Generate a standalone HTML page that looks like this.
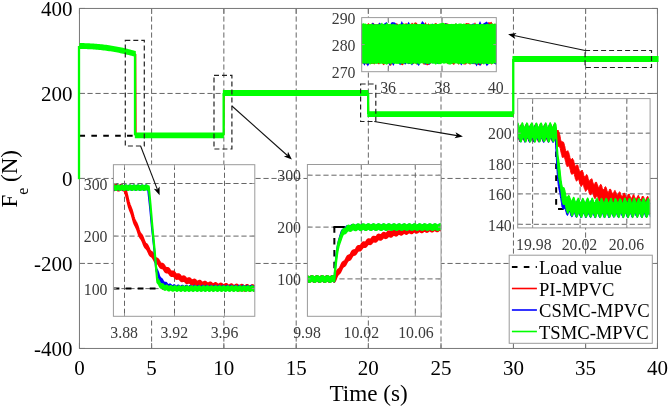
<!DOCTYPE html><html><head><meta charset="utf-8"><style>html,body{margin:0;padding:0;background:#fff;overflow:hidden;}svg{display:block;}#w{will-change:transform;width:669px;height:407px;}</style></head><body><div id="w"><svg width="669" height="407" viewBox="0 0 669 407"><rect width="669" height="407" fill="#fff"/>
<g stroke="#666" stroke-width="1" stroke-dasharray="5.2 2.8"><line x1="151.6" y1="8.45" x2="151.6" y2="348.45"/><line x1="223.85" y1="8.45" x2="223.85" y2="348.45"/><line x1="296.2" y1="8.45" x2="296.2" y2="348.45"/><line x1="368.35" y1="8.45" x2="368.35" y2="348.45"/><line x1="441" y1="8.45" x2="441" y2="348.45"/><line x1="513.45" y1="8.45" x2="513.45" y2="348.45"/><line x1="585.6" y1="8.45" x2="585.6" y2="348.45"/><line x1="79.45" y1="93.45" x2="657.45" y2="93.45"/><line x1="79.45" y1="178.45" x2="657.45" y2="178.45"/><line x1="79.45" y1="263.45" x2="657.45" y2="263.45"/></g>
<g stroke="#777" stroke-width="1"><line x1="79.45" y1="348.45" x2="79.45" y2="342.95"/><line x1="79.45" y1="8.45" x2="79.45" y2="13.95"/><line x1="151.6" y1="348.45" x2="151.6" y2="342.95"/><line x1="151.6" y1="8.45" x2="151.6" y2="13.95"/><line x1="223.85" y1="348.45" x2="223.85" y2="342.95"/><line x1="223.85" y1="8.45" x2="223.85" y2="13.95"/><line x1="296.2" y1="348.45" x2="296.2" y2="342.95"/><line x1="296.2" y1="8.45" x2="296.2" y2="13.95"/><line x1="368.35" y1="348.45" x2="368.35" y2="342.95"/><line x1="368.35" y1="8.45" x2="368.35" y2="13.95"/><line x1="441" y1="348.45" x2="441" y2="342.95"/><line x1="441" y1="8.45" x2="441" y2="13.95"/><line x1="513.45" y1="348.45" x2="513.45" y2="342.95"/><line x1="513.45" y1="8.45" x2="513.45" y2="13.95"/><line x1="585.6" y1="348.45" x2="585.6" y2="342.95"/><line x1="585.6" y1="8.45" x2="585.6" y2="13.95"/><line x1="657.45" y1="348.45" x2="657.45" y2="342.95"/><line x1="657.45" y1="8.45" x2="657.45" y2="13.95"/><line x1="79.45" y1="348.45" x2="84.95" y2="348.45"/><line x1="657.45" y1="348.45" x2="651.95" y2="348.45"/><line x1="79.45" y1="263.45" x2="84.95" y2="263.45"/><line x1="657.45" y1="263.45" x2="651.95" y2="263.45"/><line x1="79.45" y1="178.45" x2="84.95" y2="178.45"/><line x1="657.45" y1="178.45" x2="651.95" y2="178.45"/><line x1="79.45" y1="93.45" x2="84.95" y2="93.45"/><line x1="657.45" y1="93.45" x2="651.95" y2="93.45"/><line x1="79.45" y1="8.45" x2="84.95" y2="8.45"/><line x1="657.45" y1="8.45" x2="651.95" y2="8.45"/></g>
<rect x="79.45" y="8.45" width="578" height="340" fill="none" stroke="#777" stroke-width="1"/>
<polyline points="79.45,135.65 135.81,135.65" fill="none" stroke="#000" stroke-width="2" stroke-dasharray="5.6 6.3"/>
<polyline points="79.45,177.75 79.45,46.01 80.86,46.02 82.27,46.03 83.68,46.06 85.09,46.09 86.49,46.14 87.9,46.19 89.31,46.26 90.72,46.33 92.13,46.42 93.54,46.51 94.95,46.62 96.36,46.73 97.77,46.86 99.17,46.99 100.58,47.13 101.99,47.29 103.4,47.45 104.81,47.63 106.22,47.81 107.63,48.01 109.04,48.21 110.45,48.42 111.85,48.65 113.26,48.88 114.67,49.13 116.08,49.38 117.49,49.65 118.9,49.92 120.31,50.2 121.72,50.5 123.13,50.8 124.53,51.11 125.94,51.44 127.35,51.77 128.76,52.12 130.17,52.47 131.58,52.83 132.99,53.21 134.4,53.59 135.81,53.98 136.17,135.35 223.85,135.35 224.31,92.95 368.35,92.95 368.81,114.15 513.45,114.15 513.31,59.03 657.45,59.03" fill="none" stroke="#ff0000" stroke-width="1.0" />
<polygon points="79.45,43.06 80.86,43.07 82.27,43.08 83.68,43.11 85.09,43.14 86.49,43.19 87.9,43.24 89.31,43.31 90.72,43.38 92.13,43.47 93.54,43.56 94.95,43.67 96.36,43.78 97.77,43.91 99.17,44.04 100.58,44.18 101.99,44.34 103.4,44.5 104.81,44.68 106.22,44.86 107.63,45.06 109.04,45.26 110.45,45.47 111.85,45.7 113.26,45.93 114.67,46.18 116.08,46.43 117.49,46.7 118.9,46.97 120.31,47.25 121.72,47.55 123.13,47.85 124.53,48.16 125.94,48.49 127.35,48.82 128.76,49.17 130.17,49.52 131.58,49.88 132.99,50.26 134.4,50.64 135.81,51.03 135.81,56.93 134.4,56.54 132.99,56.16 131.58,55.78 130.17,55.42 128.76,55.07 127.35,54.72 125.94,54.39 124.53,54.06 123.13,53.75 121.72,53.45 120.31,53.15 118.9,52.87 117.49,52.6 116.08,52.33 114.67,52.08 113.26,51.83 111.85,51.6 110.45,51.37 109.04,51.16 107.63,50.96 106.22,50.76 104.81,50.58 103.4,50.4 101.99,50.24 100.58,50.08 99.17,49.94 97.77,49.81 96.36,49.68 94.95,49.57 93.54,49.46 92.13,49.37 90.72,49.28 89.31,49.21 87.9,49.14 86.49,49.09 85.09,49.04 83.68,49.01 82.27,48.98 80.86,48.97 79.45,48.96" fill="#00ff00"/>
<polygon points="134.81,132.4 223.85,132.4 223.85,138.3 134.81,138.3" fill="#00ff00"/>
<polygon points="222.85,90 368.35,90 368.35,95.9 222.85,95.9" fill="#00ff00"/>
<polygon points="367.35,111.2 513.45,111.2 513.45,117.1 367.35,117.1" fill="#00ff00"/>
<polygon points="512.45,56.08 658.55,56.08 658.55,61.98 512.45,61.98" fill="#00ff00"/>
<line x1="79" y1="179.23" x2="79" y2="46.01" stroke="#00ff00" stroke-width="2.3"/>
<line x1="135" y1="53.98" x2="135" y2="135.35" stroke="#00ff00" stroke-width="2.3"/>
<line x1="223.65" y1="135.35" x2="223.65" y2="92.95" stroke="#00ff00" stroke-width="2.3"/>
<line x1="368.15" y1="92.95" x2="368.15" y2="114.15" stroke="#00ff00" stroke-width="2.3"/>
<line x1="513.25" y1="114.15" x2="513.25" y2="59.03" stroke="#00ff00" stroke-width="2.3"/>
<g fill="none" stroke="#222" stroke-width="1.2" stroke-dasharray="5 3"><rect x="125.3" y="40.4" width="19" height="105.6"/><rect x="214" y="75.4" width="17.9" height="73.6"/><rect x="360.6" y="84" width="15.2" height="37.5"/><rect x="585.1" y="50.5" width="66.4" height="17"/></g>
<clipPath id="c1"><rect x="113.4" y="164.7" width="141.4" height="151.6"/></clipPath><rect x="113.4" y="164.7" width="141.4" height="151.6" fill="#fff"/><g stroke="#666" stroke-width="1" stroke-dasharray="5.2 2.8"><line x1="124.5" y1="164.7" x2="124.5" y2="316.3"/><line x1="174.5" y1="164.7" x2="174.5" y2="316.3"/><line x1="224.5" y1="164.7" x2="224.5" y2="316.3"/><line x1="113.4" y1="183.5" x2="254.8" y2="183.5"/><line x1="113.4" y1="236.1" x2="254.8" y2="236.1"/><line x1="113.4" y1="288.6" x2="254.8" y2="288.6"/></g><g clip-path="url(#c1)"><polyline points="113.6,288.6 257,288.6" fill="none" stroke="#000" stroke-width="2" stroke-dasharray="5.8 6.25"/><polygon points="110.75,184.91 110.99,184.96 111.24,185.06 111.48,185.2 111.73,185.38 111.97,185.56 112.21,185.75 112.46,185.92 112.7,186.06 112.94,186.16 113.19,186.2 113.43,186.19 113.68,186.13 113.92,186.02 114.16,185.87 114.41,185.69 114.65,185.5 114.89,185.32 115.14,185.15 115.38,185.02 115.63,184.94 115.87,184.9 116.11,184.93 116.36,185 116.6,185.12 116.84,185.28 117.09,185.46 117.33,185.65 117.58,185.83 117.82,185.99 118.06,186.11 118.31,186.18 118.55,186.2 118.79,186.17 119.04,186.08 119.28,185.95 119.53,185.79 119.77,185.6 120.01,185.41 120.26,185.24 120.5,185.09 120.74,184.98 120.99,184.92 121.23,184.91 121.48,184.95 121.72,185.05 121.96,185.19 122.21,185.36 122.45,185.55 122.69,185.74 122.94,185.91 123.18,186.05 123.43,186.15 123.67,186.2 123.91,186.19 124.16,186.14 124.4,186.03 124.64,186.46 124.89,187.26 125.13,188.03 125.38,188.8 125.62,189.58 125.86,190.38 126.11,191.22 126.35,192.1 126.59,193.03 126.84,194 127.08,195.01 127.33,196.05 127.57,197.1 127.81,198.16 128.06,199.2 128.3,200.2 128.54,201.17 128.79,202.08 129.03,202.93 129.28,203.72 129.52,204.44 129.76,205.12 130.01,205.75 130.25,206.35 130.49,206.94 130.74,207.53 130.98,208.14 131.23,208.78 131.47,209.46 131.71,210.19 131.96,210.97 132.2,211.79 132.44,212.64 132.69,213.53 132.93,214.42 133.18,215.3 133.42,216.17 133.66,217 133.91,217.78 134.15,218.51 134.39,219.17 134.64,219.78 134.88,220.32 135.13,220.83 135.37,221.29 135.61,221.74 135.86,222.18 136.1,222.63 136.34,223.11 136.59,223.63 136.83,224.19 137.08,224.8 137.32,225.46 137.56,226.16 137.81,226.9 138.05,227.65 138.29,228.41 138.54,229.15 138.78,229.87 139.03,230.55 139.27,231.18 139.51,231.75 139.76,232.27 140,232.72 140.24,233.12 140.49,233.48 140.73,233.82 140.98,234.14 141.22,234.47 141.46,234.81 141.71,235.19 141.95,235.61 142.19,236.08 142.44,236.61 142.68,237.17 142.93,237.78 143.17,238.41 143.41,239.06 143.66,239.71 143.9,240.34 144.14,240.94 144.39,241.49 144.63,241.99 144.88,242.43 145.12,242.82 145.36,243.15 145.61,243.43 145.85,243.68 146.09,243.91 146.34,244.13 146.58,244.37 146.83,244.64 147.07,244.94 147.31,245.29 147.56,245.69 147.8,246.15 148.04,246.64 148.29,247.17 148.53,247.73 148.78,248.29 149.02,248.85 149.26,249.38 149.51,249.87 149.75,250.32 149.99,250.71 150.24,251.04 150.48,251.31 150.73,251.54 150.97,251.72 151.21,251.88 151.46,252.03 151.7,252.18 151.94,252.35 152.19,252.56 152.43,252.81 152.68,253.11 152.92,253.46 153.16,253.86 153.41,254.3 153.65,254.78 153.89,255.27 154.14,255.76 154.38,256.23 154.63,256.68 154.87,257.08 155.11,257.43 155.36,257.73 155.6,257.97 155.84,258.15 156.09,258.29 156.33,258.4 156.58,258.49 156.82,258.57 157.06,258.67 157.31,258.79 157.55,258.96 157.79,259.17 158.04,259.43 158.28,259.74 158.53,260.11 158.77,260.51 159.01,260.93 159.26,261.36 159.5,261.79 159.74,262.2 159.99,262.57 160.23,262.9 160.48,263.17 160.72,263.38 160.96,263.54 161.21,263.65 161.45,263.72 161.69,263.77 161.94,263.8 162.18,263.84 162.43,263.89 162.67,263.98 162.91,264.12 163.16,264.3 163.4,264.54 163.64,264.83 163.89,265.16 164.13,265.53 164.38,265.91 164.62,266.3 164.86,266.68 165.11,267.02 165.35,267.33 165.59,267.59 165.84,267.79 166.08,267.93 166.33,268.03 166.57,268.07 166.81,268.09 167.06,268.08 167.3,268.07 167.54,268.07 167.79,268.1 168.03,268.17 168.28,268.29 168.52,268.46 168.76,268.68 169.01,268.96 169.25,269.27 169.49,269.6 169.74,269.95 169.98,270.3 170.23,270.63 170.47,270.92 170.71,271.17 170.96,271.36 171.2,271.5 171.44,271.59 171.69,271.62 171.93,271.62 172.18,271.59 172.42,271.54 172.66,271.5 172.91,271.48 173.15,271.5 173.39,271.56 173.64,271.67 173.88,271.83 174.13,272.04 174.37,272.3 174.61,272.6 174.86,272.91 175.1,273.23 175.34,273.54 175.59,273.82 175.83,274.07 176.08,274.26 176.32,274.4 176.56,274.49 176.81,274.52 177.05,274.51 177.29,274.46 177.54,274.39 177.78,274.32 178.03,274.26 178.27,274.23 178.51,274.24 178.76,274.29 179,274.4 179.24,274.56 179.49,274.77 179.73,275.02 179.98,275.3 180.22,275.6 180.46,275.89 180.71,276.16 180.95,276.41 181.19,276.6 181.44,276.75 181.68,276.84 181.93,276.88 182.17,276.87 182.41,276.81 182.66,276.73 182.9,276.64 183.14,276.55 183.39,276.48 183.63,276.44 183.88,276.45 184.12,276.51 184.36,276.62 184.61,276.78 184.85,276.99 185.09,277.24 185.34,277.51 185.58,277.78 185.83,278.05 186.07,278.29 186.31,278.49 186.56,278.65 186.8,278.75 187.04,278.8 187.29,278.79 187.53,278.74 187.78,278.65 188.02,278.55 188.26,278.44 188.51,278.34 188.75,278.26 188.99,278.23 189.24,278.24 189.48,278.3 189.73,278.42 189.97,278.59 190.21,278.8 190.46,279.05 190.7,279.3 190.94,279.56 191.19,279.8 191.43,280.01 191.68,280.18 191.92,280.29 192.16,280.35 192.41,280.36 192.65,280.32 192.89,280.23 193.14,280.12 193.38,280 193.63,279.87 193.87,279.77 194.11,279.7 194.36,279.67 194.6,279.69 194.84,279.77 195.09,279.9 195.33,280.07 195.58,280.29 195.82,280.52 196.06,280.77 196.31,281.01 196.55,281.22 196.79,281.4 197.04,281.53 197.28,281.61 197.53,281.63 197.77,281.6 198.01,281.53 198.26,281.42 198.5,281.29 198.74,281.15 198.99,281.02 199.23,280.92 199.48,280.85 199.72,280.83 199.96,280.87 200.21,280.96 200.45,281.1 200.69,281.29 200.94,281.5 201.18,281.73 201.43,281.97 201.67,282.19 201.91,282.37 202.16,282.52 202.4,282.62 202.64,282.66 202.89,282.65 203.13,282.59 203.38,282.49 203.62,282.35 203.86,282.21 204.11,282.06 204.35,281.94 204.59,281.84 204.84,281.79 205.08,281.78 205.33,281.84 205.57,281.94 205.81,282.09 206.06,282.29 206.3,282.5 206.54,282.73 206.79,282.95 207.03,283.15 207.28,283.31 207.52,283.43 207.76,283.49 208.01,283.5 208.25,283.46 208.49,283.37 208.74,283.24 208.98,283.09 209.23,282.93 209.47,282.79 209.71,282.67 209.96,282.58 210.2,282.54 210.44,282.56 210.69,282.63 210.93,282.75 211.18,282.91 211.42,283.11 211.66,283.33 211.91,283.55 212.15,283.75 212.39,283.93 212.64,284.06 212.88,284.15 213.13,284.18 213.37,284.16 213.61,284.09 213.86,283.97 214.1,283.83 214.34,283.67 214.59,283.51 214.83,283.36 215.08,283.25 215.32,283.18 215.56,283.16 215.81,283.2 216.05,283.28 216.29,283.42 216.54,283.6 216.78,283.8 217.03,284.01 217.27,284.22 217.51,284.41 217.76,284.56 218,284.67 218.24,284.73 218.49,284.73 218.73,284.68 218.98,284.58 219.22,284.44 219.46,284.28 219.71,284.12 219.95,283.96 220.19,283.82 220.44,283.72 220.68,283.67 220.93,283.67 221.17,283.72 221.41,283.83 221.66,283.98 221.9,284.17 222.14,284.37 222.39,284.58 222.63,284.77 222.88,284.94 223.12,285.07 223.36,285.15 223.61,285.18 223.85,285.15 224.09,285.07 224.34,284.95 224.58,284.8 224.83,284.63 225.07,284.46 225.31,284.31 225.56,284.18 225.8,284.1 226.04,284.07 226.29,284.09 226.53,284.16 226.78,284.29 227.02,284.45 227.26,284.65 227.51,284.85 227.75,285.05 227.99,285.23 228.24,285.38 228.48,285.49 228.73,285.54 228.97,285.54 229.21,285.48 229.46,285.38 229.7,285.24 229.94,285.07 230.19,284.9 230.43,284.73 230.68,284.58 230.92,284.47 231.16,284.41 231.41,284.4 231.65,284.44 231.89,284.54 232.14,284.68 232.38,284.85 232.63,285.05 232.87,285.25 233.11,285.44 233.36,285.61 233.6,285.74 233.84,285.81 234.09,285.84 234.33,285.81 234.58,285.73 234.82,285.6 235.06,285.45 235.31,285.27 235.55,285.09 235.79,284.93 236.04,284.8 236.28,284.71 236.53,284.66 236.77,284.68 237.01,284.74 237.26,284.86 237.5,285.01 237.74,285.2 237.99,285.4 238.23,285.59 238.48,285.77 238.72,285.92 238.96,286.02 239.21,286.07 239.45,286.07 239.69,286.01 239.94,285.91 240.18,285.76 240.43,285.59 240.67,285.41 240.91,285.24 241.16,285.09 241.4,284.97 241.64,284.9 241.89,284.88 242.13,284.91 242.38,285 242.62,285.13 242.86,285.3 243.11,285.49 243.35,285.69 243.59,285.88 243.84,286.04 244.08,286.17 244.33,286.25 244.57,286.27 244.81,286.24 245.06,286.16 245.3,286.03 245.54,285.87 245.79,285.7 246.03,285.52 246.28,285.35 246.52,285.21 246.76,285.11 247.01,285.06 247.25,285.06 247.49,285.12 247.74,285.23 247.98,285.38 248.23,285.56 248.47,285.75 248.71,285.94 248.96,286.12 249.2,286.27 249.44,286.37 249.69,286.42 249.93,286.42 250.18,286.36 250.42,286.26 250.66,286.11 250.91,285.94 251.15,285.76 251.39,285.58 251.64,285.43 251.88,285.3 252.13,285.22 252.37,285.19 252.61,285.22 252.86,285.3 253.1,285.43 253.34,285.59 253.59,285.78 253.83,285.97 254.08,286.16 254.32,286.32 254.56,286.45 254.81,286.53 255.05,286.56 255.29,286.53 255.54,286.45 255.78,286.32 256.03,286.16 256.27,285.98 256.51,285.8 256.76,285.63 257,285.48 257,289.78 256.76,289.93 256.51,290.1 256.27,290.28 256.03,290.46 255.78,290.62 255.54,290.75 255.29,290.83 255.05,290.86 254.81,290.83 254.56,290.75 254.32,290.62 254.08,290.46 253.83,290.27 253.59,290.08 253.34,289.89 253.1,289.73 252.86,289.6 252.61,289.52 252.37,289.49 252.13,289.52 251.88,289.6 251.64,289.73 251.39,289.88 251.15,290.06 250.91,290.24 250.66,290.41 250.42,290.56 250.18,290.66 249.93,290.72 249.69,290.72 249.44,290.67 249.2,290.57 248.96,290.42 248.71,290.24 248.47,290.05 248.23,289.86 247.98,289.68 247.74,289.53 247.49,289.42 247.25,289.36 247.01,289.36 246.76,289.41 246.52,289.51 246.28,289.65 246.03,289.82 245.79,290 245.54,290.17 245.3,290.33 245.06,290.46 244.81,290.54 244.57,290.57 244.33,290.55 244.08,290.47 243.84,290.34 243.59,290.18 243.35,289.99 243.11,289.79 242.86,289.6 242.62,289.43 242.38,289.3 242.13,289.21 241.89,289.18 241.64,289.2 241.4,289.27 241.16,289.39 240.91,289.54 240.67,289.71 240.43,289.89 240.18,290.06 239.94,290.21 239.69,290.31 239.45,290.37 239.21,290.37 238.96,290.32 238.72,290.22 238.48,290.07 238.23,289.89 237.99,289.7 237.74,289.5 237.5,289.31 237.26,289.16 237.01,289.04 236.77,288.98 236.53,288.96 236.28,289.01 236.04,289.1 235.79,289.23 235.55,289.39 235.31,289.57 235.06,289.75 234.82,289.9 234.58,290.03 234.33,290.11 234.09,290.14 233.84,290.11 233.6,290.04 233.36,289.91 233.11,289.74 232.87,289.55 232.63,289.35 232.38,289.15 232.14,288.98 231.89,288.84 231.65,288.74 231.41,288.7 231.16,288.71 230.92,288.77 230.68,288.88 230.43,289.03 230.19,289.2 229.94,289.37 229.7,289.54 229.46,289.68 229.21,289.78 228.97,289.84 228.73,289.84 228.48,289.79 228.24,289.68 227.99,289.53 227.75,289.35 227.51,289.15 227.26,288.95 227.02,288.75 226.78,288.59 226.53,288.46 226.29,288.39 226.04,288.37 225.8,288.4 225.56,288.48 225.31,288.61 225.07,288.76 224.83,288.93 224.58,289.1 224.34,289.25 224.09,289.37 223.85,289.45 223.61,289.48 223.36,289.45 223.12,289.37 222.88,289.24 222.63,289.07 222.39,288.88 222.14,288.67 221.9,288.47 221.66,288.28 221.41,288.13 221.17,288.02 220.93,287.97 220.68,287.97 220.44,288.02 220.19,288.12 219.95,288.26 219.71,288.42 219.46,288.58 219.22,288.74 218.98,288.88 218.73,288.98 218.49,289.03 218.24,289.03 218,288.97 217.76,288.86 217.51,288.71 217.27,288.52 217.03,288.31 216.78,288.1 216.54,287.9 216.29,287.72 216.05,287.58 215.81,287.5 215.56,287.46 215.32,287.48 215.08,287.55 214.83,287.66 214.59,287.81 214.34,287.97 214.1,288.13 213.86,288.27 213.61,288.39 213.37,288.46 213.13,288.48 212.88,288.45 212.64,288.36 212.39,288.23 212.15,288.05 211.91,287.85 211.66,287.63 211.42,287.41 211.18,287.21 210.93,287.05 210.69,286.93 210.44,286.86 210.2,286.84 209.96,286.88 209.71,286.97 209.47,287.09 209.23,287.23 208.98,287.39 208.74,287.54 208.49,287.67 208.25,287.76 208.01,287.8 207.76,287.79 207.52,287.73 207.28,287.61 207.03,287.45 206.79,287.25 206.54,287.03 206.3,286.8 206.06,286.59 205.81,286.39 205.57,286.24 205.33,286.14 205.08,286.08 204.84,286.09 204.59,286.14 204.35,286.24 204.11,286.36 203.86,286.51 203.62,286.65 203.38,286.79 203.13,286.89 202.89,286.95 202.64,286.96 202.4,286.92 202.16,286.82 201.91,286.67 201.67,286.49 201.43,286.27 201.18,286.03 200.94,285.8 200.69,285.59 200.45,285.4 200.21,285.26 199.96,285.17 199.72,285.13 199.48,285.15 199.23,285.22 198.99,285.32 198.74,285.45 198.5,285.59 198.26,285.72 198.01,285.83 197.77,285.9 197.53,285.93 197.28,285.91 197.04,285.83 196.79,285.7 196.55,285.52 196.31,285.31 196.06,285.07 195.82,284.82 195.58,284.59 195.33,284.37 195.09,284.2 194.84,284.07 194.6,283.99 194.36,283.97 194.11,284 193.87,284.07 193.63,284.17 193.38,284.3 193.14,284.42 192.89,284.53 192.65,284.62 192.41,284.66 192.16,284.65 191.92,284.59 191.68,284.48 191.43,284.31 191.19,284.1 190.94,283.86 190.7,283.6 190.46,283.35 190.21,283.1 189.97,282.89 189.73,282.72 189.48,282.6 189.24,282.54 188.99,282.53 188.75,282.56 188.51,282.64 188.26,282.74 188.02,282.85 187.78,282.95 187.53,283.04 187.29,283.09 187.04,283.1 186.8,283.05 186.56,282.95 186.31,282.79 186.07,282.59 185.83,282.35 185.58,282.08 185.34,281.81 185.09,281.54 184.85,281.29 184.61,281.08 184.36,280.92 184.12,280.81 183.88,280.75 183.63,280.74 183.39,280.78 183.14,280.85 182.9,280.94 182.66,281.03 182.41,281.11 182.17,281.17 181.93,281.18 181.68,281.14 181.44,281.05 181.19,280.9 180.95,280.71 180.71,280.46 180.46,280.19 180.22,279.9 179.98,279.6 179.73,279.32 179.49,279.07 179.24,278.86 179,278.7 178.76,278.59 178.51,278.54 178.27,278.53 178.03,278.56 177.78,278.62 177.54,278.69 177.29,278.76 177.05,278.81 176.81,278.82 176.56,278.79 176.32,278.7 176.08,278.56 175.83,278.37 175.59,278.12 175.34,277.84 175.1,277.53 174.86,277.21 174.61,276.9 174.37,276.6 174.13,276.34 173.88,276.13 173.64,275.97 173.39,275.86 173.15,275.8 172.91,275.78 172.66,275.8 172.42,275.84 172.18,275.89 171.93,275.92 171.69,275.92 171.44,275.89 171.2,275.8 170.96,275.66 170.71,275.47 170.47,275.22 170.23,274.93 169.98,274.6 169.74,274.25 169.49,273.9 169.25,273.57 169.01,273.26 168.76,272.98 168.52,272.76 168.28,272.59 168.03,272.47 167.79,272.4 167.54,272.37 167.3,272.37 167.06,272.38 166.81,272.39 166.57,272.37 166.33,272.33 166.08,272.23 165.84,272.09 165.59,271.89 165.35,271.63 165.11,271.32 164.86,270.98 164.62,270.6 164.38,270.21 164.13,269.83 163.89,269.46 163.64,269.13 163.4,268.84 163.16,268.6 162.91,268.42 162.67,268.28 162.43,268.19 162.18,268.14 161.94,268.1 161.69,268.07 161.45,268.02 161.21,267.95 160.96,267.84 160.72,267.68 160.48,267.47 160.23,267.2 159.99,266.87 159.74,266.5 159.5,266.09 159.26,265.66 159.01,265.23 158.77,264.81 158.53,264.41 158.28,264.04 158.04,263.73 157.79,263.47 157.55,263.26 157.31,263.09 157.06,262.97 156.82,262.87 156.58,262.79 156.33,262.7 156.09,262.59 155.84,262.45 155.6,262.27 155.36,262.03 155.11,261.73 154.87,261.38 154.63,260.98 154.38,260.53 154.14,260.06 153.89,259.57 153.65,259.08 153.41,258.6 153.16,258.16 152.92,257.76 152.68,257.41 152.43,257.11 152.19,256.86 151.94,256.65 151.7,256.48 151.46,256.33 151.21,256.18 150.97,256.02 150.73,255.84 150.48,255.61 150.24,255.34 149.99,255.01 149.75,254.62 149.51,254.17 149.26,253.68 149.02,253.15 148.78,252.59 148.53,252.03 148.29,251.47 148.04,250.94 147.8,250.45 147.56,249.99 147.31,249.59 147.07,249.24 146.83,248.94 146.58,248.67 146.34,248.43 146.09,248.21 145.85,247.98 145.61,247.73 145.36,247.45 145.12,247.12 144.88,246.73 144.63,246.29 144.39,245.79 144.14,245.24 143.9,244.64 143.66,244.01 143.41,243.36 143.17,242.71 142.93,242.08 142.68,241.47 142.44,240.91 142.19,240.38 141.95,239.91 141.71,239.49 141.46,239.11 141.22,238.77 140.98,238.44 140.73,238.12 140.49,237.78 140.24,237.42 140,237.02 139.76,236.57 139.51,236.05 139.27,235.48 139.03,234.85 138.78,234.17 138.54,233.45 138.29,232.71 138.05,231.95 137.81,231.2 137.56,230.46 137.32,229.76 137.08,229.1 136.83,228.49 136.59,227.93 136.34,227.41 136.1,226.93 135.86,226.48 135.61,226.04 135.37,225.59 135.13,225.13 134.88,224.62 134.64,224.08 134.39,223.47 134.15,222.81 133.91,222.08 133.66,221.3 133.42,220.47 133.18,219.6 132.93,218.72 132.69,217.83 132.44,216.94 132.2,216.09 131.96,215.27 131.71,214.49 131.47,213.76 131.23,213.08 130.98,212.44 130.74,211.83 130.49,211.24 130.25,210.65 130.01,210.05 129.76,209.42 129.52,208.74 129.28,208.02 129.03,207.23 128.79,206.38 128.54,205.47 128.3,204.5 128.06,203.5 127.81,202.46 127.57,201.4 127.33,200.35 127.08,199.31 126.84,198.3 126.59,197.33 126.35,196.4 126.11,195.52 125.86,194.68 125.62,193.88 125.38,193.1 125.13,192.33 124.89,191.56 124.64,190.76 124.4,190.33 124.16,190.44 123.91,190.49 123.67,190.5 123.43,190.45 123.18,190.35 122.94,190.21 122.69,190.04 122.45,189.85 122.21,189.66 121.96,189.49 121.72,189.35 121.48,189.25 121.23,189.21 120.99,189.22 120.74,189.28 120.5,189.39 120.26,189.54 120.01,189.71 119.77,189.9 119.53,190.09 119.28,190.25 119.04,190.38 118.79,190.47 118.55,190.5 118.31,190.48 118.06,190.41 117.82,190.29 117.58,190.13 117.33,189.95 117.09,189.76 116.84,189.58 116.6,189.42 116.36,189.3 116.11,189.23 115.87,189.2 115.63,189.24 115.38,189.32 115.14,189.45 114.89,189.62 114.65,189.8 114.41,189.99 114.16,190.17 113.92,190.32 113.68,190.43 113.43,190.49 113.19,190.5 112.94,190.46 112.7,190.36 112.46,190.22 112.21,190.05 111.97,189.86 111.73,189.68 111.48,189.5 111.24,189.36 110.99,189.26 110.75,189.21" fill="#ff0000" stroke="#ff0000" stroke-width="2.2" stroke-linejoin="round"/><polygon points="110.75,186.22 110.99,186.35 111.24,186.4 111.48,186.37 111.73,186.26 111.97,186.09 112.21,185.88 112.46,185.65 112.7,185.45 112.94,185.3 113.19,185.21 113.43,185.22 113.68,185.3 113.92,185.45 114.16,185.66 114.41,185.88 114.65,186.1 114.89,186.27 115.14,186.38 115.38,186.4 115.63,186.35 115.87,186.21 116.11,186.02 116.36,185.8 116.6,185.58 116.84,185.39 117.09,185.26 117.33,185.21 117.58,185.23 117.82,185.34 118.06,185.52 118.31,185.73 118.55,185.96 118.79,186.16 119.04,186.31 119.28,186.39 119.53,186.39 119.77,186.31 120.01,186.15 120.26,185.95 120.5,185.73 120.74,185.51 120.99,185.34 121.23,185.23 121.48,185.21 121.72,185.26 121.96,185.4 122.21,185.59 122.45,185.81 122.69,186.03 122.94,186.22 123.18,186.35 123.43,186.4 123.67,186.37 123.91,186.26 124.16,186.09 124.4,185.88 124.64,185.65 124.89,185.45 125.13,185.3 125.38,185.21 125.62,185.22 125.86,185.3 126.11,185.45 126.35,185.66 126.59,185.88 126.84,186.1 127.08,186.27 127.33,186.38 127.57,186.4 127.81,186.35 128.06,186.21 128.3,186.02 128.54,185.8 128.79,185.58 129.03,185.39 129.28,185.26 129.52,185.21 129.76,185.23 130.01,185.34 130.25,185.52 130.49,185.73 130.74,185.96 130.98,186.16 131.23,186.31 131.47,186.39 131.71,186.39 131.96,186.31 132.2,186.15 132.44,185.95 132.69,185.73 132.93,185.51 133.18,185.34 133.42,185.23 133.66,185.21 133.91,185.26 134.15,185.4 134.39,185.59 134.64,185.81 134.88,186.03 135.13,186.22 135.37,186.35 135.61,186.4 135.86,186.37 136.1,186.26 136.34,186.09 136.59,185.88 136.83,185.65 137.08,185.45 137.32,185.3 137.56,185.21 137.81,185.22 138.05,185.3 138.29,185.45 138.54,185.66 138.78,185.88 139.03,186.1 139.27,186.27 139.51,186.38 139.76,186.4 140,186.35 140.24,186.21 140.49,186.02 140.73,185.8 140.98,185.58 141.22,185.39 141.46,185.26 141.71,185.21 141.95,185.23 142.19,185.34 142.44,185.52 142.68,185.73 142.93,185.96 143.17,186.16 143.41,186.31 143.66,186.39 143.9,186.39 144.14,186.31 144.39,186.15 144.63,185.95 144.88,185.73 145.12,185.51 145.36,185.34 145.61,185.23 145.85,185.21 146.09,185.26 146.34,185.4 146.58,185.59 146.83,185.81 147.07,186.03 147.31,186.22 147.56,186.35 147.8,186.4 148.04,186.81 148.29,189.14 148.53,191.4 148.78,193.61 149.02,195.82 149.26,198.05 149.51,200.34 149.75,202.69 149.99,205.12 150.24,207.64 150.48,210.23 150.73,212.87 150.97,215.52 151.21,218.17 151.46,220.78 151.7,223.32 151.94,225.78 152.19,228.16 152.43,230.46 152.68,232.7 152.92,234.91 153.16,237.13 153.41,239.37 153.65,241.67 153.89,244.05 154.14,246.51 154.38,249.06 154.63,251.66 154.87,254.31 155.11,256.97 155.36,259.61 155.6,262.19 155.84,264.71 156.09,266.61 156.33,267.44 156.58,268.16 156.82,268.79 157.06,269.36 157.31,269.9 157.55,270.46 157.79,271.04 158.04,271.67 158.28,272.36 158.53,273.1 158.77,273.86 159.01,274.63 159.26,275.38 159.5,276.06 159.74,276.67 159.99,277.18 160.23,277.59 160.48,277.9 160.72,278.12 160.96,278.28 161.21,278.42 161.45,278.56 161.69,278.74 161.94,278.97 162.18,279.27 162.43,279.64 162.67,280.07 162.91,280.53 163.16,281.01 163.4,281.46 163.64,281.86 163.89,282.18 164.13,282.42 164.38,282.56 164.62,282.61 164.86,282.6 165.11,282.55 165.35,282.5 165.59,282.47 165.84,282.48 166.08,282.57 166.33,282.74 166.57,282.98 166.81,283.27 167.06,283.61 167.3,283.94 167.54,284.26 167.79,284.51 168.03,284.69 168.28,284.79 168.52,284.79 168.76,284.72 169.01,284.6 169.25,284.45 169.49,284.31 169.74,284.21 169.98,284.17 170.23,284.21 170.47,284.33 170.71,284.52 170.96,284.77 171.2,285.04 171.44,285.32 171.69,285.55 171.93,285.73 172.18,285.83 172.42,285.85 172.66,285.78 172.91,285.64 173.15,285.47 173.39,285.28 173.64,285.11 173.88,284.99 174.13,284.94 174.37,284.97 174.61,285.08 174.86,285.26 175.1,285.49 175.34,285.74 175.59,285.97 175.83,286.17 176.08,286.3 176.32,286.35 176.56,286.31 176.81,286.19 177.05,286.02 177.29,285.82 177.54,285.61 177.78,285.44 178.03,285.32 178.27,285.28 178.51,285.32 178.76,285.45 179,285.63 179.24,285.86 179.49,286.09 179.73,286.31 179.98,286.47 180.22,286.56 180.46,286.57 180.71,286.49 180.95,286.35 181.19,286.15 181.44,285.94 181.68,285.73 181.93,285.56 182.17,285.46 182.41,285.44 182.66,285.5 182.9,285.64 183.14,285.84 183.39,286.07 183.63,286.29 183.88,286.49 184.12,286.62 184.36,286.68 184.61,286.66 184.85,286.55 185.09,286.38 185.34,286.17 185.58,285.95 185.83,285.75 186.07,285.6 186.31,285.52 186.56,285.52 186.8,285.61 187.04,285.77 187.29,285.97 187.53,286.2 187.78,286.42 188.02,286.59 188.26,286.7 188.51,286.73 188.75,286.68 188.99,286.55 189.24,286.36 189.48,286.14 189.73,285.92 189.97,285.73 190.21,285.6 190.46,285.55 190.7,285.58 190.94,285.69 191.19,285.86 191.43,286.08 191.68,286.3 191.92,286.51 192.16,286.66 192.41,286.74 192.65,286.74 192.89,286.66 193.14,286.51 193.38,286.3 193.63,286.08 193.87,285.87 194.11,285.7 194.36,285.59 194.6,285.56 194.84,285.62 195.09,285.75 195.33,285.94 195.58,286.17 195.82,286.39 196.06,286.58 196.31,286.71 196.55,286.76 196.79,286.74 197.04,286.63 197.28,286.45 197.53,286.24 197.77,286.02 198.01,285.81 198.26,285.66 198.5,285.58 198.74,285.58 198.99,285.66 199.23,285.82 199.48,286.02 199.72,286.25 199.96,286.46 200.21,286.63 200.45,286.74 200.69,286.77 200.94,286.71 201.18,286.58 201.43,286.39 201.67,286.17 201.91,285.95 202.16,285.76 202.4,285.63 202.64,285.57 202.89,285.6 203.13,285.71 203.38,285.89 203.62,286.1 203.86,286.32 204.11,286.53 204.35,286.68 204.59,286.76 204.84,286.76 205.08,286.68 205.33,286.52 205.57,286.32 205.81,286.1 206.06,285.88 206.3,285.71 206.54,285.6 206.79,285.57 207.03,285.63 207.28,285.76 207.52,285.95 207.76,286.18 208.01,286.4 208.25,286.59 208.49,286.72 208.74,286.77 208.98,286.74 209.23,286.63 209.47,286.46 209.71,286.25 209.96,286.02 210.2,285.82 210.44,285.67 210.69,285.58 210.93,285.59 211.18,285.67 211.42,285.82 211.66,286.03 211.91,286.25 212.15,286.47 212.39,286.64 212.64,286.75 212.88,286.77 213.13,286.72 213.37,286.58 213.61,286.39 213.86,286.17 214.1,285.95 214.34,285.76 214.59,285.63 214.83,285.58 215.08,285.6 215.32,285.71 215.56,285.89 215.81,286.1 216.05,286.33 216.29,286.53 216.54,286.68 216.78,286.76 217.03,286.76 217.27,286.68 217.51,286.52 217.76,286.32 218,286.1 218.24,285.88 218.49,285.71 218.73,285.6 218.98,285.58 219.22,285.63 219.46,285.77 219.71,285.96 219.95,286.18 220.19,286.4 220.44,286.59 220.68,286.72 220.93,286.77 221.17,286.74 221.41,286.64 221.66,286.46 221.9,286.25 222.14,286.02 222.39,285.82 222.63,285.67 222.88,285.58 223.12,285.59 223.36,285.67 223.61,285.82 223.85,286.03 224.09,286.25 224.34,286.47 224.58,286.64 224.83,286.75 225.07,286.77 225.31,286.72 225.56,286.58 225.8,286.39 226.04,286.17 226.29,285.95 226.53,285.76 226.78,285.63 227.02,285.58 227.26,285.6 227.51,285.71 227.75,285.89 227.99,286.1 228.24,286.33 228.48,286.53 228.73,286.68 228.97,286.76 229.21,286.76 229.46,286.68 229.7,286.53 229.94,286.32 230.19,286.1 230.43,285.88 230.68,285.71 230.92,285.6 231.16,285.58 231.41,285.63 231.65,285.77 231.89,285.96 232.14,286.18 232.38,286.4 232.63,286.59 232.87,286.72 233.11,286.77 233.36,286.74 233.6,286.64 233.84,286.46 234.09,286.25 234.33,286.02 234.58,285.82 234.82,285.67 235.06,285.58 235.31,285.59 235.55,285.67 235.79,285.82 236.04,286.03 236.28,286.25 236.53,286.47 236.77,286.64 237.01,286.75 237.26,286.77 237.5,286.72 237.74,286.58 237.99,286.39 238.23,286.17 238.48,285.95 238.72,285.76 238.96,285.63 239.21,285.58 239.45,285.6 239.69,285.71 239.94,285.89 240.18,286.1 240.43,286.33 240.67,286.53 240.91,286.68 241.16,286.76 241.4,286.76 241.64,286.68 241.89,286.53 242.13,286.32 242.38,286.1 242.62,285.88 242.86,285.71 243.11,285.6 243.35,285.58 243.59,285.63 243.84,285.77 244.08,285.96 244.33,286.18 244.57,286.4 244.81,286.59 245.06,286.72 245.3,286.77 245.54,286.74 245.79,286.64 246.03,286.46 246.28,286.25 246.52,286.02 246.76,285.82 247.01,285.67 247.25,285.58 247.49,285.59 247.74,285.67 247.98,285.82 248.23,286.03 248.47,286.25 248.71,286.47 248.96,286.64 249.2,286.75 249.44,286.77 249.69,286.72 249.93,286.58 250.18,286.39 250.42,286.17 250.66,285.95 250.91,285.76 251.15,285.63 251.39,285.58 251.64,285.6 251.88,285.71 252.13,285.89 252.37,286.1 252.61,286.33 252.86,286.53 253.1,286.68 253.34,286.76 253.59,286.76 253.83,286.68 254.08,286.53 254.32,286.32 254.56,286.1 254.81,285.88 255.05,285.71 255.29,285.6 255.54,285.58 255.78,285.63 256.03,285.77 256.27,285.96 256.51,286.18 256.76,286.4 257,286.59 257,290.39 256.76,290.2 256.51,289.98 256.27,289.76 256.03,289.57 255.78,289.43 255.54,289.38 255.29,289.4 255.05,289.51 254.81,289.68 254.56,289.9 254.32,290.12 254.08,290.33 253.83,290.48 253.59,290.56 253.34,290.56 253.1,290.48 252.86,290.33 252.61,290.13 252.37,289.9 252.13,289.69 251.88,289.51 251.64,289.4 251.39,289.38 251.15,289.43 250.91,289.56 250.66,289.75 250.42,289.97 250.18,290.19 249.93,290.38 249.69,290.52 249.44,290.57 249.2,290.55 248.96,290.44 248.71,290.27 248.47,290.05 248.23,289.83 247.98,289.62 247.74,289.47 247.49,289.39 247.25,289.38 247.01,289.47 246.76,289.62 246.52,289.82 246.28,290.05 246.03,290.26 245.79,290.44 245.54,290.54 245.3,290.57 245.06,290.52 244.81,290.39 244.57,290.2 244.33,289.98 244.08,289.76 243.84,289.57 243.59,289.43 243.35,289.38 243.11,289.4 242.86,289.51 242.62,289.68 242.38,289.9 242.13,290.12 241.89,290.33 241.64,290.48 241.4,290.56 241.16,290.56 240.91,290.48 240.67,290.33 240.43,290.13 240.18,289.9 239.94,289.69 239.69,289.51 239.45,289.4 239.21,289.38 238.96,289.43 238.72,289.56 238.48,289.75 238.23,289.97 237.99,290.19 237.74,290.38 237.5,290.52 237.26,290.57 237.01,290.55 236.77,290.44 236.53,290.27 236.28,290.05 236.04,289.83 235.79,289.62 235.55,289.47 235.31,289.39 235.06,289.38 234.82,289.47 234.58,289.62 234.33,289.82 234.09,290.05 233.84,290.26 233.6,290.44 233.36,290.54 233.11,290.57 232.87,290.52 232.63,290.39 232.38,290.2 232.14,289.98 231.89,289.76 231.65,289.57 231.41,289.43 231.16,289.38 230.92,289.4 230.68,289.51 230.43,289.68 230.19,289.9 229.94,290.12 229.7,290.33 229.46,290.48 229.21,290.56 228.97,290.56 228.73,290.48 228.48,290.33 228.24,290.13 227.99,289.9 227.75,289.69 227.51,289.51 227.26,289.4 227.02,289.38 226.78,289.43 226.53,289.56 226.29,289.75 226.04,289.97 225.8,290.19 225.56,290.38 225.31,290.52 225.07,290.57 224.83,290.55 224.58,290.44 224.34,290.27 224.09,290.05 223.85,289.83 223.61,289.62 223.36,289.47 223.12,289.39 222.88,289.38 222.63,289.47 222.39,289.62 222.14,289.82 221.9,290.05 221.66,290.26 221.41,290.44 221.17,290.54 220.93,290.57 220.68,290.52 220.44,290.39 220.19,290.2 219.95,289.98 219.71,289.76 219.46,289.57 219.22,289.43 218.98,289.38 218.73,289.4 218.49,289.51 218.24,289.68 218,289.9 217.76,290.12 217.51,290.32 217.27,290.48 217.03,290.56 216.78,290.56 216.54,290.48 216.29,290.33 216.05,290.13 215.81,289.9 215.56,289.69 215.32,289.51 215.08,289.4 214.83,289.38 214.59,289.43 214.34,289.56 214.1,289.75 213.86,289.97 213.61,290.19 213.37,290.38 213.13,290.52 212.88,290.57 212.64,290.55 212.39,290.44 212.15,290.27 211.91,290.05 211.66,289.83 211.42,289.62 211.18,289.47 210.93,289.39 210.69,289.38 210.44,289.47 210.2,289.62 209.96,289.82 209.71,290.05 209.47,290.26 209.23,290.43 208.98,290.54 208.74,290.57 208.49,290.52 208.25,290.39 208.01,290.2 207.76,289.98 207.52,289.75 207.28,289.56 207.03,289.43 206.79,289.37 206.54,289.4 206.3,289.51 206.06,289.68 205.81,289.9 205.57,290.12 205.33,290.32 205.08,290.48 204.84,290.56 204.59,290.56 204.35,290.48 204.11,290.33 203.86,290.12 203.62,289.9 203.38,289.69 203.13,289.51 202.89,289.4 202.64,289.37 202.4,289.43 202.16,289.56 201.91,289.75 201.67,289.97 201.43,290.19 201.18,290.38 200.94,290.51 200.69,290.57 200.45,290.54 200.21,290.43 199.96,290.26 199.72,290.05 199.48,289.82 199.23,289.62 198.99,289.46 198.74,289.38 198.5,289.38 198.26,289.46 198.01,289.61 197.77,289.82 197.53,290.04 197.28,290.25 197.04,290.43 196.79,290.54 196.55,290.56 196.31,290.51 196.06,290.38 195.82,290.19 195.58,289.97 195.33,289.74 195.09,289.55 194.84,289.42 194.6,289.36 194.36,289.39 194.11,289.5 193.87,289.67 193.63,289.88 193.38,290.1 193.14,290.31 192.89,290.46 192.65,290.54 192.41,290.54 192.16,290.46 191.92,290.31 191.68,290.1 191.43,289.88 191.19,289.66 190.94,289.49 190.7,289.38 190.46,289.35 190.21,289.4 189.97,289.53 189.73,289.72 189.48,289.94 189.24,290.16 188.99,290.35 188.75,290.48 188.51,290.53 188.26,290.5 188.02,290.39 187.78,290.22 187.53,290 187.29,289.77 187.04,289.57 186.8,289.41 186.56,289.32 186.31,289.32 186.07,289.4 185.83,289.55 185.58,289.75 185.34,289.97 185.09,290.18 184.85,290.35 184.61,290.46 184.36,290.48 184.12,290.42 183.88,290.29 183.63,290.09 183.39,289.87 183.14,289.64 182.9,289.44 182.66,289.3 182.41,289.24 182.17,289.26 181.93,289.36 181.68,289.53 181.44,289.74 181.19,289.95 180.95,290.15 180.71,290.29 180.46,290.37 180.22,290.36 179.98,290.27 179.73,290.11 179.49,289.89 179.24,289.66 179,289.43 178.76,289.25 178.51,289.12 178.27,289.08 178.03,289.12 177.78,289.24 177.54,289.41 177.29,289.62 177.05,289.82 176.81,289.99 176.56,290.11 176.32,290.15 176.08,290.1 175.83,289.97 175.59,289.77 175.34,289.54 175.1,289.29 174.86,289.06 174.61,288.88 174.37,288.77 174.13,288.74 173.88,288.79 173.64,288.91 173.39,289.08 173.15,289.27 172.91,289.44 172.66,289.58 172.42,289.65 172.18,289.63 171.93,289.53 171.69,289.35 171.44,289.12 171.2,288.84 170.96,288.57 170.71,288.32 170.47,288.13 170.23,288.01 169.98,287.97 169.74,288.01 169.49,288.11 169.25,288.25 169.01,288.4 168.76,288.52 168.52,288.59 168.28,288.59 168.03,288.49 167.79,288.31 167.54,288.06 167.3,287.74 167.06,287.41 166.81,287.07 166.57,286.78 166.33,286.54 166.08,286.37 165.84,286.28 165.59,286.27 165.35,286.3 165.11,286.35 164.86,286.4 164.62,286.41 164.38,286.36 164.13,286.22 163.89,285.98 163.64,285.66 163.4,285.26 163.16,284.81 162.91,284.33 162.67,283.87 162.43,283.44 162.18,283.07 161.94,282.77 161.69,282.54 161.45,282.36 161.21,282.22 160.96,282.08 160.72,281.92 160.48,281.7 160.23,281.39 159.99,280.98 159.74,280.47 159.5,279.86 159.26,279.18 159.01,278.43 158.77,277.66 158.53,276.9 158.28,276.16 158.04,275.47 157.79,274.84 157.55,274.26 157.31,273.7 157.06,273.16 156.82,272.59 156.58,271.96 156.33,271.24 156.09,270.41 155.84,268.51 155.6,265.99 155.36,263.41 155.11,260.77 154.87,258.11 154.63,255.46 154.38,252.86 154.14,250.31 153.89,247.85 153.65,245.47 153.41,243.17 153.16,240.93 152.92,238.71 152.68,236.5 152.43,234.26 152.19,231.96 151.94,229.58 151.7,227.12 151.46,224.58 151.21,221.97 150.97,219.32 150.73,216.67 150.48,214.03 150.24,211.44 149.99,208.92 149.75,206.49 149.51,204.14 149.26,201.85 149.02,199.62 148.78,197.41 148.53,195.2 148.29,192.94 148.04,190.61 147.8,190.2 147.56,190.15 147.31,190.02 147.07,189.83 146.83,189.61 146.58,189.39 146.34,189.2 146.09,189.06 145.85,189.01 145.61,189.03 145.36,189.14 145.12,189.31 144.88,189.53 144.63,189.75 144.39,189.95 144.14,190.11 143.9,190.19 143.66,190.19 143.41,190.11 143.17,189.96 142.93,189.76 142.68,189.53 142.44,189.32 142.19,189.14 141.95,189.03 141.71,189.01 141.46,189.06 141.22,189.19 140.98,189.38 140.73,189.6 140.49,189.82 140.24,190.01 140,190.15 139.76,190.2 139.51,190.18 139.27,190.07 139.03,189.9 138.78,189.68 138.54,189.46 138.29,189.25 138.05,189.1 137.81,189.02 137.56,189.01 137.32,189.1 137.08,189.25 136.83,189.45 136.59,189.68 136.34,189.89 136.1,190.06 135.86,190.17 135.61,190.2 135.37,190.15 135.13,190.02 134.88,189.83 134.64,189.61 134.39,189.39 134.15,189.2 133.91,189.06 133.66,189.01 133.42,189.03 133.18,189.14 132.93,189.31 132.69,189.53 132.44,189.75 132.2,189.95 131.96,190.11 131.71,190.19 131.47,190.19 131.23,190.11 130.98,189.96 130.74,189.76 130.49,189.53 130.25,189.32 130.01,189.14 129.76,189.03 129.52,189.01 129.28,189.06 129.03,189.19 128.79,189.38 128.54,189.6 128.3,189.82 128.06,190.01 127.81,190.15 127.57,190.2 127.33,190.18 127.08,190.07 126.84,189.9 126.59,189.68 126.35,189.46 126.11,189.25 125.86,189.1 125.62,189.02 125.38,189.01 125.13,189.1 124.89,189.25 124.64,189.45 124.4,189.68 124.16,189.89 123.91,190.06 123.67,190.17 123.43,190.2 123.18,190.15 122.94,190.02 122.69,189.83 122.45,189.61 122.21,189.39 121.96,189.2 121.72,189.06 121.48,189.01 121.23,189.03 120.99,189.14 120.74,189.31 120.5,189.53 120.26,189.75 120.01,189.95 119.77,190.11 119.53,190.19 119.28,190.19 119.04,190.11 118.79,189.96 118.55,189.76 118.31,189.53 118.06,189.32 117.82,189.14 117.58,189.03 117.33,189.01 117.09,189.06 116.84,189.19 116.6,189.38 116.36,189.6 116.11,189.82 115.87,190.01 115.63,190.15 115.38,190.2 115.14,190.18 114.89,190.07 114.65,189.9 114.41,189.68 114.16,189.46 113.92,189.25 113.68,189.1 113.43,189.02 113.19,189.01 112.94,189.1 112.7,189.25 112.46,189.45 112.21,189.68 111.97,189.89 111.73,190.06 111.48,190.17 111.24,190.2 110.99,190.15 110.75,190.02" fill="#0000ff" stroke="#0000ff" stroke-width="1.6" stroke-linejoin="round"/><polygon points="110.75,185.67 110.99,185.88 111.24,186.07 111.48,186.23 111.73,186.33 111.97,186.35 112.21,186.3 112.46,186.18 112.7,186 112.94,185.8 113.19,185.6 113.43,185.42 113.68,185.3 113.92,185.25 114.16,185.28 114.41,185.38 114.65,185.54 114.89,185.74 115.14,185.95 115.38,186.13 115.63,186.27 115.87,186.35 116.11,186.34 116.36,186.27 116.6,186.12 116.84,185.94 117.09,185.73 117.33,185.53 117.58,185.38 117.82,185.28 118.06,185.26 118.31,185.31 118.55,185.43 118.79,185.61 119.04,185.81 119.28,186.01 119.53,186.18 119.77,186.3 120.01,186.35 120.26,186.33 120.5,186.22 120.74,186.06 120.99,185.87 121.23,185.66 121.48,185.48 121.72,185.34 121.96,185.26 122.21,185.26 122.45,185.34 122.69,185.49 122.94,185.67 123.18,185.88 123.43,186.07 123.67,186.23 123.91,186.33 124.16,186.35 124.4,186.3 124.64,186.18 124.89,186 125.13,185.8 125.38,185.6 125.62,185.42 125.86,185.3 126.11,185.25 126.35,185.28 126.59,185.38 126.84,185.54 127.08,185.74 127.33,185.95 127.57,186.13 127.81,186.27 128.06,186.35 128.3,186.34 128.54,186.27 128.79,186.12 129.03,185.94 129.28,185.73 129.52,185.53 129.76,185.38 130.01,185.28 130.25,185.26 130.49,185.31 130.74,185.43 130.98,185.61 131.23,185.81 131.47,186.01 131.71,186.18 131.96,186.3 132.2,186.35 132.44,186.33 132.69,186.22 132.93,186.06 133.18,185.87 133.42,185.66 133.66,185.48 133.91,185.34 134.15,185.26 134.39,185.26 134.64,185.34 134.88,185.49 135.13,185.67 135.37,185.88 135.61,186.07 135.86,186.23 136.1,186.33 136.34,186.35 136.59,186.3 136.83,186.18 137.08,186 137.32,185.8 137.56,185.6 137.81,185.42 138.05,185.3 138.29,185.25 138.54,185.28 138.78,185.38 139.03,185.54 139.27,185.74 139.51,185.95 139.76,186.13 140,186.27 140.24,186.35 140.49,186.34 140.73,186.27 140.98,186.12 141.22,185.94 141.46,185.73 141.71,185.53 141.95,185.38 142.19,185.28 142.44,185.26 142.68,185.31 142.93,185.43 143.17,185.61 143.41,185.81 143.66,186.01 143.9,186.18 144.14,186.3 144.39,186.35 144.63,186.33 144.88,186.22 145.12,186.06 145.36,185.87 145.61,185.66 145.85,185.48 146.09,185.34 146.34,185.26 146.58,185.26 146.83,185.34 147.07,185.49 147.31,185.67 147.56,185.88 147.8,186.07 148.04,186.23 148.29,186.33 148.53,186.35 148.78,186.3 149.02,187.76 149.26,190.28 149.51,192.77 149.75,195.26 149.99,197.78 150.24,200.35 150.48,202.99 150.73,205.71 150.97,208.51 151.21,211.36 151.46,214.25 151.7,217.14 151.94,220.02 152.19,222.85 152.43,225.62 152.68,228.31 152.92,230.92 153.16,233.47 153.41,235.98 153.65,238.46 153.89,240.96 154.14,243.49 154.38,246.09 154.63,248.75 154.87,251.5 155.11,254.31 155.36,257.18 155.6,260.08 155.84,262.97 156.09,265.83 156.33,268.65 156.58,271.39 156.82,274.05 157.06,276.64 157.31,278.68 157.55,279 157.79,279.28 158.04,279.56 158.28,279.85 158.53,280.17 158.77,280.55 159.01,280.98 159.26,281.46 159.5,281.95 159.74,282.45 159.99,282.92 160.23,283.33 160.48,283.67 160.72,283.91 160.96,284.07 161.21,284.15 161.45,284.15 161.69,284.12 161.94,284.08 162.18,284.06 162.43,284.08 162.67,284.17 162.91,284.32 163.16,284.54 163.4,284.81 163.64,285.11 163.89,285.41 164.13,285.69 164.38,285.91 164.62,286.06 164.86,286.13 165.11,286.13 165.35,286.05 165.59,285.92 165.84,285.77 166.08,285.63 166.33,285.53 166.57,285.47 166.81,285.49 167.06,285.59 167.3,285.75 167.54,285.96 167.79,286.2 168.03,286.43 168.28,286.64 168.52,286.78 168.76,286.86 169.01,286.86 169.25,286.78 169.49,286.64 169.74,286.46 169.98,286.28 170.23,286.11 170.47,285.99 170.71,285.93 170.96,285.94 171.2,286.03 171.44,286.19 171.69,286.39 171.93,286.61 172.18,286.81 172.42,286.98 172.66,287.09 172.91,287.12 173.15,287.07 173.39,286.96 173.64,286.79 173.88,286.6 174.13,286.4 174.37,286.23 174.61,286.12 174.86,286.07 175.1,286.11 175.34,286.21 175.59,286.38 175.83,286.58 176.08,286.79 176.32,286.98 176.56,287.12 176.81,287.2 177.05,287.2 177.29,287.12 177.54,286.98 177.78,286.8 178.03,286.59 178.27,286.4 178.51,286.24 178.76,286.15 179,286.13 179.24,286.18 179.49,286.31 179.73,286.48 179.98,286.69 180.22,286.89 180.46,287.06 180.71,287.18 180.95,287.23 181.19,287.21 181.44,287.11 181.68,286.95 181.93,286.75 182.17,286.55 182.41,286.36 182.66,286.22 182.9,286.15 183.14,286.15 183.39,286.23 183.63,286.37 183.88,286.56 184.12,286.77 184.36,286.96 184.61,287.12 184.85,287.22 185.09,287.24 185.34,287.19 185.58,287.07 185.83,286.89 186.07,286.69 186.31,286.49 186.56,286.32 186.8,286.2 187.04,286.15 187.29,286.18 187.53,286.28 187.78,286.44 188.02,286.63 188.26,286.84 188.51,287.03 188.75,287.17 188.99,287.24 189.24,287.24 189.48,287.16 189.73,287.02 189.97,286.83 190.21,286.62 190.46,286.43 190.7,286.27 190.94,286.17 191.19,286.15 191.43,286.2 191.68,286.33 191.92,286.5 192.16,286.7 192.41,286.91 192.65,287.08 192.89,287.2 193.14,287.25 193.38,287.22 193.63,287.12 193.87,286.96 194.11,286.76 194.36,286.56 194.6,286.37 194.84,286.23 195.09,286.16 195.33,286.16 195.58,286.24 195.82,286.38 196.06,286.57 196.31,286.77 196.55,286.97 196.79,287.13 197.04,287.22 197.28,287.25 197.53,287.2 197.77,287.07 198.01,286.9 198.26,286.69 198.5,286.49 198.74,286.32 198.99,286.2 199.23,286.15 199.48,286.18 199.72,286.28 199.96,286.44 200.21,286.64 200.45,286.84 200.69,287.03 200.94,287.17 201.18,287.24 201.43,287.24 201.67,287.16 201.91,287.02 202.16,286.83 202.4,286.63 202.64,286.43 202.89,286.27 203.13,286.18 203.38,286.15 203.62,286.2 203.86,286.33 204.11,286.5 204.35,286.71 204.59,286.91 204.84,287.08 205.08,287.2 205.33,287.25 205.57,287.22 205.81,287.12 206.06,286.96 206.3,286.76 206.54,286.56 206.79,286.37 207.03,286.23 207.28,286.16 207.52,286.16 207.76,286.24 208.01,286.38 208.25,286.57 208.49,286.77 208.74,286.97 208.98,287.13 209.23,287.22 209.47,287.25 209.71,287.2 209.96,287.07 210.2,286.9 210.44,286.69 210.69,286.49 210.93,286.32 211.18,286.2 211.42,286.15 211.66,286.18 211.91,286.28 212.15,286.44 212.39,286.64 212.64,286.84 212.88,287.03 213.13,287.17 213.37,287.24 213.61,287.24 213.86,287.16 214.1,287.02 214.34,286.83 214.59,286.63 214.83,286.43 215.08,286.27 215.32,286.18 215.56,286.15 215.81,286.2 216.05,286.33 216.29,286.5 216.54,286.71 216.78,286.91 217.03,287.08 217.27,287.2 217.51,287.25 217.76,287.22 218,287.12 218.24,286.96 218.49,286.76 218.73,286.56 218.98,286.37 219.22,286.23 219.46,286.16 219.71,286.16 219.95,286.24 220.19,286.38 220.44,286.57 220.68,286.77 220.93,286.97 221.17,287.13 221.41,287.22 221.66,287.25 221.9,287.2 222.14,287.07 222.39,286.9 222.63,286.69 222.88,286.49 223.12,286.32 223.36,286.2 223.61,286.15 223.85,286.18 224.09,286.28 224.34,286.44 224.58,286.64 224.83,286.84 225.07,287.03 225.31,287.17 225.56,287.24 225.8,287.24 226.04,287.16 226.29,287.02 226.53,286.83 226.78,286.63 227.02,286.43 227.26,286.27 227.51,286.18 227.75,286.15 227.99,286.2 228.24,286.33 228.48,286.5 228.73,286.71 228.97,286.91 229.21,287.08 229.46,287.2 229.7,287.25 229.94,287.22 230.19,287.12 230.43,286.96 230.68,286.76 230.92,286.56 231.16,286.37 231.41,286.23 231.65,286.16 231.89,286.16 232.14,286.24 232.38,286.38 232.63,286.57 232.87,286.77 233.11,286.97 233.36,287.13 233.6,287.22 233.84,287.25 234.09,287.2 234.33,287.07 234.58,286.9 234.82,286.69 235.06,286.49 235.31,286.32 235.55,286.2 235.79,286.15 236.04,286.18 236.28,286.28 236.53,286.44 236.77,286.64 237.01,286.84 237.26,287.03 237.5,287.17 237.74,287.24 237.99,287.24 238.23,287.16 238.48,287.02 238.72,286.83 238.96,286.63 239.21,286.43 239.45,286.27 239.69,286.18 239.94,286.15 240.18,286.2 240.43,286.33 240.67,286.5 240.91,286.71 241.16,286.91 241.4,287.08 241.64,287.2 241.89,287.25 242.13,287.22 242.38,287.12 242.62,286.96 242.86,286.76 243.11,286.56 243.35,286.37 243.59,286.23 243.84,286.16 244.08,286.16 244.33,286.24 244.57,286.38 244.81,286.57 245.06,286.77 245.3,286.97 245.54,287.13 245.79,287.22 246.03,287.25 246.28,287.2 246.52,287.07 246.76,286.9 247.01,286.69 247.25,286.49 247.49,286.32 247.74,286.2 247.98,286.15 248.23,286.18 248.47,286.28 248.71,286.44 248.96,286.64 249.2,286.84 249.44,287.03 249.69,287.17 249.93,287.24 250.18,287.24 250.42,287.16 250.66,287.02 250.91,286.83 251.15,286.63 251.39,286.43 251.64,286.27 251.88,286.18 252.13,286.15 252.37,286.2 252.61,286.33 252.86,286.5 253.1,286.71 253.34,286.91 253.59,287.08 253.83,287.2 254.08,287.25 254.32,287.22 254.56,287.12 254.81,286.96 255.05,286.76 255.29,286.56 255.54,286.37 255.78,286.23 256.03,286.16 256.27,286.16 256.51,286.24 256.76,286.38 257,286.57 257,290.37 256.76,290.18 256.51,290.04 256.27,289.96 256.03,289.96 255.78,290.03 255.54,290.17 255.29,290.36 255.05,290.56 254.81,290.76 254.56,290.92 254.32,291.02 254.08,291.05 253.83,291 253.59,290.88 253.34,290.71 253.1,290.51 252.86,290.3 252.61,290.13 252.37,290 252.13,289.95 251.88,289.98 251.64,290.07 251.39,290.23 251.15,290.43 250.91,290.63 250.66,290.82 250.42,290.96 250.18,291.04 249.93,291.04 249.69,290.97 249.44,290.83 249.2,290.64 248.96,290.44 248.71,290.24 248.47,290.08 248.23,289.98 247.98,289.95 247.74,290 247.49,290.12 247.25,290.29 247.01,290.49 246.76,290.7 246.52,290.87 246.28,291 246.03,291.05 245.79,291.02 245.54,290.93 245.3,290.77 245.06,290.57 244.81,290.37 244.57,290.18 244.33,290.04 244.08,289.96 243.84,289.96 243.59,290.03 243.35,290.17 243.11,290.36 242.86,290.56 242.62,290.76 242.38,290.92 242.13,291.02 241.89,291.05 241.64,291 241.4,290.88 241.16,290.71 240.91,290.51 240.67,290.3 240.43,290.13 240.18,290 239.94,289.95 239.69,289.98 239.45,290.07 239.21,290.23 238.96,290.43 238.72,290.63 238.48,290.82 238.23,290.96 237.99,291.04 237.74,291.04 237.5,290.97 237.26,290.83 237.01,290.64 236.77,290.44 236.53,290.24 236.28,290.08 236.04,289.98 235.79,289.95 235.55,290 235.31,290.12 235.06,290.29 234.82,290.49 234.58,290.7 234.33,290.87 234.09,291 233.84,291.05 233.6,291.02 233.36,290.93 233.11,290.77 232.87,290.57 232.63,290.37 232.38,290.18 232.14,290.04 231.89,289.96 231.65,289.96 231.41,290.03 231.16,290.17 230.92,290.36 230.68,290.56 230.43,290.76 230.19,290.92 229.94,291.02 229.7,291.05 229.46,291 229.21,290.88 228.97,290.71 228.73,290.51 228.48,290.3 228.24,290.13 227.99,290 227.75,289.95 227.51,289.98 227.26,290.07 227.02,290.23 226.78,290.43 226.53,290.63 226.29,290.82 226.04,290.96 225.8,291.04 225.56,291.04 225.31,290.97 225.07,290.83 224.83,290.64 224.58,290.44 224.34,290.24 224.09,290.08 223.85,289.98 223.61,289.95 223.36,290 223.12,290.12 222.88,290.29 222.63,290.49 222.39,290.7 222.14,290.87 221.9,291 221.66,291.05 221.41,291.02 221.17,290.93 220.93,290.77 220.68,290.57 220.44,290.37 220.19,290.18 219.95,290.04 219.71,289.96 219.46,289.96 219.22,290.03 218.98,290.17 218.73,290.36 218.49,290.56 218.24,290.76 218,290.92 217.76,291.02 217.51,291.05 217.27,291 217.03,290.88 216.78,290.71 216.54,290.51 216.29,290.3 216.05,290.13 215.81,290 215.56,289.95 215.32,289.98 215.08,290.07 214.83,290.23 214.59,290.43 214.34,290.63 214.1,290.82 213.86,290.96 213.61,291.04 213.37,291.04 213.13,290.97 212.88,290.83 212.64,290.64 212.39,290.44 212.15,290.24 211.91,290.08 211.66,289.98 211.42,289.95 211.18,290 210.93,290.12 210.69,290.29 210.44,290.49 210.2,290.7 209.96,290.87 209.71,291 209.47,291.05 209.23,291.02 208.98,290.93 208.74,290.77 208.49,290.57 208.25,290.37 208.01,290.18 207.76,290.04 207.52,289.96 207.28,289.96 207.03,290.03 206.79,290.17 206.54,290.36 206.3,290.56 206.06,290.76 205.81,290.92 205.57,291.02 205.33,291.05 205.08,291 204.84,290.88 204.59,290.71 204.35,290.51 204.11,290.3 203.86,290.13 203.62,290 203.38,289.95 203.13,289.98 202.89,290.07 202.64,290.23 202.4,290.43 202.16,290.63 201.91,290.82 201.67,290.96 201.43,291.04 201.18,291.04 200.94,290.97 200.69,290.83 200.45,290.64 200.21,290.44 199.96,290.24 199.72,290.08 199.48,289.98 199.23,289.95 198.99,290 198.74,290.12 198.5,290.29 198.26,290.49 198.01,290.7 197.77,290.87 197.53,291 197.28,291.05 197.04,291.02 196.79,290.93 196.55,290.77 196.31,290.57 196.06,290.37 195.82,290.18 195.58,290.04 195.33,289.96 195.09,289.96 194.84,290.03 194.6,290.17 194.36,290.36 194.11,290.56 193.87,290.76 193.63,290.92 193.38,291.02 193.14,291.05 192.89,291 192.65,290.88 192.41,290.71 192.16,290.5 191.92,290.3 191.68,290.13 191.43,290 191.19,289.95 190.94,289.97 190.7,290.07 190.46,290.23 190.21,290.42 189.97,290.63 189.73,290.82 189.48,290.96 189.24,291.04 188.99,291.04 188.75,290.97 188.51,290.83 188.26,290.64 188.02,290.43 187.78,290.24 187.53,290.08 187.29,289.98 187.04,289.95 186.8,290 186.56,290.12 186.31,290.29 186.07,290.49 185.83,290.69 185.58,290.87 185.34,290.99 185.09,291.04 184.85,291.02 184.61,290.92 184.36,290.76 184.12,290.57 183.88,290.36 183.63,290.17 183.39,290.03 183.14,289.95 182.9,289.95 182.66,290.02 182.41,290.16 182.17,290.35 181.93,290.55 181.68,290.75 181.44,290.91 181.19,291.01 180.95,291.03 180.71,290.98 180.46,290.86 180.22,290.69 179.98,290.49 179.73,290.28 179.49,290.11 179.24,289.98 179,289.93 178.76,289.95 178.51,290.04 178.27,290.2 178.03,290.39 177.78,290.6 177.54,290.78 177.29,290.92 177.05,291 176.81,291 176.56,290.92 176.32,290.78 176.08,290.59 175.83,290.38 175.59,290.18 175.34,290.01 175.1,289.91 174.86,289.87 174.61,289.92 174.37,290.03 174.13,290.2 173.88,290.4 173.64,290.59 173.39,290.76 173.15,290.87 172.91,290.92 172.66,290.89 172.42,290.78 172.18,290.61 171.93,290.41 171.69,290.19 171.44,289.99 171.2,289.83 170.96,289.74 170.71,289.73 170.47,289.79 170.23,289.91 169.98,290.08 169.74,290.26 169.49,290.44 169.25,290.58 169.01,290.66 168.76,290.66 168.52,290.58 168.28,290.44 168.03,290.23 167.79,290 167.54,289.76 167.3,289.55 167.06,289.39 166.81,289.29 166.57,289.27 166.33,289.33 166.08,289.43 165.84,289.57 165.59,289.72 165.35,289.85 165.11,289.93 164.86,289.93 164.62,289.86 164.38,289.71 164.13,289.49 163.89,289.21 163.64,288.91 163.4,288.61 163.16,288.34 162.91,288.12 162.67,287.97 162.43,287.88 162.18,287.86 161.94,287.88 161.69,287.92 161.45,287.95 161.21,287.95 160.96,287.87 160.72,287.71 160.48,287.47 160.23,287.13 159.99,286.72 159.74,286.25 159.5,285.75 159.26,285.26 159.01,284.78 158.77,284.35 158.53,283.97 158.28,283.65 158.04,283.36 157.79,283.08 157.55,282.8 157.31,282.48 157.06,280.44 156.82,277.85 156.58,275.19 156.33,272.45 156.09,269.63 155.84,266.77 155.6,263.88 155.36,260.98 155.11,258.11 154.87,255.3 154.63,252.55 154.38,249.89 154.14,247.29 153.89,244.76 153.65,242.26 153.41,239.78 153.16,237.27 152.92,234.72 152.68,232.11 152.43,229.42 152.19,226.65 151.94,223.82 151.7,220.94 151.46,218.05 151.21,215.16 150.97,212.31 150.73,209.51 150.48,206.79 150.24,204.15 149.99,201.58 149.75,199.06 149.51,196.57 149.26,194.08 149.02,191.56 148.78,190.1 148.53,190.15 148.29,190.13 148.04,190.03 147.8,189.87 147.56,189.68 147.31,189.47 147.07,189.29 146.83,189.14 146.58,189.06 146.34,189.06 146.09,189.14 145.85,189.28 145.61,189.46 145.36,189.67 145.12,189.86 144.88,190.02 144.63,190.13 144.39,190.15 144.14,190.1 143.9,189.98 143.66,189.81 143.41,189.61 143.17,189.41 142.93,189.23 142.68,189.11 142.44,189.06 142.19,189.08 141.95,189.18 141.71,189.33 141.46,189.53 141.22,189.74 140.98,189.92 140.73,190.07 140.49,190.14 140.24,190.15 140,190.07 139.76,189.93 139.51,189.75 139.27,189.54 139.03,189.34 138.78,189.18 138.54,189.08 138.29,189.05 138.05,189.1 137.81,189.22 137.56,189.4 137.32,189.6 137.08,189.8 136.83,189.98 136.59,190.1 136.34,190.15 136.1,190.13 135.86,190.03 135.61,189.87 135.37,189.68 135.13,189.47 134.88,189.29 134.64,189.14 134.39,189.06 134.15,189.06 133.91,189.14 133.66,189.28 133.42,189.46 133.18,189.67 132.93,189.86 132.69,190.02 132.44,190.13 132.2,190.15 131.96,190.1 131.71,189.98 131.47,189.81 131.23,189.61 130.98,189.41 130.74,189.23 130.49,189.11 130.25,189.06 130.01,189.08 129.76,189.18 129.52,189.33 129.28,189.53 129.03,189.74 128.79,189.92 128.54,190.07 128.3,190.14 128.06,190.15 127.81,190.07 127.57,189.93 127.33,189.75 127.08,189.54 126.84,189.34 126.59,189.18 126.35,189.08 126.11,189.05 125.86,189.1 125.62,189.22 125.38,189.4 125.13,189.6 124.89,189.8 124.64,189.98 124.4,190.1 124.16,190.15 123.91,190.13 123.67,190.03 123.43,189.87 123.18,189.68 122.94,189.47 122.69,189.29 122.45,189.14 122.21,189.06 121.96,189.06 121.72,189.14 121.48,189.28 121.23,189.46 120.99,189.67 120.74,189.86 120.5,190.02 120.26,190.13 120.01,190.15 119.77,190.1 119.53,189.98 119.28,189.81 119.04,189.61 118.79,189.41 118.55,189.23 118.31,189.11 118.06,189.06 117.82,189.08 117.58,189.18 117.33,189.33 117.09,189.53 116.84,189.74 116.6,189.92 116.36,190.07 116.11,190.14 115.87,190.15 115.63,190.07 115.38,189.93 115.14,189.75 114.89,189.54 114.65,189.34 114.41,189.18 114.16,189.08 113.92,189.05 113.68,189.1 113.43,189.22 113.19,189.4 112.94,189.6 112.7,189.8 112.46,189.98 112.21,190.1 111.97,190.15 111.73,190.13 111.48,190.03 111.24,189.87 110.99,189.68 110.75,189.47" fill="#00ff00" stroke="#00ff00" stroke-width="1.9" stroke-linejoin="round"/></g><g stroke="#9a9a9a" stroke-width="1"><line x1="124.5" y1="316.3" x2="124.5" y2="313.3"/><line x1="124.5" y1="164.7" x2="124.5" y2="167.7"/><line x1="174.5" y1="316.3" x2="174.5" y2="313.3"/><line x1="174.5" y1="164.7" x2="174.5" y2="167.7"/><line x1="224.5" y1="316.3" x2="224.5" y2="313.3"/><line x1="224.5" y1="164.7" x2="224.5" y2="167.7"/><line x1="113.4" y1="183.5" x2="116.4" y2="183.5"/><line x1="254.8" y1="183.5" x2="251.8" y2="183.5"/><line x1="113.4" y1="236.1" x2="116.4" y2="236.1"/><line x1="254.8" y1="236.1" x2="251.8" y2="236.1"/><line x1="113.4" y1="288.6" x2="116.4" y2="288.6"/><line x1="254.8" y1="288.6" x2="251.8" y2="288.6"/></g><rect x="113.4" y="164.7" width="141.4" height="151.6" fill="none" stroke="#9a9a9a" stroke-width="1"/><g font-family="Liberation Serif" font-size="15.8" fill="#3a3a3a"><text x="124.2" y="338" text-anchor="middle">3.88</text><text x="174.3" y="338" text-anchor="middle">3.92</text><text x="224.5" y="338" text-anchor="middle">3.96</text><text x="107.5" y="189.71" text-anchor="end">300</text><text x="107.5" y="242.31" text-anchor="end">200</text><text x="107.5" y="294.81" text-anchor="end">100</text></g>
<clipPath id="c2"><rect x="307.4" y="164.5" width="133.6" height="151.8"/></clipPath><rect x="307.4" y="164.5" width="133.6" height="151.8" fill="#fff"/><g stroke="#666" stroke-width="1" stroke-dasharray="5.2 2.8"><line x1="361.3" y1="164.5" x2="361.3" y2="316.3"/><line x1="415.3" y1="164.5" x2="415.3" y2="316.3"/><line x1="307.4" y1="175.2" x2="441" y2="175.2"/><line x1="307.4" y1="227.1" x2="441" y2="227.1"/><line x1="307.4" y1="278.9" x2="441" y2="278.9"/></g><g clip-path="url(#c2)"><polyline points="334.35,271 334.35,227.1" fill="none" stroke="#000" stroke-width="2" stroke-dasharray="6.5 5.3" stroke-dashoffset="-2.8"/><polyline points="333.35,227.1 344.85,227.1" fill="none" stroke="#000" stroke-width="2" /><polygon points="304.7,277.23 304.94,277.08 305.17,276.91 305.41,276.73 305.64,276.54 305.87,276.38 306.11,276.24 306.34,276.15 306.57,276.1 306.81,276.11 307.04,276.17 307.27,276.28 307.51,276.42 307.74,276.6 307.97,276.78 308.21,276.96 308.44,277.13 308.68,277.26 308.91,277.35 309.14,277.4 309.38,277.39 309.61,277.33 309.84,277.22 310.08,277.07 310.31,276.9 310.54,276.71 310.78,276.53 311.01,276.37 311.24,276.23 311.48,276.14 311.71,276.1 311.95,276.11 312.18,276.18 312.41,276.29 312.65,276.44 312.88,276.61 313.11,276.8 313.35,276.98 313.58,277.14 313.81,277.27 314.05,277.36 314.28,277.4 314.51,277.38 314.75,277.32 314.98,277.21 315.22,277.06 315.45,276.88 315.68,276.7 315.92,276.52 316.15,276.35 316.38,276.22 316.62,276.14 316.85,276.1 317.08,276.12 317.32,276.18 317.55,276.3 317.78,276.45 318.02,276.62 318.25,276.81 318.49,276.99 318.72,277.15 318.95,277.28 319.19,277.36 319.42,277.4 319.65,277.38 319.89,277.31 320.12,277.2 320.35,277.04 320.59,276.87 320.82,276.68 321.05,276.5 321.29,276.34 321.52,276.22 321.76,276.13 321.99,276.1 322.22,276.12 322.46,276.19 322.69,276.31 322.92,276.46 323.16,276.64 323.39,276.82 323.62,277 323.86,277.16 324.09,277.29 324.32,277.37 324.56,277.4 324.79,277.38 325.03,277.3 325.26,277.19 325.49,277.03 325.73,276.85 325.96,276.67 326.19,276.49 326.43,276.33 326.66,276.21 326.89,276.13 327.13,276.1 327.36,276.12 327.59,276.2 327.83,276.32 328.06,276.47 328.3,276.65 328.53,276.84 328.76,277.02 329,277.17 329.23,277.3 329.46,277.37 329.7,277.4 329.93,277.37 330.16,277.3 330.4,277.17 330.63,277.02 330.86,276.84 331.1,276.65 331.33,276.48 331.57,276.32 331.8,276.2 332.03,276.12 332.27,276.1 332.5,276.13 332.73,276.21 332.97,276.33 333.2,276.49 333.43,276.67 333.67,276.85 333.9,277.03 334.13,277.18 334.37,277.27 334.6,276.91 334.84,276.5 335.07,276.04 335.3,275.53 335.54,274.98 335.77,274.41 336,273.81 336.24,273.21 336.47,272.63 336.7,272.07 336.94,271.55 337.17,271.08 337.4,270.67 337.64,270.31 337.87,270 338.11,269.75 338.34,269.52 338.57,269.32 338.81,269.14 339.04,268.94 339.27,268.72 339.51,268.47 339.74,268.18 339.97,267.84 340.21,267.45 340.44,267.01 340.67,266.53 340.91,266.02 341.14,265.5 341.37,264.97 341.61,264.46 341.84,263.97 342.08,263.52 342.31,263.13 342.54,262.78 342.78,262.49 343.01,262.26 343.24,262.07 343.48,261.91 343.71,261.78 343.94,261.65 344.18,261.52 344.41,261.36 344.64,261.17 344.88,260.94 345.11,260.65 345.35,260.32 345.58,259.94 345.81,259.51 346.05,259.06 346.28,258.6 346.51,258.13 346.75,257.67 346.98,257.24 347.21,256.86 347.45,256.52 347.68,256.23 347.91,256 348.15,255.83 348.38,255.69 348.62,255.59 348.85,255.52 349.08,255.44 349.32,255.36 349.55,255.25 349.78,255.11 350.02,254.92 350.25,254.68 350.48,254.4 350.72,254.06 350.95,253.69 351.18,253.28 351.42,252.86 351.65,252.44 351.89,252.04 352.12,251.66 352.35,251.32 352.59,251.03 352.82,250.8 353.05,250.62 353.29,250.49 353.52,250.4 353.75,250.35 353.99,250.32 354.22,250.29 354.45,250.25 354.69,250.18 354.92,250.08 355.16,249.93 355.39,249.73 355.62,249.48 355.86,249.18 356.09,248.84 356.32,248.48 356.56,248.1 356.79,247.72 357.02,247.35 357.26,247.02 357.49,246.72 357.72,246.48 357.96,246.28 358.19,246.15 358.43,246.06 358.66,246.01 358.89,246 359.13,246 359.36,246.01 359.59,246 359.83,245.97 360.06,245.9 360.29,245.78 360.53,245.61 360.76,245.39 360.99,245.13 361.23,244.82 361.46,244.49 361.7,244.14 361.93,243.79 362.16,243.46 362.4,243.16 362.63,242.9 362.86,242.69 363.1,242.54 363.33,242.44 363.56,242.38 363.8,242.37 364.03,242.39 364.26,242.43 364.5,242.46 364.73,242.48 364.97,242.48 365.2,242.43 365.43,242.34 365.67,242.2 365.9,242 366.13,241.76 366.37,241.48 366.6,241.17 366.83,240.85 367.07,240.53 367.3,240.23 367.53,239.96 367.77,239.73 368,239.55 368.24,239.43 368.47,239.36 368.7,239.33 368.94,239.35 369.17,239.4 369.4,239.46 369.64,239.52 369.87,239.56 370.1,239.58 370.34,239.55 370.57,239.48 370.8,239.36 371.04,239.18 371.27,238.96 371.51,238.7 371.74,238.42 371.97,238.12 372.21,237.83 372.44,237.55 372.67,237.3 372.91,237.1 373.14,236.95 373.37,236.85 373.61,236.8 373.84,236.8 374.07,236.84 374.31,236.91 374.54,237 374.78,237.08 375.01,237.14 375.24,237.17 375.48,237.17 375.71,237.11 375.94,237 376.18,236.84 376.41,236.64 376.64,236.4 376.88,236.13 377.11,235.85 377.34,235.57 377.58,235.32 377.81,235.09 378.04,234.91 378.28,234.78 378.51,234.71 378.75,234.68 378.98,234.7 379.21,234.77 379.45,234.85 379.68,234.95 379.91,235.05 380.15,235.13 380.38,235.18 380.61,235.18 380.85,235.14 381.08,235.04 381.31,234.9 381.55,234.71 381.78,234.48 382.02,234.22 382.25,233.96 382.48,233.7 382.72,233.47 382.95,233.26 383.18,233.1 383.42,232.99 383.65,232.93 383.88,232.92 384.12,232.96 384.35,233.04 384.58,233.15 384.82,233.26 385.05,233.37 385.29,233.46 385.52,233.52 385.75,233.54 385.99,233.5 386.22,233.42 386.45,233.28 386.69,233.1 386.92,232.88 387.15,232.64 387.39,232.39 387.62,232.15 387.85,231.92 388.09,231.73 388.32,231.59 388.56,231.49 388.79,231.45 389.02,231.46 389.26,231.52 389.49,231.61 389.72,231.73 389.96,231.86 390.19,231.98 390.42,232.08 390.66,232.15 390.89,232.17 391.12,232.15 391.36,232.07 391.59,231.94 391.83,231.77 392.06,231.56 392.29,231.33 392.53,231.09 392.76,230.85 392.99,230.64 393.23,230.47 393.46,230.34 393.69,230.26 393.93,230.23 394.16,230.25 394.39,230.32 394.63,230.43 394.86,230.56 395.1,230.69 395.33,230.82 395.56,230.93 395.8,231.01 396.03,231.04 396.26,231.02 396.5,230.95 396.73,230.82 396.96,230.65 397.2,230.45 397.43,230.23 397.66,230 397.9,229.78 398.13,229.58 398.37,229.41 398.6,229.3 398.83,229.23 399.07,229.21 399.3,229.25 399.53,229.33 399.77,229.45 400,229.59 400.23,229.73 400.47,229.87 400.7,229.98 400.93,230.06 401.17,230.1 401.4,230.08 401.64,230.01 401.87,229.89 402.1,229.73 402.34,229.53 402.57,229.32 402.8,229.1 403.04,228.88 403.27,228.69 403.5,228.54 403.74,228.43 403.97,228.37 404.2,228.37 404.44,228.42 404.67,228.51 404.91,228.64 405.14,228.78 405.37,228.93 405.61,229.08 405.84,229.2 406.07,229.28 406.31,229.32 406.54,229.3 406.77,229.24 407.01,229.12 407.24,228.96 407.47,228.77 407.71,228.56 407.94,228.34 408.18,228.14 408.41,227.96 408.64,227.81 408.88,227.71 409.11,227.67 409.34,227.67 409.58,227.73 409.81,227.83 410.04,227.97 410.28,228.12 410.51,228.28 410.74,228.42 410.98,228.54 411.21,228.63 411.44,228.67 411.68,228.66 411.91,228.59 412.15,228.48 412.38,228.32 412.61,228.13 412.85,227.92 413.08,227.71 413.31,227.51 413.55,227.34 413.78,227.21 414.01,227.12 414.25,227.08 414.48,227.1 414.71,227.16 414.95,227.27 415.18,227.41 415.42,227.57 415.65,227.73 415.88,227.88 416.12,228 416.35,228.09 416.58,228.13 416.82,228.12 417.05,228.06 417.28,227.94 417.52,227.79 417.75,227.6 417.98,227.4 418.22,227.19 418.45,227 418.69,226.83 418.92,226.7 419.15,226.62 419.39,226.59 419.62,226.62 419.85,226.69 420.09,226.81 420.32,226.95 420.55,227.11 420.79,227.28 421.02,227.43 421.25,227.56 421.49,227.65 421.72,227.69 421.96,227.67 422.19,227.61 422.42,227.5 422.66,227.34 422.89,227.16 423.12,226.96 423.36,226.75 423.59,226.57 423.82,226.4 424.06,226.28 424.29,226.21 424.52,226.19 424.76,226.22 424.99,226.3 425.23,226.42 425.46,226.57 425.69,226.74 425.93,226.91 426.16,227.06 426.39,227.19 426.63,227.28 426.86,227.31 427.09,227.3 427.33,227.24 427.56,227.12 427.79,226.97 428.03,226.79 428.26,226.59 428.5,226.39 428.73,226.2 428.96,226.05 429.2,225.93 429.43,225.87 429.66,225.85 429.9,225.89 430.13,225.98 430.36,226.11 430.6,226.26 430.83,226.43 431.06,226.6 431.3,226.76 431.53,226.88 431.77,226.97 432,227.01 432.23,226.99 432.47,226.93 432.7,226.81 432.93,226.66 433.17,226.48 433.4,226.28 433.63,226.08 433.87,225.9 434.1,225.75 434.33,225.64 434.57,225.58 434.8,225.58 435.04,225.62 435.27,225.71 435.5,225.84 435.74,226 435.97,226.18 436.2,226.35 436.44,226.51 436.67,226.63 436.9,226.72 437.14,226.75 437.37,226.74 437.6,226.67 437.84,226.55 438.07,226.4 438.31,226.22 438.54,226.02 438.77,225.83 439.01,225.65 439.24,225.51 439.47,225.4 439.71,225.35 439.94,225.35 440.17,225.4 440.41,225.49 440.64,225.63 440.87,225.79 441.11,225.97 441.34,226.14 441.58,226.3 441.81,226.42 442.04,226.51 442.28,226.54 442.51,226.52 442.74,226.45 442.98,226.33 443.21,226.18 443.44,226 443.68,225.8 443.91,225.61 444.14,225.44 444.38,225.3 444.61,225.2 444.85,225.15 444.85,229.65 444.61,229.7 444.38,229.8 444.14,229.94 443.91,230.11 443.68,230.3 443.44,230.5 443.21,230.68 442.98,230.83 442.74,230.95 442.51,231.02 442.28,231.04 442.04,231.01 441.81,230.92 441.58,230.8 441.34,230.64 441.11,230.47 440.87,230.29 440.64,230.13 440.41,229.99 440.17,229.9 439.94,229.85 439.71,229.85 439.47,229.9 439.24,230.01 439.01,230.15 438.77,230.33 438.54,230.52 438.31,230.72 438.07,230.9 437.84,231.05 437.6,231.17 437.37,231.24 437.14,231.25 436.9,231.22 436.67,231.13 436.44,231.01 436.2,230.85 435.97,230.68 435.74,230.5 435.5,230.34 435.27,230.21 435.04,230.12 434.8,230.08 434.57,230.08 434.33,230.14 434.1,230.25 433.87,230.4 433.63,230.58 433.4,230.78 433.17,230.98 432.93,231.16 432.7,231.31 432.47,231.43 432.23,231.49 432,231.51 431.77,231.47 431.53,231.38 431.3,231.26 431.06,231.1 430.83,230.93 430.6,230.76 430.36,230.61 430.13,230.48 429.9,230.39 429.66,230.35 429.43,230.37 429.2,230.43 428.96,230.55 428.73,230.7 428.5,230.89 428.26,231.09 428.03,231.29 427.79,231.47 427.56,231.62 427.33,231.74 427.09,231.8 426.86,231.81 426.63,231.78 426.39,231.69 426.16,231.56 425.93,231.41 425.69,231.24 425.46,231.07 425.23,230.92 424.99,230.8 424.76,230.72 424.52,230.69 424.29,230.71 424.06,230.78 423.82,230.9 423.59,231.07 423.36,231.25 423.12,231.46 422.89,231.66 422.66,231.84 422.42,232 422.19,232.11 421.96,232.17 421.72,232.19 421.49,232.15 421.25,232.06 421.02,231.93 420.79,231.78 420.55,231.61 420.32,231.45 420.09,231.31 419.85,231.19 419.62,231.12 419.39,231.09 419.15,231.12 418.92,231.2 418.69,231.33 418.45,231.5 418.22,231.69 417.98,231.9 417.75,232.1 417.52,232.29 417.28,232.44 417.05,232.56 416.82,232.62 416.58,232.63 416.35,232.59 416.12,232.5 415.88,232.38 415.65,232.23 415.42,232.07 415.18,231.91 414.95,231.77 414.71,231.66 414.48,231.6 414.25,231.58 414.01,231.62 413.78,231.71 413.55,231.84 413.31,232.01 413.08,232.21 412.85,232.42 412.61,232.63 412.38,232.82 412.15,232.98 411.91,233.09 411.68,233.16 411.44,233.17 411.21,233.13 410.98,233.04 410.74,232.92 410.51,232.78 410.28,232.62 410.04,232.47 409.81,232.33 409.58,232.23 409.34,232.17 409.11,232.17 408.88,232.21 408.64,232.31 408.41,232.46 408.18,232.64 407.94,232.84 407.71,233.06 407.47,233.27 407.24,233.46 407.01,233.62 406.77,233.74 406.54,233.8 406.31,233.82 406.07,233.78 405.84,233.7 405.61,233.58 405.37,233.43 405.14,233.28 404.91,233.14 404.67,233.01 404.44,232.92 404.2,232.87 403.97,232.87 403.74,232.93 403.5,233.04 403.27,233.19 403.04,233.38 402.8,233.6 402.57,233.82 402.34,234.03 402.1,234.23 401.87,234.39 401.64,234.51 401.4,234.58 401.17,234.6 400.93,234.56 400.7,234.48 400.47,234.37 400.23,234.23 400,234.09 399.77,233.95 399.53,233.83 399.3,233.75 399.07,233.71 398.83,233.73 398.6,233.8 398.37,233.91 398.13,234.08 397.9,234.28 397.66,234.5 397.43,234.73 397.2,234.95 396.96,235.15 396.73,235.32 396.5,235.45 396.26,235.52 396.03,235.54 395.8,235.51 395.56,235.43 395.33,235.32 395.1,235.19 394.86,235.06 394.63,234.93 394.39,234.82 394.16,234.75 393.93,234.73 393.69,234.76 393.46,234.84 393.23,234.97 392.99,235.14 392.76,235.35 392.53,235.59 392.29,235.83 392.06,236.06 391.83,236.27 391.59,236.44 391.36,236.57 391.12,236.65 390.89,236.67 390.66,236.65 390.42,236.58 390.19,236.48 389.96,236.36 389.72,236.23 389.49,236.11 389.26,236.02 389.02,235.96 388.79,235.95 388.56,235.99 388.32,236.09 388.09,236.23 387.85,236.42 387.62,236.65 387.39,236.89 387.15,237.14 386.92,237.38 386.69,237.6 386.45,237.78 386.22,237.92 385.99,238 385.75,238.04 385.52,238.02 385.29,237.96 385.05,237.87 384.82,237.76 384.58,237.65 384.35,237.54 384.12,237.46 383.88,237.42 383.65,237.43 383.42,237.49 383.18,237.6 382.95,237.76 382.72,237.97 382.48,238.2 382.25,238.46 382.02,238.72 381.78,238.98 381.55,239.21 381.31,239.4 381.08,239.54 380.85,239.64 380.61,239.68 380.38,239.68 380.15,239.63 379.91,239.55 379.68,239.45 379.45,239.35 379.21,239.27 378.98,239.2 378.75,239.18 378.51,239.21 378.28,239.28 378.04,239.41 377.81,239.59 377.58,239.82 377.34,240.07 377.11,240.35 376.88,240.63 376.64,240.9 376.41,241.14 376.18,241.34 375.94,241.5 375.71,241.61 375.48,241.67 375.24,241.67 375.01,241.64 374.78,241.58 374.54,241.5 374.31,241.41 374.07,241.34 373.84,241.3 373.61,241.3 373.37,241.35 373.14,241.45 372.91,241.6 372.67,241.8 372.44,242.05 372.21,242.33 371.97,242.62 371.74,242.92 371.51,243.2 371.27,243.46 371.04,243.68 370.8,243.86 370.57,243.98 370.34,244.05 370.1,244.08 369.87,244.06 369.64,244.02 369.4,243.96 369.17,243.9 368.94,243.85 368.7,243.83 368.47,243.86 368.24,243.93 368,244.05 367.77,244.23 367.53,244.46 367.3,244.73 367.07,245.03 366.83,245.35 366.6,245.67 366.37,245.98 366.13,246.26 365.9,246.5 365.67,246.7 365.43,246.84 365.2,246.93 364.97,246.98 364.73,246.98 364.5,246.96 364.26,246.93 364.03,246.89 363.8,246.87 363.56,246.88 363.33,246.94 363.1,247.04 362.86,247.19 362.63,247.4 362.4,247.66 362.16,247.96 361.93,248.29 361.7,248.64 361.46,248.99 361.23,249.32 360.99,249.63 360.76,249.89 360.53,250.11 360.29,250.28 360.06,250.4 359.83,250.47 359.59,250.5 359.36,250.51 359.13,250.5 358.89,250.5 358.66,250.51 358.43,250.56 358.19,250.65 357.96,250.78 357.72,250.98 357.49,251.22 357.26,251.52 357.02,251.85 356.79,252.22 356.56,252.6 356.32,252.98 356.09,253.34 355.86,253.68 355.62,253.98 355.39,254.23 355.16,254.43 354.92,254.58 354.69,254.68 354.45,254.75 354.22,254.79 353.99,254.82 353.75,254.85 353.52,254.9 353.29,254.99 353.05,255.12 352.82,255.3 352.59,255.53 352.35,255.82 352.12,256.16 351.89,256.54 351.65,256.94 351.42,257.36 351.18,257.78 350.95,258.19 350.72,258.56 350.48,258.9 350.25,259.18 350.02,259.42 349.78,259.61 349.55,259.75 349.32,259.86 349.08,259.94 348.85,260.02 348.62,260.09 348.38,260.19 348.15,260.33 347.91,260.5 347.68,260.73 347.45,261.02 347.21,261.36 346.98,261.74 346.75,262.17 346.51,262.63 346.28,263.1 346.05,263.56 345.81,264.01 345.58,264.44 345.35,264.82 345.11,265.15 344.88,265.44 344.64,265.67 344.41,265.86 344.18,266.02 343.94,266.15 343.71,266.28 343.48,266.41 343.24,266.57 343.01,266.76 342.78,266.99 342.54,267.28 342.31,267.63 342.08,268.02 341.84,268.47 341.61,268.96 341.37,269.47 341.14,270 340.91,270.52 340.67,271.03 340.44,271.51 340.21,271.95 339.97,272.34 339.74,272.68 339.51,272.97 339.27,273.22 339.04,273.44 338.81,273.64 338.57,273.82 338.34,274.02 338.11,274.25 337.87,274.5 337.64,274.81 337.4,275.17 337.17,275.58 336.94,276.05 336.7,276.57 336.47,277.13 336.24,277.71 336,278.31 335.77,278.91 335.54,279.48 335.3,280.03 335.07,280.54 334.84,281 334.6,281.41 334.37,281.77 334.13,281.68 333.9,281.53 333.67,281.35 333.43,281.17 333.2,280.99 332.97,280.83 332.73,280.71 332.5,280.63 332.27,280.6 332.03,280.62 331.8,280.7 331.57,280.82 331.33,280.98 331.1,281.15 330.86,281.34 330.63,281.52 330.4,281.67 330.16,281.8 329.93,281.87 329.7,281.9 329.46,281.87 329.23,281.8 329,281.67 328.76,281.52 328.53,281.34 328.3,281.15 328.06,280.97 327.83,280.82 327.59,280.7 327.36,280.62 327.13,280.6 326.89,280.63 326.66,280.71 326.43,280.83 326.19,280.99 325.96,281.17 325.73,281.35 325.49,281.53 325.26,281.69 325.03,281.8 324.79,281.88 324.56,281.9 324.32,281.87 324.09,281.79 323.86,281.66 323.62,281.5 323.39,281.32 323.16,281.14 322.92,280.96 322.69,280.81 322.46,280.69 322.22,280.62 321.99,280.6 321.76,280.63 321.52,280.72 321.29,280.84 321.05,281 320.82,281.18 320.59,281.37 320.35,281.54 320.12,281.7 319.89,281.81 319.65,281.88 319.42,281.9 319.19,281.86 318.95,281.78 318.72,281.65 318.49,281.49 318.25,281.31 318.02,281.12 317.78,280.95 317.55,280.8 317.32,280.68 317.08,280.62 316.85,280.6 316.62,280.64 316.38,280.72 316.15,280.85 315.92,281.02 315.68,281.2 315.45,281.38 315.22,281.56 314.98,281.71 314.75,281.82 314.51,281.88 314.28,281.9 314.05,281.86 313.81,281.77 313.58,281.64 313.35,281.48 313.11,281.3 312.88,281.11 312.65,280.94 312.41,280.79 312.18,280.68 311.95,280.61 311.71,280.6 311.48,280.64 311.24,280.73 311.01,280.87 310.78,281.03 310.54,281.21 310.31,281.4 310.08,281.57 309.84,281.72 309.61,281.83 309.38,281.89 309.14,281.9 308.91,281.85 308.68,281.76 308.44,281.63 308.21,281.46 307.97,281.28 307.74,281.1 307.51,280.92 307.27,280.78 307.04,280.67 306.81,280.61 306.57,280.6 306.34,280.65 306.11,280.74 305.87,280.88 305.64,281.04 305.41,281.23 305.17,281.41 304.94,281.58 304.7,281.73" fill="#ff0000" stroke="#ff0000" stroke-width="2.2" stroke-linejoin="round"/><polygon points="304.7,277.13 304.94,276.94 305.17,276.77 305.41,276.61 305.64,276.49 305.87,276.42 306.11,276.4 306.34,276.43 306.57,276.51 306.81,276.64 307.04,276.8 307.27,276.98 307.51,277.16 307.74,277.34 307.97,277.49 308.21,277.61 308.44,277.68 308.68,277.7 308.91,277.67 309.14,277.58 309.38,277.46 309.61,277.3 309.84,277.12 310.08,276.93 310.31,276.75 310.54,276.6 310.78,276.49 311.01,276.42 311.24,276.4 311.48,276.44 311.71,276.52 311.95,276.65 312.18,276.81 312.41,276.99 312.65,277.18 312.88,277.35 313.11,277.5 313.35,277.62 313.58,277.68 313.81,277.7 314.05,277.66 314.28,277.57 314.51,277.44 314.75,277.28 314.98,277.1 315.22,276.92 315.45,276.74 315.68,276.59 315.92,276.48 316.15,276.42 316.38,276.4 316.62,276.44 316.85,276.53 317.08,276.66 317.32,276.82 317.55,277.01 317.78,277.19 318.02,277.36 318.25,277.51 318.49,277.62 318.72,277.69 318.95,277.7 319.19,277.66 319.42,277.57 319.65,277.43 319.89,277.27 320.12,277.09 320.35,276.9 320.59,276.73 320.82,276.58 321.05,276.47 321.29,276.41 321.52,276.4 321.76,276.45 321.99,276.54 322.22,276.67 322.46,276.84 322.69,277.02 322.92,277.21 323.16,277.38 323.39,277.52 323.62,277.63 323.86,277.69 324.09,277.7 324.32,277.65 324.56,277.56 324.79,277.42 325.03,277.26 325.26,277.07 325.49,276.89 325.73,276.72 325.96,276.57 326.19,276.47 326.43,276.41 326.66,276.4 326.89,276.45 327.13,276.55 327.36,276.68 327.59,276.85 327.83,277.03 328.06,277.22 328.3,277.39 328.53,277.53 328.76,277.64 329,277.69 329.23,277.69 329.46,277.65 329.7,277.55 329.93,277.41 330.16,277.24 330.4,277.06 330.63,276.87 330.86,276.7 331.1,276.56 331.33,276.46 331.57,276.41 331.8,276.41 332.03,276.46 332.27,276.56 332.5,276.7 332.73,276.87 332.97,277.05 333.2,277.23 333.43,277.4 333.67,277.54 333.9,277.64 334.13,277.69 334.37,277.43 334.6,274.04 334.84,270.83 335.07,267.77 335.3,264.88 335.54,262.14 335.77,259.57 336,257.17 336.24,254.94 336.47,252.89 336.7,251.02 336.94,249.31 337.17,247.76 337.4,246.37 337.64,245.11 337.87,243.97 338.11,242.93 338.34,241.97 338.57,241.07 338.81,240.2 339.04,239.36 339.27,238.53 339.51,237.7 339.74,236.88 339.97,236.05 340.21,235.24 340.44,234.44 340.67,233.66 340.91,232.93 341.14,232.25 341.37,231.63 341.61,231.09 341.84,230.62 342.08,230.23 342.31,229.92 342.54,229.68 342.78,229.51 343.01,229.38 343.24,229.28 343.48,229.2 343.71,229.11 343.94,229.02 344.18,228.89 344.41,228.73 344.64,228.54 344.88,228.3 345.11,228.02 345.35,227.72 345.58,227.4 345.81,227.08 346.05,226.78 346.28,226.49 346.51,226.25 346.75,226.05 346.98,225.91 347.21,225.83 347.45,225.81 347.68,225.84 347.91,225.91 348.15,226.02 348.38,226.14 348.62,226.26 348.85,226.36 349.08,226.44 349.32,226.48 349.55,226.48 349.78,226.42 350.02,226.31 350.25,226.16 350.48,225.98 350.72,225.77 350.95,225.56 351.18,225.34 351.42,225.15 351.65,225 351.89,224.89 352.12,224.83 352.35,224.82 352.59,224.87 352.82,224.96 353.05,225.1 353.29,225.25 353.52,225.42 353.75,225.59 353.99,225.74 354.22,225.86 354.45,225.93 354.69,225.96 354.92,225.93 355.16,225.85 355.39,225.73 355.62,225.57 355.86,225.38 356.09,225.19 356.32,225 356.56,224.84 356.79,224.7 357.02,224.61 357.26,224.58 357.49,224.59 357.72,224.66 357.96,224.77 358.19,224.92 358.43,225.09 358.66,225.27 358.89,225.45 359.13,225.6 359.36,225.73 359.59,225.81 359.83,225.84 360.06,225.81 360.29,225.74 360.53,225.62 360.76,225.46 360.99,225.28 361.23,225.1 361.46,224.92 361.7,224.76 361.93,224.63 362.16,224.55 362.4,224.52 362.63,224.54 362.86,224.61 363.1,224.73 363.33,224.88 363.56,225.06 363.8,225.25 364.03,225.42 364.26,225.58 364.5,225.7 364.73,225.78 364.97,225.81 365.2,225.78 365.43,225.71 365.67,225.58 365.9,225.43 366.13,225.25 366.37,225.06 366.6,224.89 366.83,224.73 367.07,224.61 367.3,224.53 367.53,224.5 367.77,224.53 368,224.61 368.24,224.73 368.47,224.89 368.7,225.07 368.94,225.25 369.17,225.43 369.4,225.58 369.64,225.7 369.87,225.78 370.1,225.8 370.34,225.77 370.57,225.69 370.8,225.57 371.04,225.41 371.27,225.23 371.51,225.05 371.74,224.87 371.97,224.71 372.21,224.6 372.44,224.52 372.67,224.5 372.91,224.53 373.14,224.61 373.37,224.74 373.61,224.9 373.84,225.08 374.07,225.26 374.31,225.44 374.54,225.59 374.78,225.71 375.01,225.78 375.24,225.8 375.48,225.77 375.71,225.68 375.94,225.56 376.18,225.4 376.41,225.22 376.64,225.03 376.88,224.85 377.11,224.7 377.34,224.59 377.58,224.52 377.81,224.5 378.04,224.54 378.28,224.62 378.51,224.75 378.75,224.91 378.98,225.09 379.21,225.28 379.45,225.45 379.68,225.6 379.91,225.72 380.15,225.78 380.38,225.8 380.61,225.76 380.85,225.67 381.08,225.54 381.31,225.38 381.55,225.2 381.78,225.02 382.02,224.84 382.25,224.69 382.48,224.58 382.72,224.52 382.95,224.5 383.18,224.54 383.42,224.63 383.65,224.76 383.88,224.92 384.12,225.11 384.35,225.29 384.58,225.46 384.82,225.61 385.05,225.72 385.29,225.79 385.52,225.8 385.75,225.76 385.99,225.67 386.22,225.53 386.45,225.37 386.69,225.19 386.92,225 387.15,224.83 387.39,224.68 387.62,224.57 387.85,224.51 388.09,224.5 388.32,224.55 388.56,224.64 388.79,224.77 389.02,224.94 389.26,225.12 389.49,225.31 389.72,225.48 389.96,225.62 390.19,225.73 390.42,225.79 390.66,225.8 390.89,225.75 391.12,225.66 391.36,225.52 391.59,225.36 391.83,225.17 392.06,224.99 392.29,224.82 392.53,224.67 392.76,224.57 392.99,224.51 393.23,224.5 393.46,224.55 393.69,224.65 393.93,224.78 394.16,224.95 394.39,225.13 394.63,225.32 394.86,225.49 395.1,225.63 395.33,225.74 395.56,225.79 395.8,225.79 396.03,225.75 396.26,225.65 396.5,225.51 396.73,225.34 396.96,225.16 397.2,224.97 397.43,224.8 397.66,224.66 397.9,224.56 398.13,224.51 398.37,224.51 398.6,224.56 398.83,224.66 399.07,224.8 399.3,224.97 399.53,225.15 399.77,225.33 400,225.5 400.23,225.64 400.47,225.74 400.7,225.79 400.93,225.79 401.17,225.74 401.4,225.64 401.64,225.5 401.87,225.33 402.1,225.14 402.34,224.96 402.57,224.79 402.8,224.65 403.04,224.56 403.27,224.51 403.5,224.51 403.74,224.56 403.97,224.67 404.2,224.81 404.44,224.98 404.67,225.16 404.91,225.35 405.14,225.51 405.37,225.65 405.61,225.75 405.84,225.8 406.07,225.79 406.31,225.73 406.54,225.63 406.77,225.49 407.01,225.31 407.24,225.13 407.47,224.95 407.71,224.78 407.94,224.64 408.18,224.55 408.41,224.5 408.64,224.51 408.88,224.57 409.11,224.68 409.34,224.82 409.58,224.99 409.81,225.18 410.04,225.36 410.28,225.53 410.51,225.66 410.74,225.75 410.98,225.8 411.21,225.79 411.44,225.73 411.68,225.62 411.91,225.47 412.15,225.3 412.38,225.12 412.61,224.93 412.85,224.77 413.08,224.64 413.31,224.54 413.55,224.5 413.78,224.51 414.01,224.58 414.25,224.69 414.48,224.83 414.71,225.01 414.95,225.19 415.18,225.37 415.42,225.54 415.65,225.67 415.88,225.76 416.12,225.8 416.35,225.79 416.58,225.72 416.82,225.61 417.05,225.46 417.28,225.29 417.52,225.1 417.75,224.92 417.98,224.76 418.22,224.63 418.45,224.54 418.69,224.5 418.92,224.52 419.15,224.58 419.39,224.7 419.62,224.85 419.85,225.02 420.09,225.21 420.32,225.39 420.55,225.55 420.79,225.68 421.02,225.76 421.25,225.8 421.49,225.78 421.72,225.71 421.96,225.6 422.19,225.45 422.42,225.27 422.66,225.09 422.89,224.91 423.12,224.75 423.36,224.62 423.59,224.53 423.82,224.5 424.06,224.52 424.29,224.59 424.52,224.71 424.76,224.86 424.99,225.03 425.23,225.22 425.46,225.4 425.69,225.56 425.93,225.69 426.16,225.77 426.39,225.8 426.63,225.78 426.86,225.71 427.09,225.59 427.33,225.43 427.56,225.26 427.79,225.07 428.03,224.89 428.26,224.73 428.5,224.61 428.73,224.53 428.96,224.5 429.2,224.52 429.43,224.6 429.66,224.72 429.9,224.87 430.13,225.05 430.36,225.23 430.6,225.41 430.83,225.57 431.06,225.69 431.3,225.77 431.53,225.8 431.77,225.77 432,225.7 432.23,225.58 432.47,225.42 432.7,225.24 432.93,225.06 433.17,224.88 433.4,224.72 433.63,224.6 433.87,224.53 434.1,224.5 434.33,224.53 434.57,224.61 434.8,224.73 435.04,224.88 435.27,225.06 435.5,225.25 435.74,225.43 435.97,225.58 436.2,225.7 436.44,225.78 436.67,225.8 436.9,225.77 437.14,225.69 437.37,225.57 437.6,225.41 437.84,225.23 438.07,225.04 438.31,224.87 438.54,224.71 438.77,224.59 439.01,224.52 439.24,224.5 439.47,224.53 439.71,224.61 439.94,224.74 440.17,224.9 440.41,225.08 440.64,225.26 440.87,225.44 441.11,225.59 441.34,225.71 441.58,225.78 441.81,225.8 442.04,225.77 442.28,225.68 442.51,225.56 442.74,225.4 442.98,225.22 443.21,225.03 443.44,224.85 443.68,224.7 443.91,224.59 444.14,224.52 444.38,224.5 444.61,224.54 444.85,224.62 444.85,228.52 444.61,228.44 444.38,228.4 444.14,228.42 443.91,228.49 443.68,228.6 443.44,228.75 443.21,228.93 442.98,229.12 442.74,229.3 442.51,229.46 442.28,229.58 442.04,229.67 441.81,229.7 441.58,229.68 441.34,229.61 441.11,229.49 440.87,229.34 440.64,229.16 440.41,228.98 440.17,228.8 439.94,228.64 439.71,228.51 439.47,228.43 439.24,228.4 439.01,228.42 438.77,228.49 438.54,228.61 438.31,228.77 438.07,228.94 437.84,229.13 437.6,229.31 437.37,229.47 437.14,229.59 436.9,229.67 436.67,229.7 436.44,229.68 436.2,229.6 435.97,229.48 435.74,229.33 435.5,229.15 435.27,228.96 435.04,228.78 434.8,228.63 434.57,228.51 434.33,228.43 434.1,228.4 433.87,228.43 433.63,228.5 433.4,228.62 433.17,228.78 432.93,228.96 432.7,229.14 432.47,229.32 432.23,229.48 432,229.6 431.77,229.67 431.53,229.7 431.3,229.67 431.06,229.59 430.83,229.47 430.6,229.31 430.36,229.13 430.13,228.95 429.9,228.77 429.66,228.62 429.43,228.5 429.2,228.42 428.96,228.4 428.73,228.43 428.5,228.51 428.26,228.63 428.03,228.79 427.79,228.97 427.56,229.16 427.33,229.33 427.09,229.49 426.86,229.61 426.63,229.68 426.39,229.7 426.16,229.67 425.93,229.59 425.69,229.46 425.46,229.3 425.23,229.12 424.99,228.93 424.76,228.76 424.52,228.61 424.29,228.49 424.06,228.42 423.82,228.4 423.59,228.43 423.36,228.52 423.12,228.65 422.89,228.81 422.66,228.99 422.42,229.17 422.19,229.35 421.96,229.5 421.72,229.61 421.49,229.68 421.25,229.7 421.02,229.66 420.79,229.58 420.55,229.45 420.32,229.29 420.09,229.11 419.85,228.92 419.62,228.75 419.39,228.6 419.15,228.48 418.92,228.42 418.69,228.4 418.45,228.44 418.22,228.53 417.98,228.66 417.75,228.82 417.52,229 417.28,229.19 417.05,229.36 416.82,229.51 416.58,229.62 416.35,229.69 416.12,229.7 415.88,229.66 415.65,229.57 415.42,229.44 415.18,229.27 414.95,229.09 414.71,228.91 414.48,228.73 414.25,228.59 414.01,228.48 413.78,228.41 413.55,228.4 413.31,228.44 413.08,228.54 412.85,228.67 412.61,228.83 412.38,229.02 412.15,229.2 411.91,229.37 411.68,229.52 411.44,229.63 411.21,229.69 410.98,229.7 410.74,229.65 410.51,229.56 410.28,229.43 410.04,229.26 409.81,229.08 409.58,228.89 409.34,228.72 409.11,228.58 408.88,228.47 408.64,228.41 408.41,228.4 408.18,228.45 407.94,228.54 407.71,228.68 407.47,228.85 407.24,229.03 407.01,229.21 406.77,229.39 406.54,229.53 406.31,229.63 406.07,229.69 405.84,229.7 405.61,229.65 405.37,229.55 405.14,229.41 404.91,229.25 404.67,229.06 404.44,228.88 404.2,228.71 403.97,228.57 403.74,228.46 403.5,228.41 403.27,228.41 403.04,228.46 402.8,228.55 402.57,228.69 402.34,228.86 402.1,229.04 401.87,229.23 401.64,229.4 401.4,229.54 401.17,229.64 400.93,229.69 400.7,229.69 400.47,229.64 400.23,229.54 400,229.4 399.77,229.23 399.53,229.05 399.3,228.87 399.07,228.7 398.83,228.56 398.6,228.46 398.37,228.41 398.13,228.41 397.9,228.46 397.66,228.56 397.43,228.7 397.2,228.87 396.96,229.06 396.73,229.24 396.5,229.41 396.26,229.55 396.03,229.65 395.8,229.69 395.56,229.69 395.33,229.64 395.1,229.53 394.86,229.39 394.63,229.22 394.39,229.03 394.16,228.85 393.93,228.68 393.69,228.55 393.46,228.45 393.23,228.4 392.99,228.41 392.76,228.47 392.53,228.57 392.29,228.72 392.06,228.89 391.83,229.07 391.59,229.26 391.36,229.42 391.12,229.56 390.89,229.65 390.66,229.7 390.42,229.69 390.19,229.63 389.96,229.52 389.72,229.38 389.49,229.21 389.26,229.02 389.02,228.84 388.79,228.67 388.56,228.54 388.32,228.45 388.09,228.4 387.85,228.41 387.62,228.47 387.39,228.58 387.15,228.73 386.92,228.9 386.69,229.09 386.45,229.27 386.22,229.43 385.99,229.57 385.75,229.66 385.52,229.7 385.29,229.69 385.05,229.62 384.82,229.51 384.58,229.36 384.35,229.19 384.12,229.01 383.88,228.82 383.65,228.66 383.42,228.53 383.18,228.44 382.95,228.4 382.72,228.42 382.48,228.48 382.25,228.59 382.02,228.74 381.78,228.92 381.55,229.1 381.31,229.28 381.08,229.44 380.85,229.57 380.61,229.66 380.38,229.7 380.15,229.68 379.91,229.62 379.68,229.5 379.45,229.35 379.21,229.18 378.98,228.99 378.75,228.81 378.51,228.65 378.28,228.52 378.04,228.44 377.81,228.4 377.58,228.42 377.34,228.49 377.11,228.6 376.88,228.75 376.64,228.93 376.41,229.12 376.18,229.3 375.94,229.46 375.71,229.58 375.48,229.67 375.24,229.7 375.01,229.68 374.78,229.61 374.54,229.49 374.31,229.34 374.07,229.16 373.84,228.98 373.61,228.8 373.37,228.64 373.14,228.51 372.91,228.43 372.67,228.4 372.44,228.42 372.21,228.5 371.97,228.61 371.74,228.77 371.51,228.95 371.27,229.13 371.04,229.31 370.8,229.47 370.57,229.59 370.34,229.67 370.1,229.7 369.87,229.68 369.64,229.6 369.4,229.48 369.17,229.33 368.94,229.15 368.7,228.97 368.47,228.79 368.24,228.63 368,228.51 367.77,228.43 367.53,228.4 367.3,228.43 367.07,228.51 366.83,228.63 366.6,228.79 366.37,228.96 366.13,229.15 365.9,229.33 365.67,229.48 365.43,229.61 365.2,229.68 364.97,229.71 364.73,229.68 364.5,229.6 364.26,229.48 364.03,229.32 363.8,229.15 363.56,228.96 363.33,228.78 363.1,228.63 362.86,228.51 362.63,228.44 362.4,228.42 362.16,228.45 361.93,228.53 361.7,228.66 361.46,228.82 361.23,229 360.99,229.18 360.76,229.36 360.53,229.52 360.29,229.64 360.06,229.71 359.83,229.74 359.59,229.71 359.36,229.63 359.13,229.5 358.89,229.35 358.66,229.17 358.43,228.99 358.19,228.82 357.96,228.67 357.72,228.56 357.49,228.49 357.26,228.48 357.02,228.51 356.79,228.6 356.56,228.74 356.32,228.9 356.09,229.09 355.86,229.28 355.62,229.47 355.39,229.63 355.16,229.75 354.92,229.83 354.69,229.86 354.45,229.83 354.22,229.76 353.99,229.64 353.75,229.49 353.52,229.32 353.29,229.15 353.05,229 352.82,228.86 352.59,228.77 352.35,228.72 352.12,228.73 351.89,228.79 351.65,228.9 351.42,229.05 351.18,229.24 350.95,229.46 350.72,229.67 350.48,229.88 350.25,230.06 350.02,230.21 349.78,230.32 349.55,230.38 349.32,230.38 349.08,230.34 348.85,230.26 348.62,230.16 348.38,230.04 348.15,229.92 347.91,229.81 347.68,229.74 347.45,229.71 347.21,229.73 346.98,229.81 346.75,229.95 346.51,230.15 346.28,230.39 346.05,230.68 345.81,230.98 345.58,231.3 345.35,231.62 345.11,231.92 344.88,232.2 344.64,232.44 344.41,232.63 344.18,232.79 343.94,232.92 343.71,233.01 343.48,233.1 343.24,233.18 343.01,233.28 342.78,233.41 342.54,233.58 342.31,233.82 342.08,234.13 341.84,234.52 341.61,234.99 341.37,235.53 341.14,236.15 340.91,236.83 340.67,237.56 340.44,238.34 340.21,239.14 339.97,239.95 339.74,240.78 339.51,241.6 339.27,242.43 339.04,243.26 338.81,244.1 338.57,244.97 338.34,245.87 338.11,246.83 337.87,247.87 337.64,249.01 337.4,250.27 337.17,251.66 336.94,253.21 336.7,254.92 336.47,256.79 336.24,258.84 336,261.07 335.77,263.47 335.54,266.04 335.3,268.78 335.07,271.67 334.84,274.73 334.6,277.94 334.37,281.33 334.13,281.59 333.9,281.54 333.67,281.44 333.43,281.3 333.2,281.13 332.97,280.95 332.73,280.77 332.5,280.6 332.27,280.46 332.03,280.36 331.8,280.31 331.57,280.31 331.33,280.36 331.1,280.46 330.86,280.6 330.63,280.77 330.4,280.96 330.16,281.14 329.93,281.31 329.7,281.45 329.46,281.55 329.23,281.59 329,281.59 328.76,281.54 328.53,281.43 328.3,281.29 328.06,281.12 327.83,280.93 327.59,280.75 327.36,280.58 327.13,280.45 326.89,280.35 326.66,280.3 326.43,280.31 326.19,280.37 325.96,280.47 325.73,280.62 325.49,280.79 325.26,280.97 325.03,281.16 324.79,281.32 324.56,281.46 324.32,281.55 324.09,281.6 323.86,281.59 323.62,281.53 323.39,281.42 323.16,281.28 322.92,281.11 322.69,280.92 322.46,280.74 322.22,280.57 321.99,280.44 321.76,280.35 321.52,280.3 321.29,280.31 321.05,280.37 320.82,280.48 320.59,280.63 320.35,280.8 320.12,280.99 319.89,281.17 319.65,281.33 319.42,281.47 319.19,281.56 318.95,281.6 318.72,281.59 318.49,281.52 318.25,281.41 318.02,281.26 317.78,281.09 317.55,280.91 317.32,280.72 317.08,280.56 316.85,280.43 316.62,280.34 316.38,280.3 316.15,280.32 315.92,280.38 315.68,280.49 315.45,280.64 315.22,280.82 314.98,281 314.75,281.18 314.51,281.34 314.28,281.47 314.05,281.56 313.81,281.6 313.58,281.58 313.35,281.52 313.11,281.4 312.88,281.25 312.65,281.08 312.41,280.89 312.18,280.71 311.95,280.55 311.71,280.42 311.48,280.34 311.24,280.3 311.01,280.32 310.78,280.39 310.54,280.5 310.31,280.65 310.08,280.83 309.84,281.02 309.61,281.2 309.38,281.36 309.14,281.48 308.91,281.57 308.68,281.6 308.44,281.58 308.21,281.51 307.97,281.39 307.74,281.24 307.51,281.06 307.27,280.88 307.04,280.7 306.81,280.54 306.57,280.41 306.34,280.33 306.11,280.3 305.87,280.32 305.64,280.39 305.41,280.51 305.17,280.67 304.94,280.84 304.7,281.03" fill="#0000ff" stroke="#0000ff" stroke-width="1.6" stroke-linejoin="round"/><polygon points="304.7,277.28 304.94,277.21 305.17,277.09 305.41,276.94 305.64,276.76 305.87,276.58 306.11,276.4 306.34,276.24 306.57,276.11 306.81,276.03 307.04,276 307.27,276.02 307.51,276.09 307.74,276.21 307.97,276.37 308.21,276.54 308.44,276.73 308.68,276.91 308.91,277.07 309.14,277.19 309.38,277.27 309.61,277.3 309.84,277.28 310.08,277.2 310.31,277.08 310.54,276.93 310.78,276.75 311.01,276.56 311.24,276.39 311.48,276.23 311.71,276.11 311.95,276.03 312.18,276 312.41,276.03 312.65,276.1 312.88,276.22 313.11,276.38 313.35,276.56 313.58,276.74 313.81,276.92 314.05,277.08 314.28,277.2 314.51,277.27 314.75,277.3 314.98,277.27 315.22,277.19 315.45,277.07 315.68,276.91 315.92,276.74 316.15,276.55 316.38,276.37 316.62,276.22 316.85,276.1 317.08,276.02 317.32,276 317.55,276.03 317.78,276.11 318.02,276.23 318.25,276.39 318.49,276.57 318.72,276.76 318.95,276.93 319.19,277.09 319.42,277.21 319.65,277.28 319.89,277.3 320.12,277.27 320.35,277.19 320.59,277.06 320.82,276.9 321.05,276.72 321.29,276.54 321.52,276.36 321.76,276.21 321.99,276.09 322.22,276.02 322.46,276 322.69,276.03 322.92,276.12 323.16,276.25 323.39,276.41 323.62,276.59 323.86,276.77 324.09,276.95 324.32,277.1 324.56,277.21 324.79,277.28 325.03,277.3 325.26,277.26 325.49,277.18 325.73,277.05 325.96,276.89 326.19,276.71 326.43,276.52 326.66,276.35 326.89,276.2 327.13,276.08 327.36,276.02 327.59,276 327.83,276.04 328.06,276.13 328.3,276.26 328.53,276.42 328.76,276.6 329,276.79 329.23,276.96 329.46,277.11 329.7,277.22 329.93,277.29 330.16,277.3 330.4,277.26 330.63,277.17 330.86,277.04 331.1,276.87 331.33,276.69 331.57,276.51 331.8,276.33 332.03,276.19 332.27,276.08 332.5,276.01 332.73,276 332.97,276.04 333.2,276.13 333.43,276.27 333.67,276.43 333.9,276.61 334.13,276.8 334.37,276.73 334.6,273.88 334.84,271.17 335.07,268.57 335.3,266.07 335.54,263.67 335.77,261.35 336,259.13 336.24,256.99 336.47,254.95 336.7,253.01 336.94,251.19 337.17,249.49 337.4,247.92 337.64,246.49 337.87,245.18 338.11,244 338.34,242.95 338.57,242 338.81,241.14 339.04,240.36 339.27,239.64 339.51,238.95 339.74,238.29 339.97,237.64 340.21,236.98 340.44,236.32 340.67,235.64 340.91,234.94 341.14,234.24 341.37,233.55 341.61,232.86 341.84,232.21 342.08,231.6 342.31,231.04 342.54,230.54 342.78,230.12 343.01,229.76 343.24,229.49 343.48,229.27 343.71,229.12 343.94,229.01 344.18,228.94 344.41,228.88 344.64,228.82 344.88,228.75 345.11,228.64 345.35,228.51 345.58,228.33 345.81,228.1 346.05,227.84 346.28,227.55 346.51,227.24 346.75,226.92 346.98,226.61 347.21,226.33 347.45,226.08 347.68,225.87 347.91,225.72 348.15,225.63 348.38,225.59 348.62,225.61 348.85,225.67 349.08,225.77 349.32,225.88 349.55,226 349.78,226.11 350.02,226.19 350.25,226.23 350.48,226.23 350.72,226.18 350.95,226.08 351.18,225.93 351.42,225.75 351.65,225.54 351.89,225.32 352.12,225.1 352.35,224.9 352.59,224.74 352.82,224.61 353.05,224.54 353.29,224.52 353.52,224.55 353.75,224.63 353.99,224.76 354.22,224.91 354.45,225.07 354.69,225.24 354.92,225.39 355.16,225.51 355.39,225.59 355.62,225.62 355.86,225.6 356.09,225.53 356.32,225.41 356.56,225.25 356.79,225.07 357.02,224.88 357.26,224.69 357.49,224.51 357.72,224.37 357.96,224.27 358.19,224.22 358.43,224.22 358.66,224.28 358.89,224.38 359.13,224.52 359.36,224.69 359.59,224.87 359.83,225.04 360.06,225.2 360.29,225.33 360.53,225.42 360.76,225.46 360.99,225.44 361.23,225.38 361.46,225.26 361.7,225.11 361.93,224.94 362.16,224.75 362.4,224.57 362.63,224.4 362.86,224.27 363.1,224.17 363.33,224.13 363.56,224.14 363.8,224.21 364.03,224.32 364.26,224.47 364.5,224.64 364.73,224.82 364.97,225 365.2,225.16 365.43,225.29 365.67,225.38 365.9,225.41 366.13,225.4 366.37,225.33 366.6,225.22 366.83,225.07 367.07,224.89 367.3,224.7 367.53,224.52 367.77,224.36 368,224.23 368.24,224.15 368.47,224.11 368.7,224.13 368.94,224.19 369.17,224.31 369.4,224.46 369.64,224.64 369.87,224.82 370.1,225 370.34,225.16 370.57,225.29 370.8,225.37 371.04,225.4 371.27,225.38 371.51,225.31 371.74,225.2 371.97,225.04 372.21,224.87 372.44,224.68 372.67,224.5 372.91,224.34 373.14,224.22 373.37,224.13 373.61,224.1 373.84,224.12 374.07,224.2 374.31,224.31 374.54,224.47 374.78,224.64 375.01,224.83 375.24,225.01 375.48,225.17 375.71,225.29 375.94,225.37 376.18,225.4 376.41,225.38 376.64,225.3 376.88,225.18 377.11,225.03 377.34,224.85 377.58,224.67 377.81,224.49 378.04,224.33 378.28,224.21 378.51,224.13 378.75,224.1 378.98,224.13 379.21,224.2 379.45,224.32 379.68,224.48 379.91,224.66 380.15,224.84 380.38,225.02 380.61,225.18 380.85,225.3 381.08,225.37 381.31,225.4 381.55,225.37 381.78,225.29 382.02,225.17 382.25,225.01 382.48,224.84 382.72,224.65 382.95,224.47 383.18,224.32 383.42,224.2 383.65,224.12 383.88,224.1 384.12,224.13 384.35,224.21 384.58,224.33 384.82,224.49 385.05,224.67 385.29,224.86 385.52,225.03 385.75,225.19 385.99,225.31 386.22,225.38 386.45,225.4 386.69,225.37 386.92,225.29 387.15,225.16 387.39,225 387.62,224.82 387.85,224.64 388.09,224.46 388.32,224.31 388.56,224.19 388.79,224.12 389.02,224.1 389.26,224.13 389.49,224.22 389.72,224.35 389.96,224.51 390.19,224.69 390.42,224.87 390.66,225.05 390.89,225.2 391.12,225.31 391.36,225.38 391.59,225.4 391.83,225.36 392.06,225.28 392.29,225.15 392.53,224.99 392.76,224.81 392.99,224.62 393.23,224.45 393.46,224.3 393.69,224.18 393.93,224.12 394.16,224.1 394.39,224.14 394.63,224.23 394.86,224.36 395.1,224.52 395.33,224.7 395.56,224.89 395.8,225.06 396.03,225.21 396.26,225.32 396.5,225.39 396.73,225.4 396.96,225.36 397.2,225.27 397.43,225.14 397.66,224.97 397.9,224.79 398.13,224.61 398.37,224.43 398.6,224.29 398.83,224.18 399.07,224.11 399.3,224.1 399.53,224.14 399.77,224.23 400,224.37 400.23,224.53 400.47,224.71 400.7,224.9 400.93,225.07 401.17,225.22 401.4,225.33 401.64,225.39 401.87,225.4 402.1,225.35 402.34,225.26 402.57,225.13 402.8,224.96 403.04,224.78 403.27,224.59 403.5,224.42 403.74,224.28 403.97,224.17 404.2,224.11 404.44,224.1 404.67,224.15 404.91,224.24 405.14,224.38 405.37,224.55 405.61,224.73 405.84,224.91 406.07,225.08 406.31,225.23 406.54,225.33 406.77,225.39 407.01,225.4 407.24,225.35 407.47,225.25 407.71,225.11 407.94,224.95 408.18,224.76 408.41,224.58 408.64,224.41 408.88,224.27 409.11,224.16 409.34,224.11 409.58,224.11 409.81,224.15 410.04,224.25 410.28,224.39 410.51,224.56 410.74,224.74 410.98,224.93 411.21,225.1 411.44,225.24 411.68,225.34 411.91,225.39 412.15,225.39 412.38,225.34 412.61,225.24 412.85,225.1 413.08,224.93 413.31,224.75 413.55,224.57 413.78,224.4 414.01,224.26 414.25,224.16 414.48,224.11 414.71,224.11 414.95,224.16 415.18,224.26 415.42,224.4 415.65,224.57 415.88,224.76 416.12,224.94 416.35,225.11 416.58,225.25 416.82,225.35 417.05,225.39 417.28,225.39 417.52,225.34 417.75,225.23 417.98,225.09 418.22,224.92 418.45,224.74 418.69,224.55 418.92,224.39 419.15,224.25 419.39,224.15 419.62,224.1 419.85,224.11 420.09,224.17 420.32,224.27 420.55,224.42 420.79,224.59 421.02,224.77 421.25,224.95 421.49,225.12 421.72,225.26 421.96,225.35 422.19,225.4 422.42,225.39 422.66,225.33 422.89,225.22 423.12,225.08 423.36,224.91 423.59,224.72 423.82,224.54 424.06,224.37 424.29,224.24 424.52,224.15 424.76,224.1 424.99,224.11 425.23,224.17 425.46,224.28 425.69,224.43 425.93,224.6 426.16,224.79 426.39,224.97 426.63,225.13 426.86,225.27 427.09,225.36 427.33,225.4 427.56,225.39 427.79,225.32 428.03,225.21 428.26,225.07 428.5,224.89 428.73,224.71 428.96,224.53 429.2,224.36 429.43,224.23 429.66,224.14 429.9,224.1 430.13,224.11 430.36,224.18 430.6,224.29 430.83,224.44 431.06,224.61 431.3,224.8 431.53,224.98 431.77,225.14 432,225.27 432.23,225.36 432.47,225.4 432.7,225.38 432.93,225.32 433.17,225.2 433.4,225.05 433.63,224.88 433.87,224.69 434.1,224.51 434.33,224.35 434.57,224.22 434.8,224.14 435.04,224.1 435.27,224.12 435.5,224.19 435.74,224.3 435.97,224.45 436.2,224.63 436.44,224.81 436.67,224.99 436.9,225.15 437.14,225.28 437.37,225.37 437.6,225.4 437.84,225.38 438.07,225.31 438.31,225.19 438.54,225.04 438.77,224.86 439.01,224.68 439.24,224.5 439.47,224.34 439.71,224.21 439.94,224.13 440.17,224.1 440.41,224.12 440.64,224.19 440.87,224.31 441.11,224.47 441.34,224.64 441.58,224.83 441.81,225.01 442.04,225.17 442.28,225.29 442.51,225.37 442.74,225.4 442.98,225.38 443.21,225.3 443.44,225.18 443.68,225.03 443.91,224.85 444.14,224.66 444.38,224.49 444.61,224.33 444.85,224.21 444.85,228.91 444.61,229.03 444.38,229.19 444.14,229.36 443.91,229.55 443.68,229.73 443.44,229.88 443.21,230 442.98,230.08 442.74,230.1 442.51,230.07 442.28,229.99 442.04,229.87 441.81,229.71 441.58,229.53 441.34,229.34 441.11,229.17 440.87,229.01 440.64,228.89 440.41,228.82 440.17,228.8 439.94,228.83 439.71,228.91 439.47,229.04 439.24,229.2 439.01,229.38 438.77,229.56 438.54,229.74 438.31,229.89 438.07,230.01 437.84,230.08 437.6,230.1 437.37,230.07 437.14,229.98 436.9,229.85 436.67,229.69 436.44,229.51 436.2,229.33 435.97,229.15 435.74,229 435.5,228.89 435.27,228.82 435.04,228.8 434.8,228.84 434.57,228.92 434.33,229.05 434.1,229.21 433.87,229.39 433.63,229.58 433.4,229.75 433.17,229.9 432.93,230.02 432.7,230.08 432.47,230.1 432.23,230.06 432,229.97 431.77,229.84 431.53,229.68 431.3,229.5 431.06,229.31 430.83,229.14 430.6,228.99 430.36,228.88 430.13,228.81 429.9,228.8 429.66,228.84 429.43,228.93 429.2,229.06 428.96,229.23 428.73,229.41 428.5,229.59 428.26,229.77 428.03,229.91 427.79,230.02 427.56,230.09 427.33,230.1 427.09,230.06 426.86,229.97 426.63,229.83 426.39,229.67 426.16,229.49 425.93,229.3 425.69,229.13 425.46,228.98 425.23,228.87 424.99,228.81 424.76,228.8 424.52,228.85 424.29,228.94 424.06,229.07 423.82,229.24 423.59,229.42 423.36,229.61 423.12,229.78 422.89,229.92 422.66,230.03 422.42,230.09 422.19,230.1 421.96,230.05 421.72,229.96 421.49,229.82 421.25,229.65 421.02,229.47 420.79,229.29 420.55,229.12 420.32,228.97 420.09,228.87 419.85,228.81 419.62,228.8 419.39,228.85 419.15,228.95 418.92,229.09 418.69,229.25 418.45,229.44 418.22,229.62 417.98,229.79 417.75,229.93 417.52,230.04 417.28,230.09 417.05,230.09 416.82,230.05 416.58,229.95 416.35,229.81 416.12,229.64 415.88,229.46 415.65,229.27 415.42,229.1 415.18,228.96 414.95,228.86 414.71,228.81 414.48,228.81 414.25,228.86 414.01,228.96 413.78,229.1 413.55,229.27 413.31,229.45 413.08,229.63 412.85,229.8 412.61,229.94 412.38,230.04 412.15,230.09 411.91,230.09 411.68,230.04 411.44,229.94 411.21,229.8 410.98,229.63 410.74,229.44 410.51,229.26 410.28,229.09 410.04,228.95 409.81,228.85 409.58,228.81 409.34,228.81 409.11,228.86 408.88,228.97 408.64,229.11 408.41,229.28 408.18,229.46 407.94,229.65 407.71,229.81 407.47,229.95 407.24,230.05 407.01,230.1 406.77,230.09 406.54,230.03 406.31,229.93 406.07,229.78 405.84,229.61 405.61,229.43 405.37,229.25 405.14,229.08 404.91,228.94 404.67,228.85 404.44,228.8 404.2,228.81 403.97,228.87 403.74,228.98 403.5,229.12 403.27,229.29 403.04,229.48 402.8,229.66 402.57,229.83 402.34,229.96 402.1,230.05 401.87,230.1 401.64,230.09 401.4,230.03 401.17,229.92 400.93,229.77 400.7,229.6 400.47,229.41 400.23,229.23 400,229.07 399.77,228.93 399.53,228.84 399.3,228.8 399.07,228.81 398.83,228.88 398.6,228.99 398.37,229.13 398.13,229.31 397.9,229.49 397.66,229.67 397.43,229.84 397.2,229.97 396.96,230.06 396.73,230.1 396.5,230.09 396.26,230.02 396.03,229.91 395.8,229.76 395.56,229.59 395.33,229.4 395.1,229.22 394.86,229.06 394.63,228.93 394.39,228.84 394.16,228.8 393.93,228.82 393.69,228.88 393.46,229 393.23,229.15 392.99,229.32 392.76,229.51 392.53,229.69 392.29,229.85 392.06,229.98 391.83,230.06 391.59,230.1 391.36,230.08 391.12,230.01 390.89,229.9 390.66,229.75 390.42,229.57 390.19,229.39 389.96,229.21 389.72,229.05 389.49,228.92 389.26,228.83 389.02,228.8 388.79,228.82 388.56,228.89 388.32,229.01 388.09,229.16 387.85,229.34 387.62,229.52 387.39,229.7 387.15,229.86 386.92,229.99 386.69,230.07 386.45,230.1 386.22,230.08 385.99,230.01 385.75,229.89 385.52,229.73 385.29,229.56 385.05,229.37 384.82,229.19 384.58,229.03 384.35,228.91 384.12,228.83 383.88,228.8 383.65,228.82 383.42,228.9 383.18,229.02 382.95,229.17 382.72,229.35 382.48,229.54 382.25,229.71 382.02,229.87 381.78,229.99 381.55,230.07 381.31,230.1 381.08,230.07 380.85,230 380.61,229.88 380.38,229.72 380.15,229.54 379.91,229.36 379.68,229.18 379.45,229.02 379.21,228.9 378.98,228.83 378.75,228.8 378.51,228.83 378.28,228.91 378.04,229.03 377.81,229.19 377.58,229.37 377.34,229.55 377.11,229.73 376.88,229.88 376.64,230 376.41,230.08 376.18,230.1 375.94,230.07 375.71,229.99 375.48,229.87 375.24,229.71 375.01,229.53 374.78,229.34 374.54,229.17 374.31,229.01 374.07,228.9 373.84,228.82 373.61,228.8 373.37,228.83 373.14,228.92 372.91,229.04 372.67,229.2 372.44,229.38 372.21,229.57 371.97,229.74 371.74,229.9 371.51,230.01 371.27,230.08 371.04,230.1 370.8,230.07 370.57,229.99 370.34,229.86 370.1,229.7 369.87,229.52 369.64,229.34 369.4,229.16 369.17,229.01 368.94,228.89 368.7,228.83 368.47,228.81 368.24,228.85 368,228.93 367.77,229.06 367.53,229.22 367.3,229.4 367.07,229.59 366.83,229.77 366.6,229.92 366.37,230.03 366.13,230.1 365.9,230.11 365.67,230.08 365.43,229.99 365.2,229.86 364.97,229.7 364.73,229.52 364.5,229.34 364.26,229.17 364.03,229.02 363.8,228.91 363.56,228.84 363.33,228.83 363.1,228.87 362.86,228.97 362.63,229.1 362.4,229.27 362.16,229.45 361.93,229.64 361.7,229.81 361.46,229.96 361.23,230.08 360.99,230.14 360.76,230.16 360.53,230.12 360.29,230.03 360.06,229.9 359.83,229.74 359.59,229.57 359.36,229.39 359.13,229.22 358.89,229.08 358.66,228.98 358.43,228.92 358.19,228.92 357.96,228.97 357.72,229.07 357.49,229.21 357.26,229.39 357.02,229.58 356.79,229.77 356.56,229.95 356.32,230.11 356.09,230.23 355.86,230.3 355.62,230.32 355.39,230.29 355.16,230.21 354.92,230.09 354.69,229.94 354.45,229.77 354.22,229.61 353.99,229.46 353.75,229.33 353.52,229.25 353.29,229.22 353.05,229.24 352.82,229.31 352.59,229.44 352.35,229.6 352.12,229.8 351.89,230.02 351.65,230.24 351.42,230.45 351.18,230.63 350.95,230.78 350.72,230.88 350.48,230.93 350.25,230.93 350.02,230.89 349.78,230.81 349.55,230.7 349.32,230.58 349.08,230.47 348.85,230.37 348.62,230.31 348.38,230.29 348.15,230.33 347.91,230.42 347.68,230.57 347.45,230.78 347.21,231.03 346.98,231.31 346.75,231.62 346.51,231.94 346.28,232.25 346.05,232.54 345.81,232.8 345.58,233.03 345.35,233.21 345.11,233.34 344.88,233.45 344.64,233.52 344.41,233.58 344.18,233.64 343.94,233.71 343.71,233.82 343.48,233.97 343.24,234.19 343.01,234.46 342.78,234.82 342.54,235.24 342.31,235.74 342.08,236.3 341.84,236.91 341.61,237.56 341.37,238.25 341.14,238.94 340.91,239.64 340.67,240.34 340.44,241.02 340.21,241.68 339.97,242.34 339.74,242.99 339.51,243.65 339.27,244.34 339.04,245.06 338.81,245.84 338.57,246.7 338.34,247.65 338.11,248.7 337.87,249.88 337.64,251.19 337.4,252.62 337.17,254.19 336.94,255.89 336.7,257.71 336.47,259.65 336.24,261.69 336,263.83 335.77,266.05 335.54,268.37 335.3,270.77 335.07,273.27 334.84,275.87 334.6,278.58 334.37,281.43 334.13,281.5 333.9,281.31 333.67,281.13 333.43,280.97 333.2,280.83 332.97,280.74 332.73,280.7 332.5,280.71 332.27,280.78 332.03,280.89 331.8,281.03 331.57,281.21 331.33,281.39 331.1,281.57 330.86,281.74 330.63,281.87 330.4,281.96 330.16,282 329.93,281.99 329.7,281.92 329.46,281.81 329.23,281.66 329,281.49 328.76,281.3 328.53,281.12 328.3,280.96 328.06,280.83 327.83,280.74 327.59,280.7 327.36,280.72 327.13,280.78 326.89,280.9 326.66,281.05 326.43,281.22 326.19,281.41 325.96,281.59 325.73,281.75 325.49,281.88 325.26,281.96 325.03,282 324.79,281.98 324.56,281.91 324.32,281.8 324.09,281.65 323.86,281.47 323.62,281.29 323.39,281.11 323.16,280.95 322.92,280.82 322.69,280.73 322.46,280.7 322.22,280.72 321.99,280.79 321.76,280.91 321.52,281.06 321.29,281.24 321.05,281.42 320.82,281.6 320.59,281.76 320.35,281.89 320.12,281.97 319.89,282 319.65,281.98 319.42,281.91 319.19,281.79 318.95,281.63 318.72,281.46 318.49,281.27 318.25,281.09 318.02,280.93 317.78,280.81 317.55,280.73 317.32,280.7 317.08,280.72 316.85,280.8 316.62,280.92 316.38,281.07 316.15,281.25 315.92,281.44 315.68,281.61 315.45,281.77 315.22,281.89 314.98,281.97 314.75,282 314.51,281.97 314.28,281.9 314.05,281.78 313.81,281.62 313.58,281.44 313.35,281.26 313.11,281.08 312.88,280.92 312.65,280.8 312.41,280.73 312.18,280.7 311.95,280.73 311.71,280.81 311.48,280.93 311.24,281.09 311.01,281.26 310.78,281.45 310.54,281.63 310.31,281.78 310.08,281.9 309.84,281.98 309.61,282 309.38,281.97 309.14,281.89 308.91,281.77 308.68,281.61 308.44,281.43 308.21,281.24 307.97,281.07 307.74,280.91 307.51,280.79 307.27,280.72 307.04,280.7 306.81,280.73 306.57,280.81 306.34,280.94 306.11,281.1 305.87,281.28 305.64,281.46 305.41,281.64 305.17,281.79 304.94,281.91 304.7,281.98" fill="#00ff00" stroke="#00ff00" stroke-width="2.0" stroke-linejoin="round"/></g><g stroke="#9a9a9a" stroke-width="1"><line x1="361.3" y1="316.3" x2="361.3" y2="313.3"/><line x1="361.3" y1="164.5" x2="361.3" y2="167.5"/><line x1="415.3" y1="316.3" x2="415.3" y2="313.3"/><line x1="415.3" y1="164.5" x2="415.3" y2="167.5"/><line x1="307.4" y1="175.2" x2="310.4" y2="175.2"/><line x1="441" y1="175.2" x2="438" y2="175.2"/><line x1="307.4" y1="227.1" x2="310.4" y2="227.1"/><line x1="441" y1="227.1" x2="438" y2="227.1"/><line x1="307.4" y1="278.9" x2="310.4" y2="278.9"/><line x1="441" y1="278.9" x2="438" y2="278.9"/></g><rect x="307.4" y="164.5" width="133.6" height="151.8" fill="none" stroke="#9a9a9a" stroke-width="1"/><g font-family="Liberation Serif" font-size="15.8" fill="#3a3a3a"><text x="307" y="338" text-anchor="middle">9.98</text><text x="361.3" y="338" text-anchor="middle">10.02</text><text x="416" y="338" text-anchor="middle">10.06</text><text x="301" y="181.41" text-anchor="end">300</text><text x="301" y="233.31" text-anchor="end">200</text><text x="301" y="285.11" text-anchor="end">100</text></g>
<clipPath id="c3"><rect x="517.7" y="98.6" width="132.4" height="129.3"/></clipPath><rect x="517.7" y="98.6" width="132.4" height="129.3" fill="#fff"/><g stroke="#666" stroke-width="1" stroke-dasharray="5.2 2.8"><line x1="532.6" y1="98.6" x2="532.6" y2="227.9"/><line x1="580.1" y1="98.6" x2="580.1" y2="227.9"/><line x1="626.8" y1="98.6" x2="626.8" y2="227.9"/><line x1="517.7" y1="133.2" x2="650.1" y2="133.2"/><line x1="517.7" y1="163.5" x2="650.1" y2="163.5"/><line x1="517.7" y1="193.9" x2="650.1" y2="193.9"/><line x1="517.7" y1="224.3" x2="650.1" y2="224.3"/></g><g clip-path="url(#c3)"><polyline points="514.94,133.2 556.15,133.2 556.15,209.1 652.71,209.1" fill="none" stroke="#000" stroke-width="2" stroke-dasharray="5.6 6.3"/><polygon points="514.94,128.35 515.13,127.85 515.33,127.96 515.53,127.05 515.72,126.88 515.92,126.14 516.12,125.81 516.32,125.45 516.51,125.09 516.71,124.61 516.91,125.09 517.1,124.25 517.3,124.49 517.5,124.68 517.69,125.43 517.89,125.66 518.09,126.12 518.28,126.7 518.48,127.27 518.68,127.75 518.87,127.77 519.07,128.73 519.27,128.1 519.46,128.96 519.66,128.1 519.86,128.49 520.05,127.7 520.25,126.84 520.45,126.82 520.65,126.31 520.84,125.56 521.04,124.76 521.24,125.27 521.43,124.26 521.63,124.27 521.83,124.35 522.02,125.16 522.22,125.04 522.42,125.33 522.61,126.23 522.81,126.46 523.01,127.4 523.2,127.23 523.4,128.15 523.6,128.36 523.79,128.79 523.99,128.63 524.19,128.27 524.38,127.89 524.58,128.37 524.78,127.15 524.97,127.16 525.17,126.07 525.37,126.08 525.57,125.12 525.76,124.87 525.96,124.86 526.16,125.09 526.35,124.53 526.55,125.04 526.75,125.2 526.94,125.49 527.14,126.17 527.34,126.47 527.53,126.81 527.73,126.99 527.93,127.45 528.12,128.11 528.32,128.62 528.52,129.06 528.71,128.89 528.91,128.64 529.11,128.67 529.3,127.72 529.5,127.38 529.7,126.72 529.9,126.36 530.09,125.54 530.29,125.25 530.49,125.06 530.68,124.39 530.88,124.68 531.08,124.4 531.27,124.57 531.47,125.02 531.67,124.91 531.86,125.57 532.06,126.27 532.26,127.37 532.45,127.49 532.65,128 532.85,128.55 533.04,128.01 533.24,128.63 533.44,128.14 533.63,128.29 533.83,127.91 534.03,127.6 534.22,127.66 534.42,126.52 534.62,126.7 534.82,125.43 535.01,124.85 535.21,125.21 535.41,124.99 535.6,124.99 535.8,124.96 536,125.22 536.19,124.89 536.39,125.53 536.59,125.68 536.78,126.61 536.98,126.71 537.18,127.53 537.37,127.75 537.57,128.54 537.77,128.63 537.96,129.05 538.16,128.09 538.36,128 538.55,127.65 538.75,127.68 538.95,127.08 539.15,126.8 539.34,125.87 539.54,126.01 539.74,125.64 539.93,124.73 540.13,124.41 540.33,125.01 540.52,124.69 540.72,125.29 540.92,124.85 541.11,125.69 541.31,125.86 541.51,127.18 541.7,127.33 541.9,127.95 542.1,128.52 542.29,128.77 542.49,128.11 542.69,128.17 542.88,128.96 543.08,128.47 543.28,127.91 543.48,127.05 543.67,126.89 543.87,126.75 544.07,125.52 544.26,124.99 544.46,125.19 544.66,125.24 544.85,124.25 545.05,124.87 545.25,125.24 545.44,124.62 545.64,125 545.84,125.95 546.03,125.84 546.23,127.34 546.43,127.14 546.62,127.44 546.82,128.6 547.02,128.57 547.21,128.69 547.41,128.85 547.61,128.04 547.8,128.31 548,127.37 548.2,127.6 548.4,126.64 548.59,126.34 548.79,125.82 548.99,125.18 549.18,125.03 549.38,124.85 549.58,124.69 549.77,124.61 549.97,124.33 550.17,124.91 550.36,125.82 550.56,126.11 550.76,126.25 550.95,127.06 551.15,127.79 551.35,127.81 551.54,128.63 551.74,128.95 551.94,128.17 552.13,128.07 552.33,128.54 552.53,127.99 552.73,127.29 552.92,127.43 553.12,126.71 553.32,125.81 553.51,125.14 553.71,125.26 553.91,124.92 554.1,124.63 554.3,124.38 554.5,125.11 554.69,124.39 554.89,124.91 555.09,125.65 555.28,126.56 555.48,126.25 555.68,127.38 555.87,127.81 556.07,127.61 556.27,129.03 556.46,128.95 556.66,130.39 556.86,130.08 557.05,131.13 557.25,131.02 557.45,130.54 557.65,131.28 557.84,130.59 558.04,131.14 558.24,130.52 558.43,131.52 558.63,131.65 558.83,131.68 559.02,131.9 559.22,132.63 559.42,133.55 559.61,134.63 559.81,134.73 560.01,136.17 560.2,137.11 560.4,138.3 560.6,139.5 560.79,140.25 560.99,140.4 561.19,141.37 561.38,141.38 561.58,142.13 561.78,141.74 561.98,142.3 562.17,141.89 562.37,141.8 562.57,141.74 562.76,141.83 562.96,142.09 563.16,142.07 563.35,142.02 563.55,142.35 563.75,142.96 563.94,143.14 564.14,144.08 564.34,145.02 564.53,145.56 564.73,146.11 564.93,147.05 565.12,148.8 565.32,148.88 565.52,149.73 565.71,150.71 565.91,151.28 566.11,151.7 566.31,151.82 566.5,151.38 566.7,151.45 566.9,151.85 567.09,151.3 567.29,151.53 567.49,150.87 567.68,150.97 567.88,150.72 568.08,151.27 568.27,151.8 568.47,152.25 568.67,152.33 568.86,152.84 569.06,153.73 569.26,154.82 569.45,155.19 569.65,155.82 569.85,157.43 570.04,158.27 570.24,158.34 570.44,159.07 570.63,159.7 570.83,159.39 571.03,159.94 571.23,159.79 571.42,159.08 571.62,159.18 571.82,159.57 572.01,159.01 572.21,158.76 572.41,158.26 572.6,159.07 572.8,159.01 573,159.2 573.19,159.7 573.39,160.03 573.59,160.22 573.78,161.09 573.98,162.34 574.18,163.36 574.37,163.22 574.57,163.97 574.77,164.91 574.96,165.96 575.16,166.15 575.36,166.26 575.56,166.22 575.75,166.42 575.95,165.98 576.15,166.44 576.34,165.45 576.54,165.25 576.74,164.9 576.93,164.8 577.13,164.96 577.33,164.96 577.52,165.05 577.72,165.18 577.92,165.48 578.11,166.36 578.31,167.16 578.51,167.82 578.7,168.82 578.9,169.09 579.1,169.92 579.29,170.74 579.49,171.36 579.69,171.58 579.89,172.17 580.08,172.08 580.28,171.81 580.48,171.81 580.67,172.11 580.87,172.1 581.07,171.13 581.26,170.72 581.46,170.87 581.66,170.88 581.85,170.37 582.05,170.59 582.25,170.15 582.44,171.26 582.64,171.35 582.84,172 583.03,172.21 583.23,173.04 583.43,173.46 583.62,174.66 583.82,175.61 584.02,176.14 584.21,176.62 584.41,176.31 584.61,177.31 584.81,177.17 585,176.95 585.2,176.93 585.4,176.26 585.59,176.41 585.79,175.78 585.99,175.43 586.18,175.06 586.38,175.17 586.58,174.57 586.77,175.01 586.97,174.82 587.17,175.19 587.36,175.52 587.56,175.84 587.76,177.12 587.95,177.2 588.15,178.72 588.35,179.02 588.54,179.61 588.74,180.54 588.94,180.45 589.14,180.61 589.33,181.45 589.53,181.25 589.73,180.76 589.92,181.09 590.12,180.63 590.32,179.73 590.51,179.99 590.71,179.96 590.91,179.18 591.1,179.39 591.3,179.17 591.5,179.16 591.69,178.69 591.89,178.83 592.09,179.39 592.28,179.86 592.48,180.91 592.68,181.9 592.87,182.3 593.07,183.16 593.27,183.62 593.46,183.62 593.66,184.71 593.86,184.33 594.06,184.79 594.25,184.89 594.45,184.33 594.65,184.33 594.84,184.2 595.04,182.96 595.24,182.64 595.43,182.26 595.63,182.08 595.83,182.39 596.02,181.94 596.22,182.11 596.42,182.24 596.61,182.49 596.81,183.14 597.01,183.67 597.2,184.34 597.4,184.58 597.6,184.96 597.79,186.36 597.99,186.21 598.19,187.28 598.39,187.65 598.58,187.32 598.78,187.76 598.98,187.25 599.17,187.13 599.37,186.65 599.57,186.76 599.76,186.3 599.96,185.23 600.16,185.13 600.35,185.49 600.55,184.39 600.75,184.4 600.94,184.81 601.14,184.76 601.34,184.98 601.53,186.15 601.73,186.01 601.93,186.49 602.12,187.65 602.32,188.18 602.52,188.95 602.72,189.61 602.91,189.28 603.11,190.06 603.31,189.55 603.5,189.76 603.7,190.21 603.9,189.82 604.09,189 604.29,188.69 604.49,188.41 604.68,187.62 604.88,187.24 605.08,187.63 605.27,186.96 605.47,186.57 605.67,186.81 605.86,187.58 606.06,187.92 606.26,187.75 606.45,188.25 606.65,189.11 606.85,189.87 607.04,190.81 607.24,191.42 607.44,191.53 607.64,191.47 607.83,191.73 608.03,192.2 608.23,192.28 608.42,192.14 608.62,191.86 608.82,191.26 609.01,190.88 609.21,190.46 609.41,189.45 609.6,189.69 609.8,189.29 610,189.21 610.19,188.94 610.39,189.32 610.59,189.32 610.78,189.77 610.98,189.86 611.18,191.09 611.37,191.67 611.57,191.66 611.77,191.96 611.97,193.09 612.16,193.39 612.36,193.83 612.56,194.22 612.75,193.4 612.95,194.09 613.15,193.67 613.34,193.49 613.54,193.03 613.74,192.54 613.93,191.74 614.13,191.65 614.33,191.45 614.52,190.97 614.72,190.5 614.92,190.6 615.11,190.49 615.31,191.35 615.51,191.58 615.7,191.96 615.9,191.94 616.1,193.49 616.3,193.57 616.49,193.9 616.69,194.14 616.89,195.27 617.08,194.97 617.28,195.19 617.48,195.73 617.67,195.28 617.87,194.32 618.07,194.04 618.26,193.74 618.46,193.69 618.66,193.26 618.85,192.66 619.05,192.63 619.25,192.14 619.44,191.79 619.64,191.81 619.84,192.22 620.03,192.2 620.23,192.38 620.43,193.32 620.62,194.32 620.82,194.76 621.02,194.89 621.22,196.07 621.41,195.9 621.61,196.09 621.81,196.33 622,196.38 622.2,196.86 622.4,195.94 622.59,196.15 622.79,195.86 622.99,195.14 623.18,194.84 623.38,193.66 623.58,193.46 623.77,193.28 623.97,193.21 624.17,193.49 624.36,192.94 624.56,192.98 624.76,194.12 624.95,193.99 625.15,195.01 625.35,195.7 625.55,195.35 625.74,196.33 625.94,196.56 626.14,197.37 626.33,197.09 626.53,197.19 626.73,197.2 626.92,197.84 627.12,197.5 627.32,196.98 627.51,196.71 627.71,195.46 627.91,195.14 628.1,195.22 628.3,194.17 628.5,193.93 628.69,194.29 628.89,194.05 629.09,194.55 629.28,194.6 629.48,194.33 629.68,195.51 629.87,195.84 630.07,196.57 630.27,196.65 630.47,197.11 630.66,197.87 630.86,198.41 631.06,198.43 631.25,198.59 631.45,198.46 631.65,198.65 631.84,198.25 632.04,197.19 632.24,196.92 632.43,196.6 632.63,196.62 632.83,195.55 633.02,195.74 633.22,195.18 633.42,194.78 633.61,195.21 633.81,194.69 634.01,195.23 634.2,195.66 634.4,196.57 634.6,196.98 634.8,197.14 634.99,197.52 635.19,197.99 635.39,198.36 635.58,198.95 635.78,199.4 635.98,198.78 636.17,199.41 636.37,198.72 636.57,198.78 636.76,198.62 636.96,197.72 637.16,196.96 637.35,197.17 637.55,196.35 637.75,196.39 637.94,196 638.14,195.26 638.34,195.16 638.53,195.38 638.73,195.77 638.93,196.8 639.13,197.47 639.32,197.18 639.52,198.4 639.72,198.92 639.91,199.4 640.11,199.02 640.31,199.97 640.5,200.14 640.7,199.65 640.9,200.07 641.09,199.11 641.29,198.62 641.49,198.38 641.68,198.35 641.88,197.32 642.08,197.29 642.27,196.25 642.47,196.82 642.67,196.25 642.86,196.59 643.06,196.25 643.26,196.44 643.45,196.83 643.65,197.05 643.85,197.45 644.05,198.52 644.24,198.77 644.44,198.95 644.64,200.02 644.83,200 645.03,200.8 645.23,200.57 645.42,199.98 645.62,200.08 645.82,200.03 646.01,199.53 646.21,198.62 646.41,198.56 646.6,197.67 646.8,197.72 647,197.3 647.19,196.83 647.39,196.83 647.59,196.25 647.78,196.29 647.98,197.06 648.18,197.31 648.38,198.21 648.57,198.37 648.77,198.53 648.97,199.88 649.16,199.64 649.36,200.07 649.56,200.86 649.75,200.89 649.95,200.79 650.15,200.27 650.34,200.06 650.54,200.5 650.74,199.56 650.93,199.29 651.13,198.37 651.33,198.16 651.52,197.79 651.72,197.95 651.92,196.88 652.11,197.13 652.31,197.37 652.51,197.29 652.71,198.01 652.71,210.74 652.51,210.68 652.31,210.82 652.11,212.14 651.92,211.76 651.72,212.24 651.52,213.04 651.33,213.17 651.13,214.07 650.93,213.62 650.74,214.17 650.54,213.68 650.34,213.48 650.15,213.43 649.95,213.23 649.75,213.02 649.56,212.46 649.36,211.4 649.16,210.62 648.97,210.39 648.77,210.61 648.57,210.3 648.38,209.51 648.18,210.17 647.98,209.78 647.78,210.65 647.59,211.21 647.39,211.82 647.19,212.19 647,212.18 646.8,213.11 646.6,212.85 646.41,213.63 646.21,214.18 646.01,213.95 645.82,213.83 645.62,213.7 645.42,213.01 645.23,212.32 645.03,212.05 644.83,211.06 644.64,211.14 644.44,210.39 644.24,210.31 644.05,210.05 643.85,209.31 643.65,209.36 643.45,209.48 643.26,209.34 643.06,210.42 642.86,210.74 642.67,211.23 642.47,211.44 642.27,212.41 642.08,212.7 641.88,212.39 641.68,213.27 641.49,213.45 641.29,213.12 641.09,213.21 640.9,212.88 640.7,211.98 640.5,211.48 640.31,211.25 640.11,210.28 639.91,209.99 639.72,209.73 639.52,208.9 639.32,208.92 639.13,208.57 638.93,208.7 638.73,209.48 638.53,209.02 638.34,209.75 638.14,209.89 637.94,210.89 637.75,211.39 637.55,211.19 637.35,211.66 637.16,212.25 636.96,212.07 636.76,212.73 636.57,212.14 636.37,212.04 636.17,212.32 635.98,211.83 635.78,210.81 635.58,210.17 635.39,210.03 635.19,209.33 634.99,208.74 634.8,208.06 634.6,208 634.4,208.64 634.2,208.5 634.01,208.3 633.81,209.06 633.61,208.96 633.42,209.98 633.22,210.56 633.02,210.25 632.83,211.24 632.63,211.65 632.43,211.48 632.24,211.68 632.04,211.6 631.84,211.89 631.65,211.46 631.45,211.25 631.25,210.55 631.06,210.14 630.86,209.2 630.66,209.31 630.47,207.94 630.27,208.02 630.07,207.72 629.87,207.48 629.68,207.45 629.48,207.9 629.28,207.85 629.09,208.18 628.89,208.18 628.69,208.67 628.5,209.59 628.3,210.05 628.1,209.87 627.91,211.08 627.71,211.34 627.51,210.57 627.32,210.75 627.12,211.11 626.92,210.01 626.73,210.34 626.53,209.16 626.33,208.82 626.14,208.07 625.94,207.84 625.74,206.89 625.55,206.72 625.35,206.48 625.15,207 624.95,206.9 624.76,206.24 624.56,207.21 624.36,206.89 624.17,207.41 623.97,208.19 623.77,208.54 623.58,209.15 623.38,209.42 623.18,209.91 622.99,210.21 622.79,209.58 622.59,209.89 622.4,210.14 622.2,209.49 622,209 621.81,208.24 621.61,208.2 621.41,207.65 621.22,206.74 621.02,206.19 620.82,206.07 620.62,205.14 620.43,205.02 620.23,204.94 620.03,205.52 619.84,205.45 619.64,206.42 619.44,206.25 619.25,207.28 619.05,207.85 618.85,207.57 618.66,208.17 618.46,208.3 618.26,209.2 618.07,209.07 617.87,208.36 617.67,207.93 617.48,207.97 617.28,207.39 617.08,207.31 616.89,206.67 616.69,206.02 616.49,205.51 616.3,204.3 616.1,204.08 615.9,204.09 615.7,204.22 615.51,204.1 615.31,204.47 615.11,204.91 614.92,204.66 614.72,205.39 614.52,206.02 614.33,206.38 614.13,207.2 613.93,207.43 613.74,207.43 613.54,207.07 613.34,206.84 613.15,207.43 612.95,206.55 612.75,206.63 612.56,205.91 612.36,205 612.16,204.6 611.97,203.64 611.77,203.94 611.57,203.12 611.37,202.97 611.18,202.4 610.98,202.2 610.78,202.31 610.59,202.51 610.39,202.64 610.19,203.43 610,203.73 609.8,204.4 609.6,204.3 609.41,204.95 609.21,205.51 609.01,205.49 608.82,205.36 608.62,205.51 608.42,204.84 608.23,204.96 608.03,204.23 607.83,203.54 607.64,203.06 607.44,202.66 607.24,202.45 607.04,201.21 606.85,201.58 606.65,201.05 606.45,200.61 606.26,200.47 606.06,200.22 605.86,200.6 605.67,200.8 605.47,202.12 605.27,202.55 605.08,203.02 604.88,202.75 604.68,203.6 604.49,203.66 604.29,203.57 604.09,203.69 603.9,203.67 603.7,203.16 603.5,202.64 603.31,202.07 603.11,201.87 602.91,200.63 602.72,200.43 602.52,199.86 602.32,199.05 602.12,198.42 601.93,198.57 601.73,198.51 601.53,198.35 601.34,198.34 601.14,198.78 600.94,198.65 600.75,199.86 600.55,199.63 600.35,200.04 600.16,200.75 599.96,201.45 599.76,201.16 599.57,201.08 599.37,201.11 599.17,200.82 598.98,200.9 598.78,200.01 598.58,199.51 598.39,198.56 598.19,198.21 597.99,197.85 597.79,197.39 597.6,196.57 597.4,195.74 597.2,195.93 597.01,196.19 596.81,195.39 596.61,195.84 596.42,196.22 596.22,196.97 596.02,197.01 595.83,197.49 595.63,197.33 595.43,198.4 595.24,198.59 595.04,198.34 594.84,197.89 594.65,198.25 594.45,198.21 594.25,197.45 594.06,197.31 593.86,196.69 593.66,196.16 593.46,195.45 593.27,194.51 593.07,194.15 592.87,193.24 592.68,192.77 592.48,192.95 592.28,192.82 592.09,192.87 591.89,192.91 591.69,193 591.5,193.4 591.3,193.34 591.1,194.16 590.91,194.03 590.71,194.95 590.51,195.08 590.32,194.69 590.12,194.46 589.92,194.39 589.73,193.9 589.53,193.94 589.33,193.19 589.14,193.1 588.94,191.76 588.74,191.37 588.54,190.18 588.35,189.98 588.15,189.47 587.95,189.2 587.76,189 587.56,188.5 587.36,189.1 587.17,189.44 586.97,189.08 586.77,190.03 586.58,190.05 586.38,190.24 586.18,190.86 585.99,191.26 585.79,191.12 585.59,191.4 585.4,191.25 585.2,190.36 585,189.8 584.81,189.55 584.61,189.1 584.41,188.76 584.21,187.09 584.02,187.3 583.82,186.66 583.62,185.63 583.43,184.77 583.23,184.55 583.03,184.45 582.84,184.87 582.64,184.15 582.44,184.6 582.25,184.84 582.05,185.22 581.85,185.71 581.66,186.08 581.46,185.9 581.26,186.48 581.07,186.03 580.87,185.99 580.67,185.87 580.48,185.34 580.28,184.81 580.08,184.14 579.89,184.01 579.69,183.17 579.49,182.15 579.29,181.54 579.1,180.73 578.9,180.18 578.7,179.69 578.51,179.41 578.31,178.88 578.11,179.12 577.92,178.95 577.72,179.93 577.52,179.73 577.33,179.9 577.13,180.52 576.93,180.27 576.74,180.84 576.54,181.16 576.34,181.17 576.15,180.5 575.95,180.26 575.75,179.44 575.56,179.25 575.36,179 575.16,177.73 574.96,177.03 574.77,176.09 574.57,175.89 574.37,174.57 574.18,173.7 573.98,173.46 573.78,173.68 573.59,172.95 573.39,173.21 573.19,173.39 573,173.26 572.8,173.87 572.6,173.98 572.41,174.14 572.21,174.3 572.01,173.73 571.82,173.86 571.62,174.02 571.42,174.18 571.23,172.95 571.03,172.98 570.83,171.68 570.63,171.82 570.44,170.63 570.24,169.68 570.04,169.06 569.85,167.69 569.65,167.74 569.45,167.21 569.26,166.16 569.06,166.39 568.86,165.29 568.67,165.23 568.47,165.42 568.27,166.16 568.08,165.76 567.88,165.82 567.68,166.25 567.49,166.55 567.29,165.96 567.09,166.34 566.9,166.26 566.7,165.28 566.5,165.11 566.31,164.9 566.11,163.86 565.91,162.74 565.71,162.19 565.52,161.48 565.32,160.64 565.12,159.6 564.93,159.19 564.73,157.91 564.53,157.6 564.34,157.16 564.14,156.94 563.94,157.16 563.75,156.43 563.55,156.54 563.35,157.13 563.16,157.2 562.96,156.71 562.76,157.55 562.57,156.69 562.37,157.18 562.17,157.04 561.98,155.66 561.78,155.46 561.58,154.47 561.38,153.81 561.19,152.92 560.99,152.15 560.79,151 560.6,150.1 560.4,148.85 560.2,147.97 560.01,148.15 559.81,147.53 559.61,147.03 559.42,146.63 559.22,145.87 559.02,145.91 558.83,145.95 558.63,145.91 558.43,146.45 558.24,146.38 558.04,145.74 557.84,146.41 557.65,145.57 557.45,145.23 557.25,144.97 557.05,144.29 556.86,143.27 556.66,142.15 556.46,140.7 556.27,140.12 556.07,139.13 555.87,138.7 555.68,138.4 555.48,137.54 555.28,138.1 555.09,137.78 554.89,138.04 554.69,138.01 554.5,138.49 554.3,138.92 554.1,139.47 553.91,140.4 553.71,140.92 553.51,141.11 553.32,141.11 553.12,141.23 552.92,141.96 552.73,141.65 552.53,141.84 552.33,141.24 552.13,141.39 551.94,140.71 551.74,139.81 551.54,139.94 551.35,138.78 551.15,138.57 550.95,137.92 550.76,137.95 550.56,137.6 550.36,137.79 550.17,138.07 549.97,138.26 549.77,138.85 549.58,138.92 549.38,139.3 549.18,140.63 548.99,140.58 548.79,141.45 548.59,141.19 548.4,142.15 548.2,141.84 548,141.51 547.8,141.17 547.61,141.02 547.41,140.92 547.21,140.54 547.02,139.41 546.82,139.44 546.62,139.17 546.43,138.81 546.23,137.87 546.03,137.4 545.84,138.16 545.64,137.97 545.44,137.76 545.25,138.46 545.05,138.74 544.85,139.55 544.66,140.14 544.46,140.77 544.26,140.56 544.07,140.82 543.87,141.73 543.67,141.56 543.48,141.88 543.28,141.76 543.08,141.05 542.88,141.04 542.69,140.65 542.49,139.85 542.29,139.47 542.1,138.94 541.9,138.66 541.7,137.92 541.51,137.54 541.31,137.63 541.11,138.09 540.92,137.86 540.72,138.08 540.52,138.94 540.33,138.55 540.13,139.66 539.93,139.89 539.74,140.03 539.54,141.35 539.34,141.66 539.15,141.65 538.95,141.41 538.75,141.75 538.55,141.69 538.36,141.17 538.16,141.43 537.96,140.71 537.77,140.47 537.57,139.58 537.37,139.48 537.18,138.21 536.98,138.2 536.78,138.32 536.59,138.19 536.39,137.37 536.19,137.61 536,138.2 535.8,138.57 535.6,138.92 535.41,139.19 535.21,140.32 535.01,140.53 534.82,141.36 534.62,141.04 534.42,141.66 534.22,141.51 534.03,141.55 533.83,142.03 533.63,141.47 533.44,141.18 533.24,140.54 533.04,140.4 532.85,139.25 532.65,139.01 532.45,138.94 532.26,138.07 532.06,137.78 531.86,137.67 531.67,137.48 531.47,138.32 531.27,138.57 531.08,138.59 530.88,139.69 530.68,139.26 530.49,140.15 530.29,140.76 530.09,141.13 529.9,141.09 529.7,141.33 529.5,141.83 529.3,141.26 529.11,141.48 528.91,141.21 528.71,140.56 528.52,140.8 528.32,140 528.12,139.18 527.93,138.98 527.73,138.64 527.53,137.98 527.34,137.57 527.14,138.27 526.94,138.03 526.75,138.15 526.55,138.93 526.35,138.92 526.16,139.27 525.96,139.74 525.76,140.51 525.57,141.17 525.37,141.4 525.17,141.19 524.97,141.79 524.78,141.51 524.58,141.84 524.38,141.3 524.19,140.74 523.99,140.32 523.79,139.85 523.6,139.97 523.4,139.24 523.2,138.41 523.01,137.93 522.81,137.57 522.61,137.56 522.42,137.89 522.22,138.38 522.02,138.53 521.83,138.93 521.63,138.87 521.43,139.81 521.24,140.47 521.04,140.91 520.84,140.6 520.65,141.52 520.45,141.83 520.25,141.61 520.05,141.84 519.86,141.25 519.66,141.67 519.46,140.92 519.27,140.23 519.07,139.98 518.87,139.79 518.68,138.77 518.48,138.42 518.28,137.89 518.09,137.41 517.89,137.69 517.69,137.34 517.5,137.53 517.3,138.46 517.1,138.31 516.91,139.47 516.71,139.2 516.51,140.51 516.32,140.86 516.12,141.57 515.92,141.53 515.72,141.27 515.53,141.56 515.33,142.18 515.13,141.92 514.94,141.01" fill="#ff0000" stroke="#ff0000" stroke-width="1.0" stroke-linejoin="round"/><polygon points="514.94,128.72 515.13,128.46 515.33,128.19 515.53,127.51 515.72,128.15 515.92,127.06 516.12,126.88 516.32,125.81 516.51,125.08 516.71,124.42 516.91,124.28 517.1,124.75 517.3,124.85 517.5,125.02 517.69,124.84 517.89,125.59 518.09,125.93 518.28,126.36 518.48,126.91 518.68,126.63 518.87,127.76 519.07,127.67 519.27,128.93 519.46,128.94 519.66,128.8 519.86,128.39 520.05,127.8 520.25,127.62 520.45,127.9 520.65,127.34 520.84,126.81 521.04,126.05 521.24,124.99 521.43,124.66 521.63,124.04 521.83,124.24 522.02,124.46 522.22,125.13 522.42,125.35 522.61,125.22 522.81,125.3 523.01,126.18 523.2,127.26 523.4,127.52 523.6,127.33 523.79,127.64 523.99,129.02 524.19,128.15 524.38,128.05 524.58,128.1 524.78,128.31 524.97,127.16 525.17,127.36 525.37,126.63 525.57,125.99 525.76,125.44 525.96,124.97 526.16,125.16 526.35,124.52 526.55,124.82 526.75,124.1 526.94,124.59 527.14,125.46 527.34,125.21 527.53,125.35 527.73,126.39 527.93,127.37 528.12,127.07 528.32,128.5 528.52,127.98 528.71,128.3 528.91,128.02 529.11,128.32 529.3,127.88 529.5,128.5 529.7,127.97 529.9,127.08 530.09,126.1 530.29,126.28 530.49,125.04 530.68,124.51 530.88,125 531.08,125.03 531.27,124.05 531.47,124.1 531.67,124.8 531.86,125.35 532.06,125.25 532.26,126.52 532.45,126.52 532.65,127.38 532.85,128 533.04,128.58 533.24,128.46 533.44,128.91 533.63,128.12 533.83,127.98 534.03,128.79 534.22,128.45 534.42,127.75 534.62,126.6 534.82,126.67 535.01,125.38 535.21,125.05 535.41,125.37 535.6,124.91 535.8,124.36 536,124.32 536.19,124.86 536.39,124.53 536.59,124.81 536.78,125.84 536.98,125.95 537.18,126.97 537.37,127.56 537.57,127.3 537.77,128.06 537.96,128.28 538.16,128.61 538.36,128.06 538.55,128.71 538.75,128.05 538.95,127.2 539.15,126.72 539.34,126.79 539.54,126.24 539.74,125.12 539.93,125.66 540.13,125 540.33,124.59 540.52,124.58 540.72,124.64 540.92,124.13 541.11,124.66 541.31,125.64 541.51,126.09 541.7,126.35 541.9,126.35 542.1,127.49 542.29,127.68 542.49,128.52 542.69,128.7 542.88,128.44 543.08,128.54 543.28,128.1 543.48,127.93 543.67,127.23 543.87,127.14 544.07,126.49 544.26,125.9 544.46,125.03 544.66,125.17 544.85,124.15 545.05,124.29 545.25,124.01 545.44,124.19 545.64,124.89 545.84,125.3 546.03,124.93 546.23,125.92 546.43,127.02 546.62,127.46 546.82,127.74 547.02,128.39 547.21,128.28 547.41,128.38 547.61,128.83 547.8,127.98 548,128.81 548.2,127.7 548.4,127.34 548.59,127.55 548.79,126.09 548.99,125.81 549.18,125.58 549.38,124.43 549.58,124.16 549.77,124.01 549.97,124.24 550.17,125.07 550.36,124.66 550.56,124.68 550.76,126.04 550.95,125.68 551.15,127.15 551.35,127.52 551.54,127.84 551.74,128.39 551.94,128.19 552.13,128.85 552.33,128.73 552.53,128.26 552.73,128.76 552.92,127.48 553.12,127.25 553.32,126.58 553.51,126.83 553.71,126.14 553.91,125.14 554.1,125.4 554.3,124.8 554.5,124.92 554.69,124.46 554.89,123.98 555.09,124.68 555.28,125.85 555.48,129.59 555.68,133.48 555.87,138.21 556.07,142.11 556.27,146.39 556.46,149.54 556.66,153.21 556.86,155.79 557.05,158.77 557.25,160.65 557.45,162.8 557.65,164.65 557.84,166.97 558.04,167.77 558.24,169.18 558.43,169.98 558.63,172.29 558.83,173.49 559.02,174.89 559.22,175.89 559.42,176.93 559.61,178.91 559.81,180.28 560.01,181.57 560.2,182.99 560.4,184.66 560.6,186.37 560.79,188.12 560.99,189.25 561.19,190.19 561.38,191.34 561.58,192.05 561.78,192.78 561.98,193.04 562.17,192.86 562.37,193.73 562.57,193.45 562.76,193.7 562.96,193.74 563.16,193.37 563.35,192.93 563.55,193.01 563.75,193.25 563.94,193.13 564.14,194.44 564.34,194.81 564.53,195.62 564.73,195.9 564.93,196.5 565.12,198.07 565.32,198.36 565.52,198.77 565.71,199.61 565.91,199.91 566.11,200.44 566.31,201.15 566.5,201.21 566.7,200.67 566.9,201.01 567.09,200.37 567.29,199.93 567.49,198.86 567.68,199.17 567.88,199.14 568.08,198.47 568.27,198.32 568.47,198.2 568.67,197.75 568.86,198.19 569.06,198.22 569.26,198.96 569.45,200.32 569.65,200.14 569.85,201.18 570.04,201.81 570.24,201.59 570.44,202.85 570.63,202.36 570.83,202.56 571.03,203.34 571.23,202.88 571.42,202.24 571.62,202.82 571.82,202.21 572.01,201.5 572.21,201.07 572.41,200.26 572.6,199.71 572.8,199.82 573,199.19 573.19,199.18 573.39,199.18 573.59,199.18 573.78,199.63 573.98,200.66 574.18,200.84 574.37,201.59 574.57,201.65 574.77,202.28 574.96,203.46 575.16,203.7 575.36,203.54 575.56,203.64 575.75,203.15 575.95,203.08 576.15,202.89 576.34,202.16 576.54,202.22 576.74,201.92 576.93,200.83 577.13,200.73 577.33,200.7 577.52,199.84 577.72,199.14 577.92,199.92 578.11,199.2 578.31,199.87 578.51,200.16 578.7,201.17 578.9,201.29 579.1,201.74 579.29,202.6 579.49,202.56 579.69,203.34 579.89,203.03 580.08,203.73 580.28,204.26 580.48,204.02 580.67,203.64 580.87,202.6 581.07,202.27 581.26,201.81 581.46,201.16 581.66,201.1 581.85,200.52 582.05,200.19 582.25,199.37 582.44,199.28 582.64,199.28 582.84,199.4 583.03,200.52 583.23,199.94 583.43,200.43 583.62,201.78 583.82,202.49 584.02,202.83 584.21,203.52 584.41,203.37 584.61,204.14 584.81,203.57 585,203.5 585.2,204.23 585.4,203.25 585.59,203.26 585.79,202.07 585.99,201.75 586.18,201.35 586.38,200.64 586.58,200.93 586.77,200.42 586.97,199.55 587.17,199.61 587.36,199.79 587.56,200.41 587.76,200.43 587.95,200.8 588.15,201.33 588.35,201.29 588.54,201.69 588.74,202.26 588.94,203.09 589.14,203.83 589.33,203.41 589.53,204.02 589.73,204.31 589.92,203.07 590.12,203.55 590.32,203.26 590.51,202.54 590.71,201.39 590.91,201.49 591.1,200.37 591.3,200.09 591.5,199.72 591.69,199.77 591.89,199.46 592.09,200.03 592.28,200.51 592.48,200.62 592.68,200.21 592.87,201.46 593.07,202 593.27,202.24 593.46,203.29 593.66,203.25 593.86,204.22 594.06,203.97 594.25,204.37 594.45,203.34 594.65,203.2 594.84,203.43 595.04,203.24 595.24,202.41 595.43,202.03 595.63,201.51 595.83,200.86 596.02,200.06 596.22,199.74 596.42,199.68 596.61,199.67 596.81,200.09 597.01,200.59 597.2,200.6 597.4,200.55 597.6,201.5 597.79,201.62 597.99,202.94 598.19,202.72 598.39,203.89 598.58,203.69 598.78,203.79 598.98,203.41 599.17,203.69 599.37,203.41 599.57,202.57 599.76,202.9 599.96,201.84 600.16,201.28 600.35,201.27 600.55,200.91 600.75,200.18 600.94,199.4 601.14,199.26 601.34,199.18 601.53,200.47 601.73,200.24 601.93,200.12 602.12,200.92 602.32,201.95 602.52,201.79 602.72,203.2 602.91,202.98 603.11,204.13 603.31,204.01 603.5,203.92 603.7,203.37 603.9,203.45 604.09,203.61 604.29,202.52 604.49,202.67 604.68,202.18 604.88,201.03 605.08,201.18 605.27,200.84 605.47,200.55 605.67,200.35 605.86,200.03 606.06,199.7 606.26,200.32 606.45,200.77 606.65,200.75 606.85,200.84 607.04,201.24 607.24,202.48 607.44,203.21 607.64,203.51 607.83,203.42 608.03,203.42 608.23,203.46 608.42,203.66 608.62,204.03 608.82,203.79 609.01,202.66 609.21,202.58 609.41,201.51 609.6,201.58 609.8,201.13 610,200.35 610.19,199.78 610.39,200 610.59,199.95 610.78,199.31 610.98,200.58 611.18,200.79 611.37,200.55 611.57,201.32 611.77,201.42 611.97,202.25 612.16,203.29 612.36,203.29 612.56,203.95 612.75,203.69 612.95,203.57 613.15,204.05 613.34,202.96 613.54,203.19 613.74,202.5 613.93,201.94 614.13,201.99 614.33,201.49 614.52,200.59 614.72,200.02 614.92,200.31 615.11,199.18 615.31,200.17 615.51,200.17 615.7,199.94 615.9,200.63 616.1,200.63 616.3,201.8 616.49,202.09 616.69,202.19 616.89,202.93 617.08,203.26 617.28,203.49 617.48,204.14 617.67,203.76 617.87,204.06 618.07,203.65 618.26,202.9 618.46,202.14 618.66,201.88 618.85,201.74 619.05,201.43 619.25,200.27 619.44,199.49 619.64,199.37 619.84,199.42 620.03,199.7 620.23,199.54 620.43,200.41 620.62,201.26 620.82,200.86 621.02,201.58 621.22,202.78 621.41,202.9 621.61,202.97 621.81,203.53 622,204.15 622.2,203.38 622.4,204.2 622.59,203.48 622.79,202.72 622.99,203.05 623.18,202.21 623.38,201.47 623.58,201.02 623.77,200.57 623.97,200.78 624.17,200.54 624.36,199.71 624.56,200.13 624.76,200 624.95,200.07 625.15,200.88 625.35,201.38 625.55,201.17 625.74,202.43 625.94,202.85 626.14,203.1 626.33,203.77 626.53,203.86 626.73,204.17 626.92,203.67 627.12,204.1 627.32,203.92 627.51,203 627.71,203.16 627.91,202.06 628.1,201.04 628.3,201.44 628.5,200.52 628.69,199.58 628.89,199.57 629.09,199.54 629.28,200.18 629.48,199.38 629.68,200.52 629.87,200.44 630.07,200.52 630.27,202 630.47,201.87 630.66,202.71 630.86,203.27 631.06,204.06 631.25,203.51 631.45,203.63 631.65,203.3 631.84,203.44 632.04,203.79 632.24,202.43 632.43,202.93 632.63,202.1 632.83,201.8 633.02,200.71 633.22,200.39 633.42,200.26 633.61,199.99 633.81,199.58 634.01,199.29 634.2,200.14 634.4,200.03 634.6,200.9 634.8,201.28 634.99,201.97 635.19,202.82 635.39,203.22 635.58,203.49 635.78,203.82 635.98,203.7 636.17,203.82 636.37,204.09 636.57,204.1 636.76,203.76 636.96,202.41 637.16,202.04 637.35,201.44 637.55,201.53 637.75,200.3 637.94,200.4 638.14,200.22 638.34,200.28 638.53,199.88 638.73,199.79 638.93,199.47 639.13,200.55 639.32,200.81 639.52,201.82 639.72,201.44 639.91,202.73 640.11,203.51 640.31,202.93 640.5,203.65 640.7,204.19 640.9,204.45 641.09,203.52 641.29,203.22 641.49,202.9 641.68,202.67 641.88,202.57 642.08,202.14 642.27,200.52 642.47,200.88 642.67,200.74 642.86,200.1 643.06,199.6 643.26,199.58 643.45,199.61 643.65,200.14 643.85,200.65 644.05,200.87 644.24,201.86 644.44,201.97 644.64,202.34 644.83,203.64 645.03,203.5 645.23,203.54 645.42,203.78 645.62,203.94 645.82,203.81 646.01,203.31 646.21,202.88 646.41,201.97 646.6,202.04 646.8,201.7 647,200.48 647.19,199.9 647.39,200.09 647.59,200.25 647.78,199.51 647.98,200.05 648.18,200.16 648.38,200.5 648.57,200.91 648.77,201.21 648.97,202.18 649.16,202.29 649.36,202.26 649.56,203.71 649.75,203.89 649.95,204.05 650.15,204.01 650.34,203.28 650.54,203.68 650.74,203.1 650.93,203.19 651.13,201.88 651.33,202 651.52,201.61 651.72,200.61 651.92,199.9 652.11,200.16 652.31,199.97 652.51,200.26 652.71,200.27 652.71,214.06 652.51,214.38 652.31,214.42 652.11,215.1 651.92,216.08 651.72,216.55 651.52,217.11 651.33,217.01 651.13,216.95 650.93,216.89 650.74,217.2 650.54,216.55 650.34,216.87 650.15,216.31 649.95,215.18 649.75,214.59 649.56,214.05 649.36,213.96 649.16,213.57 648.97,213.82 648.77,213.01 648.57,213.11 648.38,213.3 648.18,214.17 647.98,213.94 647.78,214.4 647.59,214.92 647.39,216.14 647.19,216.55 647,216.83 646.8,216.42 646.6,217.16 646.41,217.61 646.21,217.04 646.01,216.64 645.82,216.98 645.62,216.6 645.42,216.22 645.23,215.43 645.03,214.9 644.83,213.97 644.64,213.69 644.44,213.85 644.24,213.08 644.05,212.77 643.85,212.69 643.65,213.84 643.45,213.32 643.26,214.44 643.06,214.13 642.86,214.91 642.67,216.33 642.47,216.32 642.27,216.62 642.08,216.62 641.88,217.76 641.68,216.99 641.49,217.1 641.29,217.25 641.09,217.02 640.9,215.83 640.7,215.36 640.5,214.97 640.31,214.55 640.11,213.98 639.91,214.11 639.72,213.86 639.52,212.99 639.32,213.04 639.13,213.36 638.93,213.7 638.73,213.57 638.53,214.68 638.34,215.2 638.14,215.43 637.94,215.41 637.75,215.86 637.55,217.03 637.35,217.37 637.16,217.19 636.96,217.39 636.76,216.73 636.57,216.68 636.37,216.08 636.17,215.98 635.98,216.02 635.78,215.17 635.58,214.25 635.39,213.53 635.19,213.82 634.99,212.78 634.8,213.14 634.6,212.71 634.4,212.69 634.2,213.6 634.01,213.96 633.81,214.76 633.61,214.4 633.42,215.94 633.22,215.69 633.02,216.53 632.83,216.95 632.63,217.08 632.43,217.44 632.24,217.36 632.04,217.44 631.84,217.07 631.65,216.73 631.45,215.52 631.25,214.84 631.06,214.27 630.86,214.41 630.66,213.45 630.47,213.39 630.27,212.65 630.07,212.5 629.87,212.58 629.68,213.3 629.48,213.08 629.28,213.99 629.09,214.73 628.89,215.28 628.69,215.59 628.5,216.59 628.3,216.78 628.1,217.47 627.91,217.22 627.71,217.5 627.51,217.76 627.32,217.24 627.12,216.87 626.92,216.8 626.73,215.73 626.53,214.91 626.33,214.76 626.14,213.66 625.94,213.74 625.74,213.57 625.55,213.21 625.35,213.17 625.15,213.03 624.95,213.15 624.76,213.4 624.56,214.09 624.36,214.61 624.17,215.13 623.97,216.1 623.77,216.18 623.58,216.85 623.38,217.12 623.18,217.69 622.99,216.82 622.79,217.34 622.59,217.08 622.4,216.45 622.2,215.89 622,215.5 621.81,215.44 621.61,214.26 621.41,214.1 621.22,213.07 621.02,213.25 620.82,212.85 620.62,212.64 620.43,212.75 620.23,213.73 620.03,213.67 619.84,214.26 619.64,215.04 619.44,215.94 619.25,216.07 619.05,215.91 618.85,216.93 618.66,217.61 618.46,217.58 618.26,216.7 618.07,217.09 617.87,216.51 617.67,215.87 617.48,216.4 617.28,215.63 617.08,214.43 616.89,214.51 616.69,213.98 616.49,213.79 616.3,213.69 616.1,212.91 615.9,213.63 615.7,213.55 615.51,213.5 615.31,214.18 615.11,214.2 614.92,214.9 614.72,215.82 614.52,216.24 614.33,216.15 614.13,216.46 613.93,216.83 613.74,217.36 613.54,216.91 613.34,216.84 613.15,216.69 612.95,216.17 612.75,215.74 612.56,214.93 612.36,214.54 612.16,213.83 611.97,214.15 611.77,212.77 611.57,213.27 611.37,212.51 611.18,213.07 610.98,213.04 610.78,213.18 610.59,214.66 610.39,214.66 610.19,215.17 610,215.72 609.8,216.54 609.6,216.27 609.41,217.1 609.21,216.98 609.01,217.87 608.82,217.74 608.62,217.33 608.42,216.77 608.23,216.21 608.03,215.99 607.83,214.44 607.64,213.98 607.44,214.04 607.24,213.45 607.04,213.36 606.85,212.87 606.65,212.68 606.45,212.89 606.26,213.4 606.06,213.99 605.86,214.21 605.67,215.36 605.47,215.55 605.27,215.77 605.08,216.19 604.88,217.09 604.68,217.68 604.49,217.35 604.29,217.59 604.09,217.02 603.9,217.14 603.7,216.55 603.5,216.35 603.31,215.36 603.11,214.28 602.91,214.45 602.72,213.46 602.52,213.42 602.32,213.45 602.12,213.38 601.93,212.93 601.73,213.42 601.53,213.5 601.34,213.49 601.14,215 600.94,215.28 600.75,215.08 600.55,216.74 600.35,216.61 600.16,216.99 599.96,216.69 599.76,216.93 599.57,217.63 599.37,216.51 599.17,216.47 598.98,216.7 598.78,215.18 598.58,215.25 598.39,214.14 598.19,213.96 597.99,213.86 597.79,213.35 597.6,213.3 597.4,213.25 597.2,213.34 597.01,212.91 596.81,213.38 596.61,213.69 596.42,214.26 596.22,214.84 596.02,216.03 595.83,215.8 595.63,217.25 595.43,217.02 595.24,217.82 595.04,217.89 594.84,216.79 594.65,217.26 594.45,216.79 594.25,215.59 594.06,215.11 593.86,215.57 593.66,214.56 593.46,214.31 593.27,213.99 593.07,213.11 592.87,212.67 592.68,212.76 592.48,213.27 592.28,213.94 592.09,213.94 591.89,214.79 591.69,215.38 591.5,215.39 591.3,216.47 591.1,216.61 590.91,216.35 590.71,217.66 590.51,217.66 590.32,217.65 590.12,217.31 589.92,217.05 589.73,216.25 589.53,216.41 589.33,215.35 589.14,214.8 588.94,214.95 588.74,214.29 588.54,213.54 588.35,212.74 588.15,213.41 587.95,212.54 587.76,213.55 587.56,213.43 587.36,214.52 587.17,215.06 586.97,215.42 586.77,215.69 586.58,215.59 586.38,216.02 586.18,217.5 585.99,217.71 585.79,217.12 585.59,217.16 585.4,217.62 585.2,216.51 585,215.88 584.81,215.24 584.61,215.11 584.41,214.72 584.21,214.6 584.02,214.22 583.82,212.96 583.62,213.14 583.43,213.25 583.23,213.69 583.03,213.13 582.84,213.95 582.64,214.07 582.44,214.5 582.25,214.64 582.05,215.42 581.85,215.64 581.66,216.61 581.46,216.6 581.26,216.63 581.07,217.42 580.87,216.96 580.67,217.43 580.48,216.87 580.28,216.19 580.08,215.19 579.89,215.42 579.69,214.6 579.49,214 579.29,213.95 579.1,213.63 578.9,213.16 578.7,212.8 578.51,213.7 578.31,213.71 578.11,213.95 577.92,213.73 577.72,214.77 577.52,215.09 577.33,216.06 577.13,215.74 576.93,216.38 576.74,217.26 576.54,217.48 576.34,217.35 576.15,216.97 575.95,217.12 575.75,216.18 575.56,216.36 575.36,214.91 575.16,214.58 574.96,214.6 574.77,213.45 574.57,212.93 574.37,213.18 574.18,212.43 573.98,212.33 573.78,213.02 573.59,213.17 573.39,213.92 573.19,213.69 573,214.48 572.8,215.64 572.6,215.48 572.41,216.44 572.21,216.37 572.01,216.61 571.82,216.85 571.62,217.11 571.42,216.23 571.23,215.53 571.03,215.19 570.83,215.57 570.63,214.67 570.44,213.42 570.24,213.38 570.04,212.35 569.85,212.18 569.65,211.9 569.45,211.5 569.26,211.91 569.06,211.52 568.86,211.94 568.67,213 568.47,213.4 568.27,213.35 568.08,213.32 567.88,214.79 567.68,214.54 567.49,215.43 567.29,215.44 567.09,215.12 566.9,214.74 566.7,213.75 566.5,214.1 566.31,213.02 566.11,212.21 565.91,211.8 565.71,211.09 565.52,209.69 565.32,209.8 565.12,209.24 564.93,208.32 564.73,208.3 564.53,208.56 564.34,207.81 564.14,208.16 563.94,208.8 563.75,208.8 563.55,208.36 563.35,208.6 563.16,209.17 562.96,208.6 562.76,208.42 562.57,208.62 562.37,207.74 562.17,206.43 561.98,206.76 561.78,205.15 561.58,203.85 561.38,202.52 561.19,201.52 560.99,199.96 560.79,198.38 560.6,198.04 560.4,196.81 560.2,195.06 560.01,194.01 559.81,192.66 559.61,192.53 559.42,190.74 559.22,190.64 559.02,189.71 558.83,188.57 558.63,186.89 558.43,186.25 558.24,184.91 558.04,182.96 557.84,181.58 557.65,179.57 557.45,176.87 557.25,174.3 557.05,171.3 556.86,167.82 556.66,164.43 556.46,160.94 556.27,157.45 556.07,152.79 555.87,149.53 555.68,145.62 555.48,140.56 555.28,137.61 555.09,137.43 554.89,138.38 554.69,138.63 554.5,139.82 554.3,140.21 554.1,140.68 553.91,141.25 553.71,141.22 553.51,141.66 553.32,142.19 553.12,141.93 552.92,142.53 552.73,141.57 552.53,141.77 552.33,140.8 552.13,141.04 551.94,139.3 551.74,139.7 551.54,138.26 551.35,137.88 551.15,138.3 550.95,137.46 550.76,138.26 550.56,138.02 550.36,138.29 550.17,139.04 549.97,139.19 549.77,139.36 549.58,139.76 549.38,139.97 549.18,141.5 548.99,141.2 548.79,141.38 548.59,141.51 548.4,142.53 548.2,141.98 548,141.38 547.8,141 547.61,140.96 547.41,139.95 547.21,139.72 547.02,139.12 546.82,138.1 546.62,137.96 546.43,137.81 546.23,138.14 546.03,138 545.84,138.09 545.64,138.23 545.44,138.67 545.25,139.05 545.05,139.79 544.85,139.86 544.66,140.65 544.46,141.76 544.26,141.66 544.07,141.28 543.87,142.26 543.67,142.55 543.48,142.01 543.28,141.28 543.08,141.54 542.88,140.68 542.69,140.59 542.49,139.41 542.29,139.15 542.1,138.82 541.9,138.23 541.7,138.26 541.51,137.68 541.31,138.4 541.11,138.52 540.92,138.7 540.72,139.23 540.52,139.76 540.33,140.19 540.13,140.34 539.93,140.34 539.74,141.87 539.54,141.07 539.34,141.58 539.15,142.06 538.95,141.5 538.75,142.18 538.55,141.66 538.36,141.15 538.16,140.24 537.96,139.97 537.77,139.12 537.57,139.36 537.37,138.84 537.18,137.87 536.98,138.47 536.78,138.13 536.59,137.28 536.39,138.34 536.19,138.9 536,138.71 535.8,139.34 535.6,140.33 535.41,140.64 535.21,140.72 535.01,141.5 534.82,141.7 534.62,141.44 534.42,142.11 534.22,142.03 534.03,141.86 533.83,141.81 533.63,141.35 533.44,140.13 533.24,140.34 533.04,139.32 532.85,138.93 532.65,138.23 532.45,137.57 532.26,137.29 532.06,138.01 531.86,137.96 531.67,138.21 531.47,138.72 531.27,138.74 531.08,140.14 530.88,140.09 530.68,141.17 530.49,140.89 530.29,141.64 530.09,141.52 529.9,141.64 529.7,141.44 529.5,142.41 529.3,141.77 529.11,141.59 528.91,140.37 528.71,140.67 528.52,139.95 528.32,138.63 528.12,138.56 527.93,137.65 527.73,137.54 527.53,138.11 527.34,137.82 527.14,138.51 526.94,138.23 526.75,138.11 526.55,138.73 526.35,139.73 526.16,140.64 525.96,141.23 525.76,141.87 525.57,141.67 525.37,141.3 525.17,141.98 524.97,142.21 524.78,142.28 524.58,141.12 524.38,141.16 524.19,140.45 523.99,139.84 523.79,139.04 523.6,138.86 523.4,138.52 523.2,138.26 523.01,138.2 522.81,138.15 522.61,137.94 522.42,138.62 522.22,138.23 522.02,139.42 521.83,139.26 521.63,140.07 521.43,140.85 521.24,141.04 521.04,141.34 520.84,142.21 520.65,142.01 520.45,141.83 520.25,141.52 520.05,141.18 519.86,141.3 519.66,140.81 519.46,140.92 519.27,139.51 519.07,139.34 518.87,138.99 518.68,138.37 518.48,137.6 518.28,138.02 518.09,137.25 517.89,137.85 517.69,138.57 517.5,139.07 517.3,138.5 517.1,138.95 516.91,139.9 516.71,140.25 516.51,141.25 516.32,141.77 516.12,142.1 515.92,142.28 515.72,141.87 515.53,141.76 515.33,141.67 515.13,141.24 514.94,140.44" fill="#0000ff" stroke="#0000ff" stroke-width="1.0" stroke-linejoin="round"/><polygon points="514.94,127.33 515.13,127.98 515.33,128.13 515.53,128.03 515.72,128.07 515.92,127.14 516.12,127.19 516.32,125.8 516.51,125.47 516.71,124.59 516.91,123.79 517.1,123.69 517.3,123.17 517.5,122.91 517.69,123.51 517.89,123.05 518.09,123.4 518.28,123.59 518.48,124.85 518.68,125.39 518.87,125.43 519.07,125.96 519.27,126.94 519.46,127.58 519.66,127.82 519.86,127.54 520.05,127.62 520.25,128.05 520.45,127.45 520.65,126.7 520.84,126.39 521.04,125.78 521.24,124.94 521.43,124.6 521.63,124.48 521.83,123.38 522.02,123.39 522.22,122.69 522.42,123.36 522.61,123.25 522.81,123.24 523.01,124.47 523.2,125.05 523.4,125.68 523.6,125.82 523.79,126.32 523.99,126.57 524.19,127.54 524.38,127.55 524.58,127.6 524.78,128.28 524.97,127.35 525.17,127.17 525.37,127.12 525.57,126.11 525.76,125.94 525.96,124.94 526.16,124.21 526.35,124.04 526.55,123.64 526.75,122.81 526.94,123.06 527.14,123.24 527.34,123.53 527.53,123.88 527.73,123.87 527.93,125.26 528.12,125.79 528.32,126.03 528.52,126.66 528.71,127.49 528.91,127.61 529.11,127.72 529.3,127.87 529.5,128.14 529.7,127.15 529.9,126.94 530.09,126.81 530.29,126.18 530.49,125.25 530.68,124.45 530.88,124.41 531.08,123.92 531.27,123.14 531.47,123.25 531.67,123.04 531.86,123.63 532.06,123.7 532.26,123.69 532.45,124.18 532.65,124.72 532.85,125.85 533.04,125.9 533.24,126.69 533.44,127.49 533.63,127.23 533.83,128.26 534.03,127.66 534.22,128.14 534.42,127.98 534.62,127.51 534.82,126.67 535.01,126.18 535.21,125.18 535.41,125.11 535.6,124.42 535.8,123.4 536,123.62 536.19,123.59 536.39,123.1 536.59,123.08 536.78,123.38 536.98,124.36 537.18,124.41 537.37,124.83 537.57,126.31 537.77,126.24 537.96,126.95 538.16,127.87 538.36,127.95 538.55,127.53 538.75,127.68 538.95,127.81 539.15,127.12 539.34,126.81 539.54,125.9 539.74,125.3 539.93,124.66 540.13,124.65 540.33,123.71 540.52,124.04 540.72,123.71 540.92,123.02 541.11,123.1 541.31,123.05 541.51,123.69 541.7,124.71 541.9,124.29 542.1,125.79 542.29,126.06 542.49,126.98 542.69,127.27 542.88,128.04 543.08,127.67 543.28,128.17 543.48,128.05 543.67,127.87 543.87,127.01 544.07,126.84 544.26,125.98 544.46,125.45 544.66,125.42 544.85,124.4 545.05,123.9 545.25,123.49 545.44,123.07 545.64,122.85 545.84,123.01 546.03,123.39 546.23,123.49 546.43,124.34 546.62,124.91 546.82,125.79 547.02,126.28 547.21,127.06 547.41,127.02 547.61,128.15 547.8,127.64 548,127.49 548.2,127.76 548.4,127.83 548.59,126.96 548.79,126.33 548.99,125.78 549.18,125.77 549.38,124.52 549.58,124.28 549.77,123.29 549.97,123.09 550.17,122.74 550.36,123.47 550.56,123.08 550.76,123.7 550.95,124.2 551.15,124.4 551.35,125.13 551.54,125.83 551.74,126.58 551.94,126.96 552.13,127.53 552.33,127.56 552.53,128.39 552.73,127.98 552.92,127.44 553.12,127.36 553.32,126.74 553.51,126.51 553.71,125.98 553.91,124.88 554.1,124.11 554.3,124.21 554.5,123.68 554.69,122.84 554.89,123.16 555.09,123.38 555.28,123.12 555.48,123.85 555.68,124.07 555.87,124.52 556.07,125.63 556.27,128.57 556.46,131.82 556.66,136.56 556.86,139.36 557.05,142.98 557.25,145.61 557.45,148.82 557.65,150.72 557.84,153.75 558.04,155.56 558.24,157.05 558.43,158.22 558.63,159.74 558.83,160.75 559.02,162.69 559.22,163.86 559.42,164.96 559.61,166.56 559.81,168.72 560.01,169.99 560.2,171.7 560.4,174.15 560.6,176.03 560.79,177.34 560.99,179.52 561.19,181.2 561.38,182.09 561.58,183.85 561.78,184.58 561.98,185.38 562.17,187.02 562.37,187.07 562.57,187.61 562.76,187.66 562.96,187.47 563.16,187.62 563.35,187.51 563.55,188.17 563.75,188.31 563.94,187.76 564.14,188.71 564.34,188.56 564.53,189.51 564.73,189.9 564.93,191.17 565.12,192.01 565.32,192.78 565.52,194.17 565.71,194.83 565.91,196.12 566.11,196.88 566.31,196.74 566.5,197.62 566.7,198.2 566.9,198.15 567.09,198.24 567.29,197.68 567.49,197.79 567.68,196.88 567.88,196.33 568.08,196.33 568.27,195.98 568.47,195.79 568.67,195.54 568.86,195.24 569.06,195.91 569.26,196.4 569.45,196.41 569.65,197.2 569.85,198.12 570.04,198.3 570.24,198.7 570.44,199.8 570.63,200.06 570.83,201.43 571.03,201.66 571.23,201.79 571.42,201.43 571.62,201.64 571.82,201.3 572.01,201.28 572.21,200.21 572.41,199.47 572.6,199.63 572.8,199.01 573,198.21 573.19,198.19 573.39,197.57 573.59,197.33 573.78,197.92 573.98,197.6 574.18,198.37 574.37,198.83 574.57,200.04 574.77,200.19 574.96,200.62 575.16,201.49 575.36,201.66 575.56,202.14 575.75,202.59 575.95,203.13 576.15,202.67 576.34,202.27 576.54,202.5 576.74,202.18 576.93,201 577.13,200.69 577.33,199.78 577.52,199.34 577.72,198.94 577.92,198.5 578.11,198 578.31,198.49 578.51,198.42 578.7,198.63 578.9,198.85 579.1,199.74 579.29,200.17 579.49,200.77 579.69,201.85 579.89,201.92 580.08,202.58 580.28,203.21 580.48,203.67 580.67,203.61 580.87,202.69 581.07,202.4 581.26,202.04 581.46,201.39 581.66,201.6 581.85,200.55 582.05,200.28 582.25,199.65 582.44,198.96 582.64,198.4 582.84,198.28 583.03,198.89 583.23,198.74 583.43,199.18 583.62,199.91 583.82,200.36 584.02,200.97 584.21,200.81 584.41,202.09 584.61,202.88 584.81,203.21 585,203.02 585.2,202.82 585.4,202.89 585.59,203.05 585.79,202.91 585.99,202.03 586.18,202.02 586.38,200.64 586.58,200.94 586.77,199.68 586.97,199.75 587.17,198.84 587.36,198.2 587.56,198.43 587.76,198.25 587.95,199.18 588.15,198.74 588.35,199.26 588.54,200.33 588.74,200.67 588.94,201.35 589.14,201.72 589.33,202.12 589.53,202.73 589.73,202.96 589.92,203.13 590.12,203.57 590.32,203.53 590.51,202.72 590.71,201.96 590.91,202.06 591.1,201.2 591.3,200.43 591.5,199.97 591.69,199.06 591.89,198.38 592.09,199.05 592.28,198.47 592.48,198.22 592.68,198.65 592.87,199.28 593.07,199.97 593.27,200.47 593.46,201.38 593.66,201.9 593.86,202.2 594.06,202.31 594.25,202.73 594.45,203.1 594.65,203.83 594.84,203.48 595.04,203.03 595.24,202.1 595.43,201.73 595.63,201.3 595.83,200.5 596.02,200.57 596.22,199.52 596.42,199.36 596.61,199.01 596.81,198.92 597.01,199.01 597.2,198.27 597.4,199.47 597.6,199.29 597.79,200.13 597.99,200.85 598.19,200.93 598.39,202.12 598.58,202.38 598.78,202.77 598.98,203.24 599.17,202.96 599.37,203.34 599.57,203.67 599.76,202.99 599.96,202.1 600.16,201.83 600.35,201.68 600.55,200.98 600.75,199.55 600.94,199.21 601.14,198.64 601.34,198.73 601.53,198.27 601.73,198.89 601.93,199.31 602.12,199.59 602.32,199.9 602.52,200.61 602.72,200.82 602.91,201.24 603.11,202.43 603.31,202.59 603.5,203.28 603.7,203.02 603.9,203.02 604.09,203.62 604.29,203.27 604.49,202.64 604.68,201.73 604.88,201.29 605.08,200.79 605.27,199.96 605.47,199.73 605.67,198.9 605.86,198.76 606.06,198.27 606.26,198.59 606.45,198.68 606.65,199.01 606.85,199.45 607.04,199.47 607.24,200.45 607.44,200.83 607.64,202.07 607.83,202.43 608.03,202.69 608.23,202.94 608.42,203.51 608.62,203.59 608.82,203.25 609.01,202.98 609.21,202.82 609.41,201.61 609.6,201.87 609.8,200.94 610,200.34 610.19,200.09 610.39,199.47 610.59,198.58 610.78,198.7 610.98,198.87 611.18,198.41 611.37,198.64 611.57,199.24 611.77,200.16 611.97,200.73 612.16,201.64 612.36,202.27 612.56,202.56 612.75,203.12 612.95,202.73 613.15,203.58 613.34,203.25 613.54,203.14 613.74,203.14 613.93,202.13 614.13,202.12 614.33,201.65 614.52,200.32 614.72,199.66 614.92,199 615.11,198.92 615.31,198.46 615.51,198.96 615.7,198.99 615.9,199.17 616.1,199.22 616.3,199.84 616.49,200.66 616.69,201.2 616.89,201.38 617.08,201.83 617.28,202.65 617.48,202.73 617.67,203.42 617.87,203.18 618.07,203.72 618.26,203.32 618.46,202.89 618.66,201.96 618.85,202.17 619.05,200.61 619.25,200.18 619.44,199.52 619.64,199.03 619.84,199.4 620.03,198.76 620.23,198.84 620.43,198.84 620.62,199.36 620.82,199.45 621.02,200.23 621.22,200.79 621.41,200.56 621.61,201.51 621.81,202.6 622,202.56 622.2,203.24 622.4,203.06 622.59,203.06 622.79,203.05 622.99,202.8 623.18,202.85 623.38,202.2 623.58,201.83 623.77,200.9 623.97,199.83 624.17,200.15 624.36,198.97 624.56,198.37 624.76,198.91 624.95,198.12 625.15,199.03 625.35,198.71 625.55,199.57 625.74,200.44 625.94,200.25 626.14,201.29 626.33,201.34 626.53,202.67 626.73,202.54 626.92,203.26 627.12,203.64 627.32,203.65 627.51,203.69 627.71,202.78 627.91,202.3 628.1,201.76 628.3,201.07 628.5,200.46 628.69,200.29 628.89,199.16 629.09,198.78 629.28,198.93 629.48,198.91 629.68,198.61 629.87,198.64 630.07,198.88 630.27,199.29 630.47,200.32 630.66,200.92 630.86,200.94 631.06,202.15 631.25,202.71 631.45,203.12 631.65,203.59 631.84,203.41 632.04,203.08 632.24,202.75 632.43,202.58 632.63,202.64 632.83,202.13 633.02,200.81 633.22,200.18 633.42,199.61 633.61,198.87 633.81,199.27 634.01,199.06 634.2,198.11 634.4,198.52 634.6,199.08 634.8,199.08 634.99,199.36 635.19,200.73 635.39,200.68 635.58,201.35 635.78,202.17 635.98,202.29 636.17,203.38 636.37,203.34 636.57,203.46 636.76,203.73 636.96,203.54 637.16,202.64 637.35,202.48 637.55,201.6 637.75,201.31 637.94,199.93 638.14,199.46 638.34,199.7 638.53,199.16 638.73,198.66 638.93,198.98 639.13,198.61 639.32,199.34 639.52,199.37 639.72,200.24 639.91,200.22 640.11,200.95 640.31,202.04 640.5,202.46 640.7,202.42 640.9,203.43 641.09,203.46 641.29,203.38 641.49,203.52 641.68,203.07 641.88,202.06 642.08,201.49 642.27,201.26 642.47,200.92 642.67,200.54 642.86,199.3 643.06,198.93 643.26,199.24 643.45,198.6 643.65,199.02 643.85,199.04 644.05,198.86 644.24,199.58 644.44,200.17 644.64,200.43 644.83,201.36 645.03,201.9 645.23,202.16 645.42,203.16 645.62,203.42 645.82,203.39 646.01,203.77 646.21,203.12 646.41,202.7 646.6,202.26 646.8,201.41 647,200.94 647.19,200.34 647.39,200.07 647.59,199.76 647.78,199.34 647.98,199 648.18,198.35 648.38,198.78 648.57,198.87 648.77,199.67 648.97,200.17 649.16,200.08 649.36,201.24 649.56,201.47 649.75,202.58 649.95,202.31 650.15,202.84 650.34,203.18 650.54,202.92 650.74,203.32 650.93,203.05 651.13,202.84 651.33,202.55 651.52,201.12 651.72,201.05 651.92,200.17 652.11,200.02 652.31,199.23 652.51,198.94 652.71,198.86 652.71,214.73 652.51,215.04 652.31,215.21 652.11,216.19 651.92,216.25 651.72,217.3 651.52,216.71 651.33,217.17 651.13,217.48 650.93,217.14 650.74,215.85 650.54,215.6 650.34,215.11 650.15,214.43 649.95,213.57 649.75,213.04 649.56,212.8 649.36,212.96 649.16,212.79 648.97,212.26 648.77,212.82 648.57,213.11 648.38,213.57 648.18,214.3 647.98,214.42 647.78,215.09 647.59,215.42 647.39,216.21 647.19,216.64 647,216.77 646.8,217.28 646.6,217.45 646.41,217.44 646.21,216.37 646.01,216.17 645.82,215.27 645.62,215.09 645.42,214.45 645.23,213.34 645.03,213.06 644.83,212.68 644.64,212.13 644.44,212.6 644.24,212.23 644.05,212.3 643.85,212.73 643.65,213.26 643.45,213.65 643.26,214.79 643.06,214.95 642.86,215.56 642.67,216.22 642.47,217.21 642.27,217.3 642.08,216.94 641.88,217.45 641.68,216.54 641.49,216.57 641.29,216.31 641.09,215.06 640.9,214.96 640.7,214.41 640.5,213.35 640.31,212.9 640.11,212.43 639.91,212.43 639.72,212.31 639.52,212.42 639.32,213.25 639.13,213.41 638.93,213.6 638.73,214.01 638.53,214.87 638.34,215.59 638.14,215.7 637.94,216.26 637.75,216.79 637.55,217.16 637.35,217.3 637.16,217 636.96,216.56 636.76,216.62 636.57,215.65 636.37,215.5 636.17,214.2 635.98,213.86 635.78,213.15 635.58,212.91 635.39,212.61 635.19,211.95 634.99,212.61 634.8,212.21 634.6,212.9 634.4,213.16 634.2,214.22 634.01,214.05 633.81,215.47 633.61,215.25 633.42,215.97 633.22,216.28 633.02,217.11 632.83,217.51 632.63,216.93 632.43,217.04 632.24,216.53 632.04,215.77 631.84,215.28 631.65,215.09 631.45,214.64 631.25,214.12 631.06,213.55 630.86,212.41 630.66,212.42 630.47,212.11 630.27,212.37 630.07,212.93 629.87,213.09 629.68,212.98 629.48,213.78 629.28,214.89 629.09,215.57 628.89,215.57 628.69,216.74 628.5,216.74 628.3,217.31 628.1,217.31 627.91,217.56 627.71,217.18 627.51,216.2 627.32,216.43 627.12,215.38 626.92,214.44 626.73,213.74 626.53,213.1 626.33,212.8 626.14,212.84 625.94,212.85 625.74,212.58 625.55,212.01 625.35,213.19 625.15,213.39 624.95,214.04 624.76,214.04 624.56,215.15 624.36,215.52 624.17,215.88 623.97,216.31 623.77,216.61 623.58,217.55 623.38,216.82 623.18,217.21 622.99,217.09 622.79,216.86 622.59,216.09 622.4,214.79 622.2,214.17 622,213.56 621.81,213.59 621.61,212.65 621.41,212.85 621.22,212.66 621.02,212.53 620.82,212.07 620.62,212.67 620.43,213.03 620.23,213.38 620.03,214.2 619.84,214.69 619.64,215.52 619.44,216.49 619.25,217.02 619.05,216.8 618.85,217.61 618.66,217.18 618.46,217.05 618.26,217.01 618.07,216.6 617.87,215.83 617.67,215.47 617.48,214.76 617.28,214.28 617.08,213.16 616.89,213.18 616.69,212.79 616.49,212.08 616.3,212.52 616.1,212.63 615.9,213.19 615.7,213.84 615.51,213.92 615.31,215.11 615.11,214.79 614.92,215.77 614.72,216.76 614.52,216.71 614.33,216.98 614.13,216.93 613.93,216.84 613.74,216.54 613.54,216.89 613.34,215.77 613.15,215.83 612.95,214.38 612.75,214.36 612.56,214.02 612.36,213.23 612.16,212.93 611.97,212.03 611.77,212.52 611.57,212.37 611.37,212.7 611.18,213.25 610.98,213.43 610.78,214.55 610.59,215.03 610.39,215.09 610.19,216.26 610,216.97 609.8,217.16 609.6,217.17 609.41,217.13 609.21,216.9 609.01,216.97 608.82,216.09 608.62,215.53 608.42,214.87 608.23,214.98 608.03,214.12 607.83,213.77 607.64,212.63 607.44,212.25 607.24,212.11 607.04,211.9 606.85,212.1 606.65,212.44 606.45,213.58 606.26,213.36 606.06,214.23 605.86,215.01 605.67,215.65 605.47,215.86 605.27,217.02 605.08,217.1 604.88,216.83 604.68,217.01 604.49,217.51 604.29,216.36 604.09,216.72 603.9,216.05 603.7,214.98 603.5,214.38 603.31,213.37 603.11,213.45 602.91,212.73 602.72,212.86 602.52,212.24 602.32,212.51 602.12,212.23 601.93,212.96 601.73,213.45 601.53,213.94 601.34,214.59 601.14,215.6 600.94,216.29 600.75,216.74 600.55,216.96 600.35,216.92 600.16,217.67 599.96,216.77 599.76,216.57 599.57,216.09 599.37,216.58 599.17,215.28 598.98,215.35 598.78,214.03 598.58,213.85 598.39,212.9 598.19,213.1 597.99,212.4 597.79,212.13 597.6,212.75 597.4,213 597.2,212.72 597.01,213.91 596.81,213.71 596.61,214.49 596.42,215.04 596.22,215.85 596.02,216.7 595.83,216.64 595.63,217.53 595.43,217.28 595.24,216.97 595.04,217.21 594.84,216.54 594.65,216.05 594.45,215 594.25,214.76 594.06,214.34 593.86,213.51 593.66,212.64 593.46,212.88 593.27,212.68 593.07,211.97 592.87,212.58 592.68,213.24 592.48,213.62 592.28,213.89 592.09,213.9 591.89,214.55 591.69,215.52 591.5,216.13 591.3,216.37 591.1,216.77 590.91,216.69 590.71,217.17 590.51,216.87 590.32,216.67 590.12,216.63 589.92,215.88 589.73,215.07 589.53,214.55 589.33,214.3 589.14,213.45 588.94,212.95 588.74,212.56 588.54,212.54 588.35,212.17 588.15,212.14 587.95,212.56 587.76,212.87 587.56,214.01 587.36,214.06 587.17,215.29 586.97,216.04 586.77,216.22 586.58,216.48 586.38,216.8 586.18,217.16 585.99,216.85 585.79,217.2 585.59,216.13 585.4,216.09 585.2,215.82 585,215.3 584.81,214.74 584.61,213.95 584.41,213.17 584.21,212.59 584.02,212.57 583.82,212.14 583.62,212.79 583.43,212.23 583.23,213.25 583.03,213.3 582.84,213.68 582.64,214.42 582.44,215.06 582.25,215.72 582.05,216.06 581.85,217.2 581.66,216.98 581.46,216.64 581.26,217.17 581.07,216.9 580.87,216.63 580.67,215.57 580.48,215.62 580.28,214.6 580.08,213.57 579.89,213.41 579.69,213.2 579.49,212.2 579.29,212.12 579.1,212.34 578.9,211.74 578.7,212.97 578.51,213.05 578.31,213.41 578.11,213.99 577.92,214.38 577.72,214.81 577.52,215.68 577.33,216.43 577.13,216.37 576.93,216.76 576.74,217.15 576.54,216.22 576.34,216.4 576.15,215.4 575.95,215.17 575.75,214.8 575.56,214.07 575.36,213.3 575.16,212.87 574.96,211.89 574.77,211.77 574.57,211.88 574.37,211.51 574.18,212.21 573.98,211.88 573.78,212.2 573.59,212.6 573.39,213.34 573.19,214.14 573,214.34 572.8,214.8 572.6,215.44 572.41,215.41 572.21,215.95 572.01,215.85 571.82,215.32 571.62,215.53 571.42,214.69 571.23,213.97 571.03,213.42 570.83,212.22 570.63,211.73 570.44,211 570.24,210.85 570.04,209.95 569.85,210.17 569.65,209.99 569.45,209.81 569.26,210.32 569.06,210.79 568.86,210.7 568.67,211.43 568.47,211.79 568.27,212.73 568.08,212.85 567.88,213.09 567.68,213.09 567.49,212.88 567.29,212.22 567.09,211.82 566.9,210.95 566.7,210.2 566.5,210.03 566.31,209.28 566.11,208.37 565.91,207.19 565.71,206.43 565.52,205.7 565.32,204.41 565.12,204.39 564.93,204 564.73,204.13 564.53,203.35 564.34,203.86 564.14,204.29 563.94,204.08 563.75,204.46 563.55,204.47 563.35,203.81 563.16,203.97 562.96,203.2 562.76,202.35 562.57,201.81 562.37,201.07 562.17,199.93 561.98,198.64 561.78,196.44 561.58,194.85 561.38,193.44 561.19,192.28 560.99,190.37 560.79,189.12 560.6,187.99 560.4,186.77 560.2,184.98 560.01,184.06 559.81,183.48 559.61,182.46 559.42,181.19 559.22,180.39 559.02,178.67 558.83,177.93 558.63,175.79 558.43,174.42 558.24,171.91 558.04,170.47 557.84,167.78 557.65,164.82 557.45,161.44 557.25,158.79 557.05,154.85 556.86,150.99 556.66,147.61 556.46,143.23 556.27,139.46 556.07,136.99 555.87,137.16 555.68,136.56 555.48,137.44 555.28,137.15 555.09,137.93 554.89,138.98 554.69,138.73 554.5,139.91 554.3,140.32 554.1,140.91 553.91,141.1 553.71,141.83 553.51,141.34 553.32,141.67 553.12,141.4 552.92,141.02 552.73,140.42 552.53,140.35 552.33,139.4 552.13,139.28 551.94,138.35 551.74,137.66 551.54,137.37 551.35,137.46 551.15,137.07 550.95,136.95 550.76,137.5 550.56,137.56 550.36,137.66 550.17,138.74 549.97,139.49 549.77,139.56 549.58,140.48 549.38,141.47 549.18,141.05 548.99,141.8 548.79,141.24 548.59,141.22 548.4,141.84 548.2,141.14 548,140.35 547.8,140.28 547.61,138.83 547.41,138.12 547.21,137.89 547.02,137.3 546.82,136.81 546.62,137.28 546.43,137.07 546.23,137.33 546.03,137.44 545.84,137.33 545.64,137.92 545.44,138.62 545.25,139.58 545.05,140.5 544.85,140.65 544.66,141.23 544.46,141.45 544.26,141.51 544.07,141.4 543.87,141.17 543.67,141.11 543.48,140.7 543.28,140.45 543.08,139.8 542.88,139.08 542.69,138.86 542.49,137.69 542.29,137.52 542.1,136.7 541.9,136.84 541.7,136.81 541.51,137.19 541.31,137.21 541.11,138.23 540.92,138.55 540.72,139.6 540.52,140.07 540.33,140.7 540.13,140.94 539.93,141.29 539.74,141.67 539.54,141.79 539.34,141.2 539.15,141.87 538.95,140.95 538.75,140.35 538.55,139.76 538.36,139.24 538.16,139.14 537.96,138.1 537.77,138.15 537.57,137.77 537.37,137.37 537.18,136.44 536.98,137.08 536.78,137.63 536.59,137.99 536.39,137.78 536.19,138.63 536,139.4 535.8,139.84 535.6,140.96 535.41,140.82 535.21,141.88 535.01,142.08 534.82,142.21 534.62,141.21 534.42,140.99 534.22,140.81 534.03,140.41 533.83,139.48 533.63,139.58 533.44,138.14 533.24,138.11 533.04,137.67 532.85,137.07 532.65,137.2 532.45,136.75 532.26,137.47 532.06,137.41 531.86,137.54 531.67,138.18 531.47,138.74 531.27,139.06 531.08,140.56 530.88,140.88 530.68,140.82 530.49,141.97 530.29,141.98 530.09,141.37 529.9,141.94 529.7,141.51 529.5,140.59 529.3,140.35 529.11,139.22 528.91,139.51 528.71,138.84 528.52,138.11 528.32,137.11 528.12,137.18 527.93,137.05 527.73,137.34 527.53,137.4 527.34,137.84 527.14,138 526.94,138.11 526.75,138.7 526.55,139.75 526.35,140.13 526.16,140.83 525.96,141.38 525.76,142.01 525.57,141.48 525.37,141.76 525.17,141.12 524.97,141.24 524.78,140.61 524.58,140.41 524.38,139.64 524.19,138.58 523.99,138.31 523.79,137.49 523.6,137.67 523.4,136.7 523.2,137.28 523.01,136.78 522.81,136.98 522.61,137.52 522.42,138.4 522.22,139.07 522.02,139.55 521.83,139.56 521.63,140.15 521.43,140.66 521.24,141.66 521.04,141.42 520.84,141.8 520.65,141.86 520.45,141.13 520.25,140.97 520.05,140.83 519.86,140.22 519.66,139.23 519.46,138.4 519.27,137.97 519.07,137.76 518.87,136.78 518.68,137.42 518.48,137.27 518.28,136.96 518.09,137.35 517.89,138.15 517.69,138.11 517.5,138.35 517.3,139.45 517.1,140.3 516.91,140.78 516.71,141.37 516.51,141.14 516.32,141.44 516.12,141.58 515.92,142.03 515.72,141.73 515.53,140.61 515.33,140.61 515.13,139.63 514.94,139.35" fill="#00ff00" stroke="#00ff00" stroke-width="1.2" stroke-linejoin="round"/></g><g stroke="#9a9a9a" stroke-width="1"><line x1="532.6" y1="227.9" x2="532.6" y2="224.9"/><line x1="532.6" y1="98.6" x2="532.6" y2="101.6"/><line x1="580.1" y1="227.9" x2="580.1" y2="224.9"/><line x1="580.1" y1="98.6" x2="580.1" y2="101.6"/><line x1="626.8" y1="227.9" x2="626.8" y2="224.9"/><line x1="626.8" y1="98.6" x2="626.8" y2="101.6"/><line x1="517.7" y1="133.2" x2="520.7" y2="133.2"/><line x1="650.1" y1="133.2" x2="647.1" y2="133.2"/><line x1="517.7" y1="163.5" x2="520.7" y2="163.5"/><line x1="650.1" y1="163.5" x2="647.1" y2="163.5"/><line x1="517.7" y1="193.9" x2="520.7" y2="193.9"/><line x1="650.1" y1="193.9" x2="647.1" y2="193.9"/><line x1="517.7" y1="224.3" x2="520.7" y2="224.3"/><line x1="650.1" y1="224.3" x2="647.1" y2="224.3"/></g><rect x="517.7" y="98.6" width="132.4" height="129.3" fill="none" stroke="#9a9a9a" stroke-width="1"/><g font-family="Liberation Serif" font-size="15.8" fill="#3a3a3a"><text x="533.8" y="249.5" text-anchor="middle">19.98</text><text x="579.5" y="249.5" text-anchor="middle">20.02</text><text x="626.4" y="249.5" text-anchor="middle">20.06</text><text x="511.7" y="139.41" text-anchor="end">200</text><text x="511.7" y="169.71" text-anchor="end">180</text><text x="511.7" y="200.11" text-anchor="end">160</text><text x="511.7" y="230.51" text-anchor="end">140</text></g>
<clipPath id="c4"><rect x="361.7" y="17.6" width="134.6" height="54.1"/></clipPath><rect x="361.7" y="17.6" width="134.6" height="54.1" fill="#fff"/><g stroke="#666" stroke-width="1" stroke-dasharray="5.2 2.8"><line x1="388.3" y1="17.6" x2="388.3" y2="71.7"/><line x1="442" y1="17.6" x2="442" y2="71.7"/><line x1="361.7" y1="44.6" x2="496.3" y2="44.6"/></g><g clip-path="url(#c4)"><polygon fill="#ff0000" points="361,23.09 362.5,24.68 364,24.45 365.5,24.96 367,24.39 368.5,22.97 370,24.57 371.5,23.85 373,22.66 374.5,23.98 376,24.45 377.5,24.6 379,23.32 380.5,24.54 382,24.86 383.5,24.16 385,24.7 386.5,24.95 388,24.7 389.5,24.37 391,24.74 392.5,21.99 394,24.63 395.5,23.38 397,23.22 398.5,24.76 400,24.83 401.5,24.9 403,23.27 404.5,24.05 406,23.15 407.5,23.69 409,24.65 410.5,24.82 412,22.47 413.5,23.97 415,22.34 416.5,22.68 418,24.42 419.5,24.53 421,24.59 422.5,24.66 424,24.97 425.5,22.06 427,24.97 428.5,23.25 430,24.69 431.5,24.45 433,24.98 434.5,23.83 436,22.87 437.5,24.53 439,24.46 440.5,24.51 442,24.28 443.5,24.52 445,22.88 446.5,23.55 448,23.38 449.5,25.01 451,24.77 452.5,24.84 454,24.97 455.5,23.23 457,24.81 458.5,24.15 460,24.9 461.5,24.53 463,24.66 464.5,24.68 466,23.04 467.5,23.14 469,23.37 470.5,24.55 472,24.8 473.5,24.82 475,22.3 476.5,24.9 478,24.99 479.5,23.25 481,24.84 482.5,24.43 484,24.93 485.5,24.76 487,24.96 488.5,21.92 490,22.58 491.5,21.83 493,24.74 494.5,23.6 496,24.72 497.5,23.8 497.5,64.23 496,63.73 494.5,63.64 493,62.63 491.5,64.67 490,63.14 488.5,62.94 487,64.68 485.5,62.95 484,62.71 482.5,62.66 481,65.4 479.5,64.81 478,65.15 476.5,63.24 475,64.75 473.5,62.69 472,63.1 470.5,64.42 469,64.35 467.5,62.57 466,64.6 464.5,64.55 463,64.26 461.5,62.7 460,62.97 458.5,64.81 457,63.12 455.5,62.64 454,65.08 452.5,63.95 451,63.13 449.5,63.42 448,64.22 446.5,63.06 445,62.92 443.5,62.76 442,62.56 440.5,62.61 439,64.09 437.5,62.61 436,63.15 434.5,62.6 433,62.62 431.5,62.83 430,64.28 428.5,64.87 427,65.38 425.5,63.78 424,64.94 422.5,62.97 421,62.97 419.5,62.81 418,62.94 416.5,64.63 415,62.66 413.5,64.35 412,62.67 410.5,64.12 409,64.07 407.5,62.72 406,62.77 404.5,62.56 403,65.26 401.5,65.01 400,62.97 398.5,63.04 397,63.08 395.5,62.78 394,62.85 392.5,62.67 391,65.63 389.5,65.42 388,62.81 386.5,62.7 385,64.04 383.5,65.15 382,63.62 380.5,62.87 379,64.44 377.5,63.41 376,62.85 374.5,64.58 373,63.87 371.5,64.05 370,64.04 368.5,62.74 367,65.14 365.5,62.89 364,63.57 362.5,63.13 361,65.25"/><polygon fill="#0000ff" points="361,23.02 362.7,24.54 364.4,24.61 366.1,24.95 367.8,24.98 369.5,24.9 371.2,24.73 372.9,22.42 374.6,24.96 376.3,24.64 378,24.53 379.7,22.5 381.4,24.49 383.1,24.2 384.8,23.15 386.5,22.08 388.2,24.42 389.9,24.98 391.6,22.17 393.3,22.28 395,22.62 396.7,24.63 398.4,24.88 400.1,24.78 401.8,21.1 403.5,24.53 405.2,24.79 406.9,24.73 408.6,21.67 410.3,24.44 412,25.01 413.7,24.89 415.4,23.97 417.1,24.73 418.8,24.82 420.5,24.55 422.2,20.88 423.9,22.79 425.6,24.89 427.3,24.65 429,25.02 430.7,24.96 432.4,23.52 434.1,24.87 435.8,24.54 437.5,24.56 439.2,24.85 440.9,24.63 442.6,24.97 444.3,24.69 446,23.04 447.7,24.97 449.4,24.45 451.1,24.76 452.8,24.53 454.5,24.79 456.2,24.84 457.9,24.77 459.6,24.81 461.3,24.59 463,24.74 464.7,24.42 466.4,24.97 468.1,24.89 469.8,24.69 471.5,24.49 473.2,23.31 474.9,24.5 476.6,24.48 478.3,24.75 480,21.02 481.7,24.62 483.4,23.49 485.1,22.45 486.8,21.56 488.5,23.43 490.2,25 491.9,24.46 493.6,24.52 495.3,24.66 497,24.62 498.7,24.86 498.7,62.58 497,64.48 495.3,64.52 493.6,62.67 491.9,62.61 490.2,62.78 488.5,64.15 486.8,66.37 485.1,63.05 483.4,64.26 481.7,63.04 480,66.32 478.3,63.15 476.6,66.51 474.9,63.14 473.2,64.21 471.5,63.85 469.8,62.97 468.1,62.64 466.4,62.95 464.7,62.78 463,62.94 461.3,65.58 459.6,62.83 457.9,62.92 456.2,62.78 454.5,62.87 452.8,62.9 451.1,62.6 449.4,62.74 447.7,62.63 446,62.82 444.3,62.58 442.6,62.9 440.9,62.84 439.2,63.03 437.5,64.09 435.8,63.07 434.1,63.16 432.4,63.24 430.7,62.89 429,65.01 427.3,62.6 425.6,65.05 423.9,62.64 422.2,62.97 420.5,63.12 418.8,66.06 417.1,64.17 415.4,62.73 413.7,62.79 412,65.43 410.3,63.13 408.6,64.24 406.9,62.75 405.2,64.75 403.5,62.91 401.8,63.14 400.1,65.31 398.4,62.96 396.7,62.95 395,62.94 393.3,66.08 391.6,62.75 389.9,65.8 388.2,63.01 386.5,62.88 384.8,62.89 383.1,62.94 381.4,62.84 379.7,62.77 378,62.75 376.3,62.67 374.6,62.66 372.9,62.72 371.2,62.6 369.5,63.51 367.8,66.42 366.1,62.99 364.4,65.82 362.7,62.58 361,63.04"/><polygon fill="#00ff00" points="361,24.21 362,24.56 363,22.66 364,23.81 365,23.53 366,23.67 367,24.49 368,24.2 369,23.96 370,24.3 371,24.04 372,23.61 373,24.45 374,24.29 375,24.37 376,24.34 377,24.13 378,24.58 379,23.86 380,24.42 381,23.56 382,22.58 383,24.26 384,23.96 385,24.56 386,23.65 387,22.69 388,23.7 389,24.45 390,23.68 391,24.09 392,24.43 393,23.55 394,24.5 395,24.08 396,24.58 397,24.59 398,24.46 399,24.32 400,23.73 401,24.33 402,24.52 403,23.78 404,23.85 405,24.08 406,24.35 407,24.38 408,23.74 409,24.35 410,23.52 411,24.43 412,23.71 413,24.21 414,23.77 415,23.33 416,24.53 417,24.07 418,23.97 419,24.38 420,23.63 421,24.01 422,24.03 423,23.93 424,24.21 425,24.04 426,24.22 427,24.34 428,24.18 429,24.4 430,24.44 431,23.51 432,24.36 433,23.67 434,24.3 435,23.54 436,24.07 437,24.07 438,23.97 439,23.81 440,23.33 441,23.36 442,22.69 443,22.8 444,22.89 445,24.21 446,23.79 447,24.1 448,24.13 449,24.09 450,23.91 451,23.99 452,23.65 453,24.14 454,23.72 455,24.47 456,22.87 457,24 458,24.14 459,23.26 460,23.7 461,23.14 462,24.09 463,23.96 464,23.15 465,24.24 466,24.14 467,24.12 468,24 469,23.74 470,24.38 471,24.45 472,24.47 473,23.92 474,24.37 475,24.23 476,24.01 477,23.74 478,24.05 479,24.25 480,24.32 481,24.11 482,23.91 483,24.24 484,24.12 485,24.39 486,23.99 487,23.99 488,23.43 489,24.42 490,23.88 491,23.67 492,23.62 493,23.57 494,24.48 495,23.56 496,23.66 497,24.47 498,24.35 498,64.04 497,64.13 496,63.45 495,63.19 494,63.31 493,64.04 492,64.26 491,63.71 490,63.62 489,64.19 488,64.1 487,64.11 486,63.72 485,63.34 484,64.79 483,63.84 482,63.38 481,63.79 480,64.22 479,63.27 478,63.16 477,64.7 476,63.59 475,63.24 474,63.7 473,63.46 472,63.65 471,64.19 470,63.52 469,63.86 468,63.58 467,63.5 466,63.16 465,63.63 464,64 463,64.04 462,64.1 461,63.46 460,63.54 459,64.54 458,63.56 457,63.73 456,63.24 455,63.77 454,63.37 453,63.43 452,63.74 451,64.23 450,64.77 449,64.13 448,64.32 447,63.25 446,63.62 445,63.26 444,64.02 443,63.29 442,63.14 441,64.18 440,63.96 439,64.19 438,63.91 437,63.23 436,64.66 435,64.16 434,63.23 433,64 432,63.22 431,63.24 430,63.42 429,63.77 428,64.05 427,63.76 426,63.82 425,63.3 424,63.69 423,63.54 422,63.18 421,63.29 420,63.71 419,64.9 418,63.34 417,63.71 416,64.21 415,63.2 414,63.83 413,63.14 412,63.95 411,64.54 410,63.68 409,63.48 408,63.64 407,63.8 406,63.22 405,63.29 404,63.76 403,63.93 402,63.29 401,63.96 400,63.23 399,63.91 398,63.74 397,63.91 396,63.75 395,63.78 394,64.11 393,63.3 392,63.24 391,64.09 390,64.48 389,63.29 388,63.7 387,64.81 386,64.62 385,63.72 384,64.17 383,63.82 382,63.84 381,63.59 380,64.17 379,63.25 378,63.33 377,64.08 376,63.73 375,63.75 374,63.69 373,64.12 372,63.45 371,63.96 370,64.68 369,63.61 368,63.49 367,64.11 366,63.21 365,63.9 364,63.28 363,63.78 362,63.14 361,63.33"/></g><g stroke="#9a9a9a" stroke-width="1"><line x1="388.3" y1="71.7" x2="388.3" y2="68.7"/><line x1="388.3" y1="17.6" x2="388.3" y2="20.6"/><line x1="442" y1="71.7" x2="442" y2="68.7"/><line x1="442" y1="17.6" x2="442" y2="20.6"/><line x1="361.7" y1="44.6" x2="364.7" y2="44.6"/><line x1="496.3" y1="44.6" x2="493.3" y2="44.6"/></g><rect x="361.7" y="17.6" width="134.6" height="54.1" fill="none" stroke="#9a9a9a" stroke-width="1"/><g font-family="Liberation Serif" font-size="15.8" fill="#3a3a3a"><text x="388.1" y="92.9" text-anchor="middle">36</text><text x="442.4" y="92.9" text-anchor="middle">38</text><text x="495.8" y="92.9" text-anchor="middle">40</text><text x="355.5" y="23.81" text-anchor="end">290</text><text x="355.5" y="50.81" text-anchor="end">280</text><text x="355.5" y="77.91" text-anchor="end">270</text></g>
<line x1="140.6" y1="146" x2="157.44" y2="189.6" stroke="#111" stroke-width="1.1"/><polygon points="159.6,195.2 153.83,188.85 157.44,189.6 159.61,186.62" fill="#000"/>
<line x1="231.9" y1="106" x2="287.42" y2="155.51" stroke="#111" stroke-width="1.1"/><polygon points="291.9,159.5 283.87,156.49 287.42,155.51 287.99,151.86" fill="#000"/>
<line x1="374.3" y1="121.5" x2="456.99" y2="135.59" stroke="#111" stroke-width="1.1"/><polygon points="462.9,136.6 454.49,138.31 456.99,135.59 455.53,132.2" fill="#000"/>
<line x1="585.1" y1="50.5" x2="513.97" y2="35.54" stroke="#111" stroke-width="1.1"/><polygon points="508.1,34.3 516.57,32.91 513.97,35.54 515.29,38.98" fill="#000"/>
<rect x="509.2" y="255.2" width="143.1" height="88.1" fill="#fff" stroke="#9a9a9a" stroke-width="1"/>
<polyline points="511.9,267 536.9,267" fill="none" stroke="#000" stroke-width="2" stroke-dasharray="5.6 6.3"/>
<text x="539.0" y="274.3" font-family="Liberation Serif" font-size="18.6" fill="#000">Load value</text>
<polyline points="511.9,288.5 536.9,288.5" fill="none" stroke="#ff0000" stroke-width="1.6" />
<text x="539.0" y="295.8" font-family="Liberation Serif" font-size="18.6" fill="#000">PI-MPVC</text>
<polyline points="511.9,310 536.9,310" fill="none" stroke="#0000ff" stroke-width="1.6" />
<text x="539.0" y="317.3" font-family="Liberation Serif" font-size="18.6" fill="#000">CSMC-MPVC</text>
<polyline points="511.9,331.5 536.9,331.5" fill="none" stroke="#00ff00" stroke-width="1.6" />
<text x="539.0" y="338.8" font-family="Liberation Serif" font-size="18.6" fill="#000">TSMC-MPVC</text>
<g font-family="Liberation Serif" font-size="21" fill="#000"><text x="79.45" y="374.7" text-anchor="middle">0</text><text x="151.6" y="374.7" text-anchor="middle">5</text><text x="223.85" y="374.7" text-anchor="middle">10</text><text x="296.2" y="374.7" text-anchor="middle">15</text><text x="368.35" y="374.7" text-anchor="middle">20</text><text x="441" y="374.7" text-anchor="middle">25</text><text x="513.45" y="374.7" text-anchor="middle">30</text><text x="585.6" y="374.7" text-anchor="middle">35</text><text x="657.45" y="374.7" text-anchor="middle">40</text><text x="72.6" y="356.05" text-anchor="end">-400</text><text x="72.6" y="271.05" text-anchor="end">-200</text><text x="72.6" y="186.05" text-anchor="end">0</text><text x="72.6" y="101.05" text-anchor="end">200</text><text x="72.6" y="16.05" text-anchor="end">400</text></g><text x="368.6" y="401.0" text-anchor="middle" font-family="Liberation Serif" font-size="23.2" fill="#000">Time (s)</text><text transform="translate(16.9,207.6) rotate(-90)" font-family="Liberation Serif" font-size="23" fill="#000">F<tspan font-size="16" dy="10.6">e</tspan><tspan dy="-10.6"> (N)</tspan></text></svg></div></body></html>
